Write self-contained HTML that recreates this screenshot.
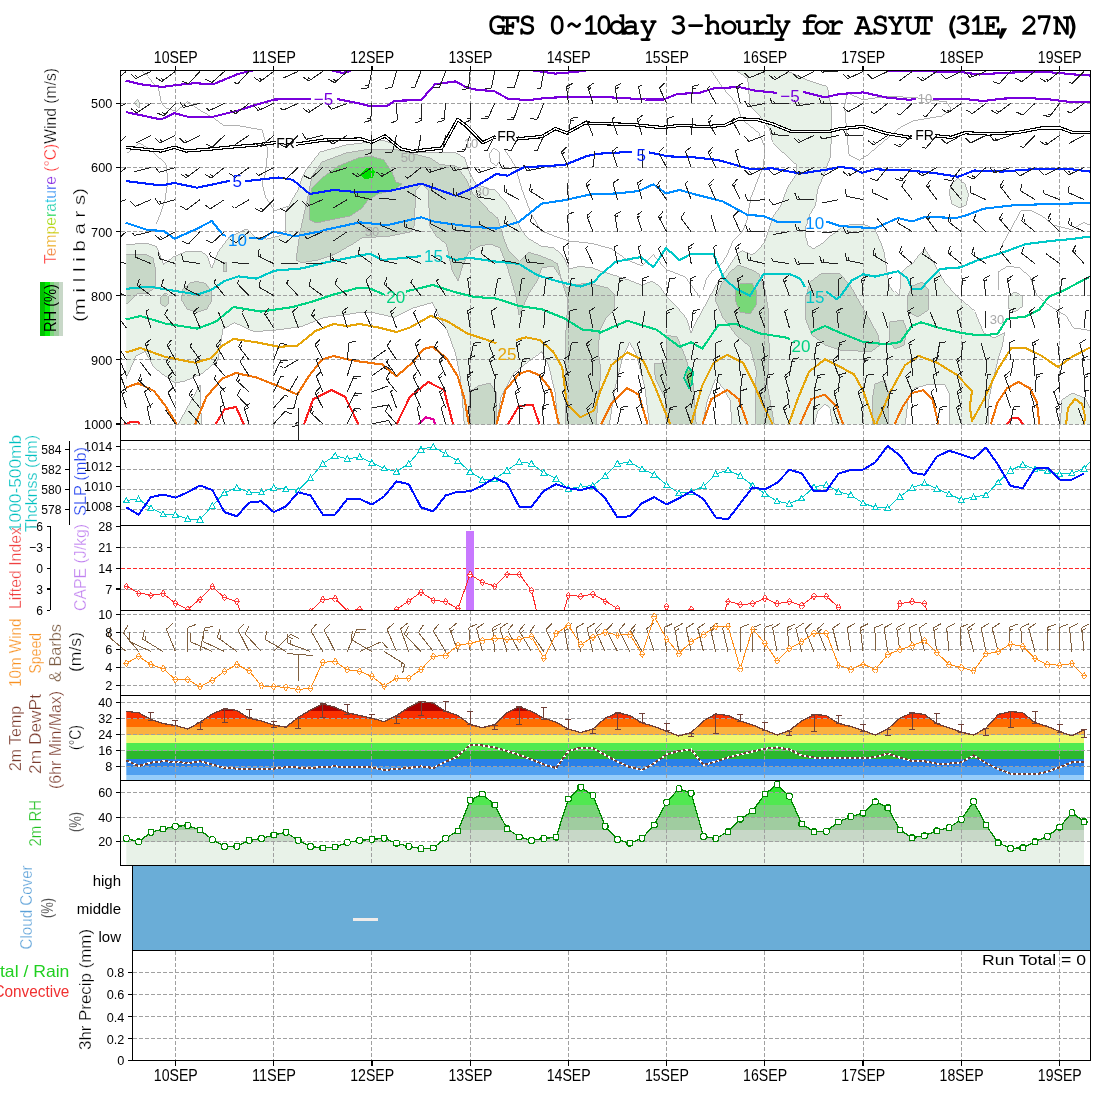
<!DOCTYPE html>
<html><head><meta charset="utf-8"><style>
html,body{margin:0;padding:0;background:#fff;width:1100px;height:1100px;overflow:hidden}
svg{display:block}
.t{font-family:"Liberation Sans",sans-serif}
.thin{stroke:#fff;stroke-width:0.3px}
text{shape-rendering:geometricPrecision}
.title{font-family:"FreeMono","Liberation Mono",monospace;font-weight:normal;stroke:#000;stroke-width:1.5px;font-size-adjust:cap-height 0.58}
</style></head><body>
<svg width="1100" height="1100" viewBox="0 0 1100 1100" shape-rendering="crispEdges">
<rect width="1100" height="1100" fill="#fff"/>
<text class="title" x="488.35 503.10 518.15 532.30 548.15 565.35 582.20 594.90 608.60 622.20 639.45 654.30 669.50 686.75 704.00 719.95 734.95 750.85 762.65 773.55 786.30 799.90 813.10 826.30 840.30 854.50 871.30 887.20 904.05 916.30 928.30 941.30 954.00 969.05 983.55 995.85 1006.30 1020.40 1035.40 1052.90 1065.40" y="34.1" font-size="29" fill="#000">GFS 0~10day 3-hourly for ASYUT (31E, 27N)</text>
<text class="t" x="175.8" y="62.9" font-size="16.8" fill="#000" text-anchor="middle" textLength="44" lengthAdjust="spacingAndGlyphs">10SEP</text>
<text class="t" x="175.8" y="1081.3" font-size="16.8" fill="#000" text-anchor="middle" textLength="44" lengthAdjust="spacingAndGlyphs">10SEP</text>
<text class="t" x="274.0" y="62.9" font-size="16.8" fill="#000" text-anchor="middle" textLength="44" lengthAdjust="spacingAndGlyphs">11SEP</text>
<text class="t" x="274.0" y="1081.3" font-size="16.8" fill="#000" text-anchor="middle" textLength="44" lengthAdjust="spacingAndGlyphs">11SEP</text>
<text class="t" x="372.2" y="62.9" font-size="16.8" fill="#000" text-anchor="middle" textLength="44" lengthAdjust="spacingAndGlyphs">12SEP</text>
<text class="t" x="372.2" y="1081.3" font-size="16.8" fill="#000" text-anchor="middle" textLength="44" lengthAdjust="spacingAndGlyphs">12SEP</text>
<text class="t" x="470.5" y="62.9" font-size="16.8" fill="#000" text-anchor="middle" textLength="44" lengthAdjust="spacingAndGlyphs">13SEP</text>
<text class="t" x="470.5" y="1081.3" font-size="16.8" fill="#000" text-anchor="middle" textLength="44" lengthAdjust="spacingAndGlyphs">13SEP</text>
<text class="t" x="568.7" y="62.9" font-size="16.8" fill="#000" text-anchor="middle" textLength="44" lengthAdjust="spacingAndGlyphs">14SEP</text>
<text class="t" x="568.7" y="1081.3" font-size="16.8" fill="#000" text-anchor="middle" textLength="44" lengthAdjust="spacingAndGlyphs">14SEP</text>
<text class="t" x="666.9" y="62.9" font-size="16.8" fill="#000" text-anchor="middle" textLength="44" lengthAdjust="spacingAndGlyphs">15SEP</text>
<text class="t" x="666.9" y="1081.3" font-size="16.8" fill="#000" text-anchor="middle" textLength="44" lengthAdjust="spacingAndGlyphs">15SEP</text>
<text class="t" x="765.1" y="62.9" font-size="16.8" fill="#000" text-anchor="middle" textLength="44" lengthAdjust="spacingAndGlyphs">16SEP</text>
<text class="t" x="765.1" y="1081.3" font-size="16.8" fill="#000" text-anchor="middle" textLength="44" lengthAdjust="spacingAndGlyphs">16SEP</text>
<text class="t" x="863.3" y="62.9" font-size="16.8" fill="#000" text-anchor="middle" textLength="44" lengthAdjust="spacingAndGlyphs">17SEP</text>
<text class="t" x="863.3" y="1081.3" font-size="16.8" fill="#000" text-anchor="middle" textLength="44" lengthAdjust="spacingAndGlyphs">17SEP</text>
<text class="t" x="961.6" y="62.9" font-size="16.8" fill="#000" text-anchor="middle" textLength="44" lengthAdjust="spacingAndGlyphs">18SEP</text>
<text class="t" x="961.6" y="1081.3" font-size="16.8" fill="#000" text-anchor="middle" textLength="44" lengthAdjust="spacingAndGlyphs">18SEP</text>
<text class="t" x="1059.8" y="62.9" font-size="16.8" fill="#000" text-anchor="middle" textLength="44" lengthAdjust="spacingAndGlyphs">19SEP</text>
<text class="t" x="1059.8" y="1081.3" font-size="16.8" fill="#000" text-anchor="middle" textLength="44" lengthAdjust="spacingAndGlyphs">19SEP</text>
<g id="p1">
<clipPath id="c1"><rect x="121" y="71" width="969" height="353.6"/></clipPath>
<clipPath id="cb1"><rect x="121" y="71" width="969" height="370"/></clipPath>
<clipPath id="c1f"><rect x="126.2" y="71" width="963.8" height="353.6"/></clipPath>
<g clip-path="url(#c1f)">
<polygon points="120.5,244.5 147.3,243.6 156.4,246.4 163.6,264.5 172.7,257.3 185.5,251.8 200.0,251.0 207.3,255.5 211.8,268.2 218.2,251.8 229.0,237.3 245.5,229.0 254.5,237.3 265.5,239.0 280.0,235.5 285.5,233.6 285.5,211.8 292.7,199.0 298.0,190.0 302.0,178.0 306.0,170.0 320.0,152.0 346.0,145.0 370.0,142.0 382.0,140.0 394.0,144.0 410.0,152.0 430.0,152.0 440.0,152.3 456.4,153.0 464.5,158.0 469.5,172.7 476.0,184.2 489.0,189.0 495.0,190.0 506.5,202.7 515.5,218.0 521.8,230.7 528.2,238.4 541.0,246.0 553.6,247.9 561.3,253.6 566.4,262.5 569.0,268.9 579.0,266.4 591.8,267.6 604.5,272.7 617.3,276.5 630.0,280.4 641.8,285.4 652.0,281.0 659.3,286.0 666.5,296.3 677.3,307.3 686.4,318.2 691.0,332.7 696.0,322.0 708.0,300.0 716.0,285.0 725.0,272.0 732.0,262.0 738.0,253.0 742.3,250.7 752.2,255.0 759.8,248.5 765.2,240.9 768.5,231.0 772.9,216.9 780.5,206.0 788.1,186.4 796.9,173.3 796.6,165.0 781.8,151.4 772.7,142.3 769.3,128.6 759.0,115.0 750.0,106.0 747.7,78.6 736.4,70.7 786.4,70.7 806.8,79.8 827.3,86.6 831.8,110.5 830.7,156.0 825.0,171.8 817.5,190.0 815.6,205.3 809.3,215.5 806.0,225.6 805.5,235.8 808.0,244.7 813.0,249.2 822.0,243.5 833.5,233.3 841.0,227.0 851.3,224.4 864.0,224.4 875.5,229.5 880.5,241.0 884.4,253.6 887.0,271.5 889.5,285.5 894.5,291.8 899.6,296.3 901.0,272.7 906.0,267.6 912.4,263.8 920.0,253.6 925.0,249.0 935.0,265.0 945.0,283.0 960.5,300.0 975.0,312.0 983.7,332.7 994.0,338.0 1004.6,332.7 1002.3,346.6 997.6,360.5 993.0,379.0 988.4,402.3 988.4,427.0 120.5,427.0" fill="#e8f2e8" stroke="#a8a8a8" stroke-width="0.9"/>
<polygon points="134.0,103.5 137.5,99.4 140.0,103.0 139.0,107.6" fill="#e8f2e8" stroke="#a8a8a8" stroke-width="0.9"/>
<polygon points="958.0,178.6 965.0,184.0 968.6,195.0 966.0,205.0 960.0,208.0 952.0,204.0 949.0,192.0 952.0,183.0" fill="#e8f2e8" stroke="#a8a8a8" stroke-width="0.9"/>
<polygon points="1008.0,296.0 1015.0,292.0 1022.0,296.0 1023.0,306.0 1015.0,312.0 1008.0,308.0" fill="#e8f2e8" stroke="#a8a8a8" stroke-width="0.9"/>
<polygon points="1060.0,427.0 1062.0,400.0 1072.0,393.0 1085.0,398.0 1090.0,408.0 1090.0,427.0" fill="#e8f2e8" stroke="#a8a8a8" stroke-width="0.9"/>
<polygon points="120.5,380.0 126.0,378.6 136.0,356.0 145.0,351.4 154.0,367.3 165.5,376.4 174.0,383.0 185.0,381.0 202.0,373.6 218.0,360.3 223.0,329.0 234.6,322.7 254.0,331.7 279.0,329.8 301.8,326.4 324.5,317.3 342.7,315.0 358.6,312.7 373.6,312.7 394.0,317.3 412.3,308.2 432.7,302.5 446.4,328.6 455.5,353.6 460.0,376.4 462.3,399.0 464.5,427.0 201.5,427.0 200.0,384.8 176.5,427.0 120.5,427.0" fill="#fff" stroke="#a8a8a8" stroke-width="0.9"/>
<polygon points="496.4,427.0 501.0,396.8 514.5,371.8 530.5,359.3 541.8,351.4 548.6,365.0 555.5,394.5 557.7,427.0" fill="#fff" stroke="#a8a8a8" stroke-width="0.9"/>
<polygon points="609.0,427.0 614.5,390.0 622.7,357.3 629.5,342.3 636.4,354.5 644.5,384.5 650.0,427.0" fill="#fff" stroke="#a8a8a8" stroke-width="0.9"/>
<polygon points="701.8,427.0 707.3,400.9 715.4,379.0 723.6,388.6 730.4,400.9 731.8,427.0" fill="#fff" stroke="#a8a8a8" stroke-width="0.9"/>
<polygon points="813.6,427.0 817.7,411.8 824.5,404.2 830.0,409.0 832.7,427.0" fill="#fff" stroke="#a8a8a8" stroke-width="0.9"/>
<polygon points="905.0,427.0 908.0,400.0 915.0,388.0 930.0,384.0 945.0,385.0 950.0,395.0 949.0,427.0" fill="#fff" stroke="#a8a8a8" stroke-width="0.9"/>
<polygon points="296.0,260.0 300.0,232.0 308.0,196.0 312.0,176.0 322.0,162.0 346.0,153.0 370.0,149.0 398.0,150.0 430.0,158.0 440.0,164.5 456.4,166.2 466.2,179.3 472.7,194.0 481.0,202.2 490.0,211.6 497.6,218.0 502.7,234.5 509.0,251.0 519.3,261.3 528.2,252.4 538.4,255.0 551.0,260.0 557.5,263.8 561.3,279.0 566.4,288.0 573.6,285.0 587.3,283.2 598.6,285.5 608.0,288.0 614.8,295.0 614.0,310.0 606.0,318.0 600.0,330.0 598.0,350.0 601.0,371.0 598.0,400.0 596.0,427.0 566.0,427.0 565.5,380.0 566.0,330.0 568.0,300.0 560.0,276.0 553.2,266.0 541.8,268.0 537.3,281.0 528.0,294.5 519.0,315.0 516.0,296.8 507.7,268.0 500.0,248.0 490.0,244.0 480.0,246.0 469.0,252.0 463.0,265.0 458.0,281.0 452.0,270.0 446.4,244.0 436.0,236.0 430.0,226.0 428.0,190.0 422.0,184.0 416.0,190.0 414.0,226.0 410.0,232.0 390.0,236.0 362.0,238.0 351.8,244.5 336.0,253.6 315.5,260.5 301.8,262.7" fill="#c8d8c8" stroke="#a8a8a8" stroke-width="0.9"/>
<polygon points="120.5,254.0 145.0,254.0 153.0,258.0 156.0,272.0 155.0,288.0 147.0,293.0 137.0,294.0 128.0,303.0 120.5,306.0" fill="#c8d8c8" stroke="#a8a8a8" stroke-width="0.9"/>
<polygon points="164.5,293.0 168.0,296.0 168.5,303.0 165.0,307.0 161.0,304.0 160.5,297.0" fill="#c8d8c8" stroke="#a8a8a8" stroke-width="0.9"/>
<polygon points="196.7,281.5 206.0,283.5 211.5,290.0 212.0,300.0 207.0,309.0 197.0,312.5 187.0,309.0 181.5,300.0 183.0,289.0 190.0,283.0" fill="#c8d8c8" stroke="#a8a8a8" stroke-width="0.9"/>
<polygon points="223.4,262.7 226.8,262.7 226.8,271.8 223.4,271.8" fill="#c8d8c8" stroke="#a8a8a8" stroke-width="0.9"/>
<polygon points="470.0,427.0 469.0,392.0 478.0,386.0 490.0,383.0 496.0,392.0 496.0,427.0" fill="#c8d8c8" stroke="#a8a8a8" stroke-width="0.9"/>
<polygon points="738.6,265.0 752.0,270.0 759.0,274.0 765.0,290.0 768.0,308.0 769.3,353.6 767.3,384.5 775.0,427.0 756.0,427.0 755.0,398.0 756.3,371.0 750.0,346.8 736.4,335.5 722.7,317.3 714.8,299.0 720.5,285.5 730.0,272.0" fill="#c8d8c8" stroke="#a8a8a8" stroke-width="0.9"/>
<polygon points="666.4,335.5 677.3,336.8 685.5,357.3 693.6,384.5 696.4,427.0 666.4,427.0 665.0,398.2 655.4,379.0 654.0,364.0 666.4,362.7" fill="#c8d8c8" stroke="#a8a8a8" stroke-width="0.9"/>
<polygon points="805.0,300.0 810.0,282.0 822.0,273.0 840.0,274.0 850.0,285.0 860.0,303.0 870.0,320.0 878.0,335.0 880.0,345.0 872.0,351.0 858.0,351.0 840.0,350.0 825.0,345.0 812.0,335.0 806.0,320.0" fill="#c8d8c8" stroke="#a8a8a8" stroke-width="0.9"/>
<polygon points="890.0,322.0 903.0,320.0 907.0,330.0 904.0,345.0 895.0,349.0 889.0,340.0" fill="#c8d8c8" stroke="#a8a8a8" stroke-width="0.9"/>
<polygon points="912.0,286.0 922.0,282.0 929.0,290.0 928.0,310.0 918.0,317.0 908.0,312.0 907.0,298.0" fill="#c8d8c8" stroke="#a8a8a8" stroke-width="0.9"/>
<polygon points="875.0,384.0 885.0,380.0 889.0,395.0 888.0,427.0 873.0,427.0 872.0,400.0" fill="#c8d8c8" stroke="#a8a8a8" stroke-width="0.9"/>
<polygon points="310.0,220.0 309.0,200.0 312.0,188.0 322.0,178.0 338.0,166.0 358.0,158.0 370.0,156.0 384.0,160.0 392.0,172.0 396.0,182.0 402.0,184.0 394.0,190.0 378.0,194.0 368.0,200.0 362.0,208.0 350.0,216.0 330.0,220.0 316.0,223.0" fill="#78d878" stroke="#a8a8a8" stroke-width="0.9"/>
<polygon points="740.0,284.0 752.0,283.0 757.0,292.0 756.0,305.0 750.0,314.0 740.0,312.0 735.0,300.0 736.0,289.0" fill="#78d878" stroke="#a8a8a8" stroke-width="0.9"/>
<polygon points="686.0,371.0 692.0,370.0 693.0,380.0 689.0,386.0 686.0,380.0" fill="#78d878" stroke="#a8a8a8" stroke-width="0.9"/>
<polygon points="360.0,175.0 366.0,168.0 372.0,167.0 375.0,172.0 373.0,178.0 364.0,179.0" fill="#00e000"/>
<polyline points="711.4,70.7 722.7,87.7 736.4,103.6 742.0,119.5 759.0,133.2 764.8,146.8 763.6,165.0 751.0,197.3 746.7,221.3 742.3,232.2 733.6,239.8 727.0,255.0 721.6,263.8 711.8,271.4 706.4,279.0 703.0,290.0" fill="none" stroke="#a8a8a8" stroke-width="0.9"/>
<polyline points="505.0,150.0 515.3,166.2 521.8,189.0 530.7,213.0 541.0,230.7 553.6,235.8 568.5,241.0 591.8,243.5 611.0,248.5 627.3,260.0 641.8,265.7 653.5,254.8 666.5,270.0 685.5,277.4 700.0,297.7" fill="none" stroke="#a8a8a8" stroke-width="0.9"/>
<polyline points="847.0,92.8 863.2,99.8 886.4,96.3 914.0,97.5 946.6,102.0 951.3,109.0 942.0,116.0 914.0,120.6 900.0,127.6 886.4,139.2 870.0,153.0 858.5,160.0 849.3,155.4 847.0,134.5 844.6,106.7 847.0,92.8" fill="none" stroke="#a8a8a8" stroke-width="0.9"/>
<polyline points="1002.0,245.0 1020.8,211.0 1030.0,210.0 1041.7,215.7 1053.3,225.0 1071.8,229.6 1083.4,222.6 1090.0,225.0" fill="none" stroke="#a8a8a8" stroke-width="0.9"/>
<polyline points="999.0,290.0 998.0,272.0 1008.0,266.0 1020.0,268.0 1030.0,277.0 1037.0,295.6 1048.6,305.0 1067.0,316.5 1074.0,328.0 1090.0,330.4" fill="none" stroke="#a8a8a8" stroke-width="0.9"/>
<polyline points="141.8,71.0 148.4,76.5 158.2,87.4 161.4,102.7 165.8,108.2 176.7,111.4 187.6,101.6 201.8,111.4 213.8,118.0 223.6,125.6 240.0,126.0 262.0,130.0 268.0,150.0 265.0,175.0 262.0,183.0 265.5,197.0 274.5,210.5 288.0,206.0" fill="none" stroke="#a8a8a8" stroke-width="0.9"/>
<polyline points="126.5,152.9 138.5,143.0 152.7,151.8 165.8,163.8 168.0,180.0 165.0,200.0 160.0,215.0 156.0,224.0" fill="none" stroke="#a8a8a8" stroke-width="0.9"/>
<polyline points="494.0,148.0 499.0,152.0 500.0,160.0 496.0,166.0 491.0,162.0 489.0,154.0 494.0,148.0" fill="none" stroke="#a8a8a8" stroke-width="0.9"/>
</g>
<line x1="120.5" y1="103.4" x2="1090.5" y2="103.4" stroke="#a0a0a0" stroke-width="1" stroke-dasharray="4,2"/>
<line x1="120.5" y1="167.5" x2="1090.5" y2="167.5" stroke="#a0a0a0" stroke-width="1" stroke-dasharray="4,2"/>
<line x1="120.5" y1="231.6" x2="1090.5" y2="231.6" stroke="#a0a0a0" stroke-width="1" stroke-dasharray="4,2"/>
<line x1="120.5" y1="295.7" x2="1090.5" y2="295.7" stroke="#a0a0a0" stroke-width="1" stroke-dasharray="4,2"/>
<line x1="120.5" y1="359.8" x2="1090.5" y2="359.8" stroke="#a0a0a0" stroke-width="1" stroke-dasharray="4,2"/>
<line x1="120.5" y1="424" x2="1090.5" y2="424" stroke="#a0a0a0" stroke-width="1" stroke-dasharray="4,2"/>
<line x1="175.5" y1="70.5" x2="175.5" y2="440.5" stroke="#a0a0a0" stroke-width="1" stroke-dasharray="4,2"/>
<line x1="273.7" y1="70.5" x2="273.7" y2="440.5" stroke="#a0a0a0" stroke-width="1" stroke-dasharray="4,2"/>
<line x1="371.9" y1="70.5" x2="371.9" y2="440.5" stroke="#a0a0a0" stroke-width="1" stroke-dasharray="4,2"/>
<line x1="470.2" y1="70.5" x2="470.2" y2="440.5" stroke="#a0a0a0" stroke-width="1" stroke-dasharray="4,2"/>
<line x1="568.4" y1="70.5" x2="568.4" y2="440.5" stroke="#a0a0a0" stroke-width="1" stroke-dasharray="4,2"/>
<line x1="666.6" y1="70.5" x2="666.6" y2="440.5" stroke="#a0a0a0" stroke-width="1" stroke-dasharray="4,2"/>
<line x1="764.8" y1="70.5" x2="764.8" y2="440.5" stroke="#a0a0a0" stroke-width="1" stroke-dasharray="4,2"/>
<line x1="863.0" y1="70.5" x2="863.0" y2="440.5" stroke="#a0a0a0" stroke-width="1" stroke-dasharray="4,2"/>
<line x1="961.3" y1="70.5" x2="961.3" y2="440.5" stroke="#a0a0a0" stroke-width="1" stroke-dasharray="4,2"/>
<line x1="1059.5" y1="70.5" x2="1059.5" y2="440.5" stroke="#a0a0a0" stroke-width="1" stroke-dasharray="4,2"/>
<g clip-path="url(#c1)">
<polyline points="125.7,80.5 140.5,84.3 162.0,87.0 176.8,85.0 195.0,83.2 213.0,84.3 238.0,74.0 256.4,69.5" fill="none" stroke="#7800dc" stroke-width="2.1" stroke-linejoin="round"/>
<polyline points="330.0,70.0 335.0,71.0 342.0,73.0 349.0,71.5 352.0,70.0" fill="none" stroke="#7800dc" stroke-width="2.1" stroke-linejoin="round"/>
<polyline points="530.0,70.0 540.0,71.5 555.5,73.6 575.0,72.0 589.5,70.0" fill="none" stroke="#7800dc" stroke-width="2.1" stroke-linejoin="round"/>
<polyline points="888.0,71.0 920.0,71.2 960.5,72.0 979.0,74.5 1002.0,73.0 1037.0,71.5 1060.0,73.0 1072.0,74.3 1090.0,75.5" fill="none" stroke="#7800dc" stroke-width="2.1" stroke-linejoin="round"/>
<polyline points="125.7,112.0 161.0,119.5 174.5,113.2 188.0,116.8 213.0,116.8 238.0,110.5 256.0,104.8 274.5,99.5 311.0,99.0" fill="none" stroke="#7800dc" stroke-width="2.1" stroke-linejoin="round"/>
<polyline points="337.0,99.0 360.0,103.6 371.4,106.4 387.0,106.0 395.0,100.7 421.0,100.2 435.0,84.3 455.5,81.4 467.0,87.7 478.0,90.0 494.0,91.0 507.7,98.6 528.0,100.2 546.0,98.0 569.0,96.8 600.0,96.8 622.7,98.0 645.5,99.5 663.6,99.5 677.3,94.0 700.0,92.7 713.6,88.4 738.6,87.0 754.5,90.5 775.0,92.7 777.0,92.7" fill="none" stroke="#7800dc" stroke-width="2.1" stroke-linejoin="round"/>
<polyline points="803.0,92.3 804.5,92.3 825.0,97.3 840.0,94.0 863.2,92.4 886.4,97.5 909.5,99.8 916.0,99.0" fill="none" stroke="#7800dc" stroke-width="2.1" stroke-linejoin="round"/>
<polyline points="933.0,98.6 960.5,98.6 983.7,101.0 1002.3,98.6 1025.4,97.9 1048.6,99.3 1071.8,102.1 1090.0,102.1" fill="none" stroke="#7800dc" stroke-width="2.1" stroke-linejoin="round"/>
<polyline points="125.7,181.0 161.0,185.5 174.5,183.0 197.0,187.7 229.0,181.0 230.0,181.0" fill="none" stroke="#0020ff" stroke-width="2.1" stroke-linejoin="round"/>
<polyline points="245.0,181.0 247.0,181.0 279.0,177.5 292.7,179.8 309.8,194.0 333.6,190.0 360.0,192.3 389.5,191.0 421.4,183.6 455.5,195.7 473.6,187.7 496.4,174.0 507.7,175.7 523.6,167.3 564.5,165.0 587.0,156.0 600.0,153.6 632.0,151.8" fill="none" stroke="#0020ff" stroke-width="2.1" stroke-linejoin="round"/>
<polyline points="649.0,152.5 650.0,152.5 668.2,156.4 691.0,157.0 718.0,160.0 750.0,169.0 772.7,168.4 800.0,173.6 827.3,169.5 840.0,167.0 851.6,168.2 862.0,172.8 874.8,169.3 909.5,170.5 932.7,172.8 958.2,176.7 974.4,170.5 1002.3,171.6 1037.0,168.8 1071.8,169.3 1090.0,171.6" fill="none" stroke="#0020ff" stroke-width="2.1" stroke-linejoin="round"/>
<polyline points="125.5,222.7 147.3,230.0 163.6,231.0 174.5,238.7 196.4,229.0 211.8,221.0 222.7,234.5 226.0,236.0" fill="none" stroke="#008cff" stroke-width="2.1" stroke-linejoin="round"/>
<polyline points="249.0,237.6 251.0,237.6 261.8,239.0 272.7,231.8 283.6,233.6 294.5,236.4 320.0,231.5 324.5,230.0 360.0,222.3 387.0,225.2 421.4,217.3 435.0,221.8 469.0,226.4 496.4,228.6 519.0,221.8 541.8,203.6 564.5,200.2 592.0,194.0 600.0,194.0 618.0,193.4 638.6,191.0 653.4,184.3 666.0,193.4 679.5,190.0 695.5,194.5 722.7,201.4 747.7,215.0 763.6,216.0 777.3,221.8 801.0,221.8" fill="none" stroke="#008cff" stroke-width="2.1" stroke-linejoin="round"/>
<polyline points="826.0,221.8 827.3,221.8 840.0,226.0 874.8,228.4 898.0,218.0 911.9,221.5 925.8,216.8 955.9,218.0 965.2,215.7 983.7,208.7 1013.9,205.2 1048.6,204.1 1090.0,203.0" fill="none" stroke="#008cff" stroke-width="2.1" stroke-linejoin="round"/>
<polyline points="125.7,288.9 149.5,286.6 175.7,291.0 197.3,294.5 211.0,290.0 224.5,281.0 238.2,276.4 256.4,278.6 274.5,270.7 301.8,268.4 324.5,262.7 347.3,258.2 370.0,253.6 382.7,260.0 419.0,256.4 421.0,256.4" fill="none" stroke="#00c8c8" stroke-width="2.1" stroke-linejoin="round"/>
<polyline points="446.0,256.0 446.4,256.0 455.5,260.0 469.0,257.7 496.4,261.6 519.0,263.9 537.3,275.2 560.0,282.0 580.5,286.6 594.0,282.0 600.0,275.2 616.0,261.6 641.0,257.0 653.4,267.3 666.0,248.0 679.5,260.0 691.0,254.0 713.6,254.0 723.9,278.6 736.4,288.9 750.0,295.7 763.6,274.0 788.6,273.6 800.0,278.6 805.0,287.0" fill="none" stroke="#00c8c8" stroke-width="2.1" stroke-linejoin="round"/>
<polyline points="826.0,292.0 827.3,292.3 836.4,299.0 840.0,296.8 851.6,280.6 863.2,274.3 874.8,276.6 898.0,271.3 907.2,278.2 911.9,288.7 921.0,288.7 939.7,269.0 960.5,267.4 979.0,259.7 1002.3,252.7 1025.4,244.2 1048.6,241.2 1071.8,239.0 1090.0,236.5" fill="none" stroke="#00c8c8" stroke-width="2.1" stroke-linejoin="round"/>
<polyline points="125.7,319.5 140.5,316.0 165.5,323.6 197.3,328.6 215.5,321.8 233.6,307.0 261.0,311.6 292.7,307.0 313.2,301.4 333.6,294.5 358.6,287.7 370.0,288.5 382.7,294.0 385.0,295.0" fill="none" stroke="#00d282" stroke-width="2.1" stroke-linejoin="round"/>
<polyline points="406.0,292.0 407.7,291.0 432.7,285.0 455.5,292.3 473.6,296.8 496.4,298.6 519.0,306.0 541.8,309.3 564.5,318.4 582.7,329.8 598.6,331.0 600.0,332.7 627.3,320.7 656.8,329.8 679.5,346.8 691.0,342.3 702.3,348.6 718.2,325.2 736.4,324.0 759.0,333.2 786.4,337.7 790.0,339.0" fill="none" stroke="#00d282" stroke-width="2.1" stroke-linejoin="round"/>
<polyline points="811.0,333.0 813.6,331.0 825.0,326.0 840.0,332.7 863.2,342.0 886.4,344.3 900.3,342.0 911.9,325.8 921.0,322.3 939.7,328.0 960.5,332.7 979.0,335.5 997.6,333.9 1007.0,318.8 1025.4,316.5 1039.3,309.5 1048.6,296.8 1062.5,291.0 1089.2,277.0" fill="none" stroke="#00d282" stroke-width="2.1" stroke-linejoin="round"/>
<polyline points="125.7,352.5 140.5,348.0 165.5,357.0 195.0,362.7 211.0,358.2 222.3,345.7 233.6,338.9 256.4,342.3 279.0,346.8 297.3,345.7 315.5,331.0 333.6,324.0 347.3,326.0 360.0,324.0 378.2,327.5 396.4,332.0 410.0,327.5 430.5,316.0 446.4,320.7 466.8,333.2 487.3,340.0 496.4,343.4" fill="none" stroke="#e6a50a" stroke-width="2.1" stroke-linejoin="round"/>
<polyline points="516.0,340.0 526.0,337.3 539.5,340.0 553.0,351.4 562.3,367.3 566.8,403.6 580.5,417.3 594.0,410.5 600.0,392.0 611.4,365.0 627.3,352.5 643.2,360.5 654.5,385.5 663.6,408.2 670.5,424.5" fill="none" stroke="#e6a50a" stroke-width="2.1" stroke-linejoin="round"/>
<polyline points="691.0,424.5 702.3,385.5 713.6,362.7 727.3,354.8 743.2,362.7 754.5,385.5 763.6,406.0 772.7,424.5" fill="none" stroke="#e6a50a" stroke-width="2.1" stroke-linejoin="round"/>
<polyline points="788.6,424.5 797.7,399.0 809.0,371.8 825.0,359.3 841.0,367.3 854.0,374.4 863.2,390.7 874.8,424.5" fill="none" stroke="#e6a50a" stroke-width="2.1" stroke-linejoin="round"/>
<polyline points="876.0,424.5 891.0,390.7 905.0,365.2 918.8,355.9 937.4,362.9 956.0,374.4 972.1,390.7 969.8,406.9 972.1,420.8 983.7,400.0 997.6,369.8 1011.5,347.8 1025.4,347.8 1041.7,355.9 1057.9,367.0 1071.8,357.0 1090.0,347.5" fill="none" stroke="#e6a50a" stroke-width="2.1" stroke-linejoin="round"/>
<polyline points="1066.0,424.5 1068.0,408.0 1075.0,399.0 1082.0,404.0 1085.0,416.0 1084.0,424.5" fill="none" stroke="#e6a50a" stroke-width="2.1" stroke-linejoin="round"/>
<polyline points="125.7,387.7 138.2,383.2 154.0,391.0 165.5,406.0 176.8,424.5" fill="none" stroke="#f0730a" stroke-width="2.1" stroke-linejoin="round"/>
<polyline points="195.0,424.5 206.4,396.8 222.3,378.6 236.0,373.0 256.4,377.5 276.8,385.5 297.3,394.5 308.6,376.4 322.3,359.3 333.6,356.0 347.3,359.3 360.0,361.6 382.7,364.5 396.4,376.4 412.3,362.7 423.6,349.0 432.7,346.8 446.4,358.2 457.7,376.4 464.5,399.0 469.0,424.5" fill="none" stroke="#f0730a" stroke-width="2.1" stroke-linejoin="round"/>
<polyline points="496.4,424.5 505.5,390.0 519.0,374.0 528.2,370.7 539.5,375.2 551.0,390.0 558.9,424.5" fill="none" stroke="#f0730a" stroke-width="2.1" stroke-linejoin="round"/>
<polyline points="601.0,424.5 611.4,403.6 627.3,388.2 638.6,394.5 647.7,424.5" fill="none" stroke="#f0730a" stroke-width="2.1" stroke-linejoin="round"/>
<polyline points="702.3,424.5 711.4,399.0 727.3,390.0 738.6,399.0 747.7,424.5" fill="none" stroke="#f0730a" stroke-width="2.1" stroke-linejoin="round"/>
<polyline points="800.0,424.5 811.4,399.0 825.0,394.5 836.4,406.0 843.2,424.5" fill="none" stroke="#f0730a" stroke-width="2.1" stroke-linejoin="round"/>
<polyline points="894.5,424.5 902.6,406.9 911.9,393.0 923.4,390.2 932.7,400.0 938.5,424.5" fill="none" stroke="#f0730a" stroke-width="2.1" stroke-linejoin="round"/>
<polyline points="990.7,424.5 997.6,402.3 1006.9,388.4 1018.5,381.9 1030.0,388.4 1037.0,402.3 1039.3,424.5" fill="none" stroke="#f0730a" stroke-width="2.1" stroke-linejoin="round"/>
<polyline points="124.5,424.5 131.4,421.8 138.2,421.8 139.3,424.5" fill="none" stroke="#fa1e1e" stroke-width="2.1" stroke-linejoin="round"/>
<polyline points="215.5,424.5 224.5,409.3 236.0,407.0 243.9,424.5" fill="none" stroke="#fa1e1e" stroke-width="2.1" stroke-linejoin="round"/>
<polyline points="304.0,424.5 313.2,399.0 331.4,390.0 345.0,396.8 358.6,424.5" fill="none" stroke="#fa1e1e" stroke-width="2.1" stroke-linejoin="round"/>
<polyline points="396.4,424.5 410.0,396.8 428.2,382.0 444.0,390.0 453.2,424.5" fill="none" stroke="#fa1e1e" stroke-width="2.1" stroke-linejoin="round"/>
<polyline points="507.7,424.5 519.0,406.0 532.7,404.8 539.5,424.5" fill="none" stroke="#fa1e1e" stroke-width="2.1" stroke-linejoin="round"/>
<polyline points="1006.9,424.5 1011.5,418.5 1018.5,418.0 1023.1,424.5" fill="none" stroke="#fa1e1e" stroke-width="2.1" stroke-linejoin="round"/>
<polyline points="418.0,424.5 426.0,417.3 433.9,419.5 435.0,424.5" fill="none" stroke="#e0009c" stroke-width="2.1" stroke-linejoin="round"/>
<polyline points="688.0,367.0 693.0,372.0 692.0,384.0 689.0,388.0 684.0,378.0 688.0,367.0" fill="none" stroke="#00c88c" stroke-width="1.6" stroke-linejoin="round"/>
<polyline points="125.7,147.3 161.0,151.0 174.5,147.3 186.0,151.0 211.0,149.0 233.6,146.8 256.0,145.0 274.5,142.7 276.0,142.6" fill="none" stroke="#000" stroke-width="3.4" stroke-linejoin="round"/>
<polyline points="125.7,147.3 161.0,151.0 174.5,147.3 186.0,151.0 211.0,149.0 233.6,146.8 256.0,145.0 274.5,142.7 276.0,142.6" fill="none" stroke="#fff" stroke-width="1.2" stroke-linejoin="round"/>
<polyline points="296.0,144.0 297.0,144.0 324.5,140.0 361.0,139.0 371.4,142.3 385.0,136.0 401.0,149.0 412.0,151.4 441.8,148.0 457.7,119.5 466.8,126.4 482.7,142.7 494.0,137.3 496.0,137.5" fill="none" stroke="#000" stroke-width="3.4" stroke-linejoin="round"/>
<polyline points="296.0,144.0 297.0,144.0 324.5,140.0 361.0,139.0 371.4,142.3 385.0,136.0 401.0,149.0 412.0,151.4 441.8,148.0 457.7,119.5 466.8,126.4 482.7,142.7 494.0,137.3 496.0,137.5" fill="none" stroke="#fff" stroke-width="1.2" stroke-linejoin="round"/>
<polyline points="516.0,138.9 516.8,138.9 541.8,136.6 555.5,128.6 566.8,133.0 585.0,123.0 600.0,123.6 631.8,124.5 661.4,127.5 681.8,125.2 704.5,126.8 725.0,125.2 738.6,119.0 756.8,119.5 772.7,124.0 791.0,131.4 829.5,131.4 840.0,128.7 863.2,126.4 886.4,133.4 909.5,137.3 912.0,137.0" fill="none" stroke="#000" stroke-width="3.4" stroke-linejoin="round"/>
<polyline points="516.0,138.9 516.8,138.9 541.8,136.6 555.5,128.6 566.8,133.0 585.0,123.0 600.0,123.6 631.8,124.5 661.4,127.5 681.8,125.2 704.5,126.8 725.0,125.2 738.6,119.0 756.8,119.5 772.7,124.0 791.0,131.4 829.5,131.4 840.0,128.7 863.2,126.4 886.4,133.4 909.5,137.3 912.0,137.0" fill="none" stroke="#fff" stroke-width="1.2" stroke-linejoin="round"/>
<polyline points="935.0,135.7 951.3,137.3 965.2,132.7 988.4,134.0 1016.2,132.7 1041.7,128.0 1060.2,128.0 1071.8,132.2 1090.0,132.7" fill="none" stroke="#000" stroke-width="3.4" stroke-linejoin="round"/>
<polyline points="935.0,135.7 951.3,137.3 965.2,132.7 988.4,134.0 1016.2,132.7 1041.7,128.0 1060.2,128.0 1071.8,132.2 1090.0,132.7" fill="none" stroke="#fff" stroke-width="1.2" stroke-linejoin="round"/>
</g>
<path d="M126.3,71.4L113.2,82.1M113.2,82.1L107.1,78.6M115.1,80.6L112.1,78.8M126.3,103.4L111.1,110.9M111.1,110.9L106.0,106.1M113.3,109.8L110.8,107.4M126.3,135.4L114.8,148.0M114.8,148.0L111.6,146.7M126.3,167.5L113.2,178.3M113.2,178.3L110.2,176.6M126.3,199.6L110.1,204.8M110.1,204.8L105.8,199.2M126.3,231.6L113.8,243.1M113.8,243.1L107.6,239.9M126.3,263.6L109.9,259.0M126.3,295.7L110.3,290.1M110.3,290.1L110.2,286.6M126.3,327.8L116.0,314.2M116.0,314.2L119.8,308.3M126.3,359.8L117.5,345.2M126.3,375.8L119.9,360.1M119.9,360.1L122.4,357.7M126.3,391.9L120.7,375.8M120.7,375.8L126.1,371.4M126.3,407.9L121.5,391.6M121.5,391.6L127.1,387.4M122.2,394.0L125.0,391.9M126.3,423.9L115.3,410.9M115.3,410.9L117.1,407.9M150.9,71.4L135.5,78.7M135.5,78.7L130.5,73.7M137.8,77.6L135.3,75.1M150.9,103.4L136.8,112.9M136.8,112.9L131.1,108.8M138.9,111.5L136.0,109.5M150.9,135.4L135.7,143.2M150.9,167.5L134.4,171.8M150.9,199.6L135.3,206.4M135.3,206.4L130.5,201.4M150.9,231.6L134.3,235.5M134.3,235.5L132.4,232.6M150.9,263.6L135.2,257.1M135.2,257.1L135.5,250.1M150.9,295.7L137.4,285.3M137.4,285.3L139.5,278.6M139.4,286.8L140.4,283.5M150.9,327.8L145.8,311.5M145.8,311.5L148.6,309.4M150.9,359.8L145.3,343.7M145.3,343.7L150.7,339.3M146.1,346.1L148.8,343.9M150.9,375.8L140.5,362.3M150.9,391.9L138.5,380.1M138.5,380.1L141.3,373.7M140.4,381.9L141.8,378.6M150.9,407.9L144.5,392.1M144.5,392.1L149.6,387.4M150.9,423.9L147.1,407.3M147.1,407.3L153.0,403.5M175.4,71.4L161.8,81.5M161.8,81.5L156.0,77.7M163.8,80.0L160.9,78.1M175.4,103.4L163.8,115.8M163.8,115.8L157.4,113.1M165.5,114.0L162.3,112.6M175.4,135.4L160.1,142.9M160.1,142.9L155.1,138.0M162.4,141.8L159.9,139.4M175.4,167.5L159.1,172.4M159.1,172.4L155.0,166.8M175.4,199.6L159.1,204.2M159.1,204.2L155.0,198.5M161.5,203.5L159.4,200.6M175.4,231.6L160.6,239.9M160.6,239.9L155.3,235.3M162.8,238.7L160.1,236.4M175.4,263.6L159.2,258.6M159.2,258.6L158.8,251.7M175.4,295.7L161.5,285.9M161.5,285.9L163.4,279.1M175.4,327.8L164.6,314.6M164.6,314.6L168.2,308.6M175.4,359.8L167.1,345.0M167.1,345.0L171.7,339.7M168.3,347.1L170.6,344.5M175.4,375.8L166.1,361.6M166.1,361.6L170.4,356.0M167.5,363.7L169.6,360.9M175.4,391.9L168.0,376.5M168.0,376.5L172.9,371.5M169.1,378.8L171.5,376.3M175.4,407.9L168.1,392.5M168.1,392.5L173.0,387.5M175.4,423.9L165.6,410.0M200.0,71.4L188.4,83.8M188.4,83.8L182.0,81.1M200.0,103.4L183.4,107.3M183.4,107.3L179.6,101.5M185.9,106.7L183.9,103.8M200.0,135.4L184.8,143.1M184.8,143.1L179.7,138.3M187.0,142.0L184.5,139.6M200.0,167.5L186.4,177.7M186.4,177.7L180.5,173.8M188.4,176.2L185.4,174.3M200.0,199.6L186.4,209.8M186.4,209.8L180.6,206.0M200.0,231.6L188.4,244.0M188.4,244.0L181.9,241.3M200.0,263.6L183.2,261.2M183.2,261.2L181.7,254.4M200.0,295.7L184.6,288.4M184.6,288.4L185.3,281.4M186.9,289.4L187.2,286.0M200.0,327.8L193.4,312.1M193.4,312.1L198.5,307.3M194.3,314.4L196.9,312.0M200.0,359.8L190.0,346.0M190.0,346.0L191.9,343.1M200.0,375.8L195.0,359.6M195.0,359.6L200.5,355.4M195.7,362.0L198.5,359.9M200.0,391.9L192.9,376.4M192.9,376.4L195.4,373.9M200.0,407.9L189.1,394.8M189.1,394.8L192.6,388.8M190.7,396.8L192.4,393.7M200.0,423.9L188.8,411.1M224.5,71.4L211.8,82.6M211.8,82.6L205.6,79.2M224.5,103.4L209.1,110.6M209.1,110.6L206.6,108.1M224.5,135.4L212.2,147.1M212.2,147.1L205.9,144.0M224.5,167.5L211.2,178.0M211.2,178.0L205.2,174.3M213.2,176.5L210.2,174.6M224.5,199.6L210.3,208.8M210.3,208.8L204.7,204.6M224.5,231.6L212.0,243.1M212.0,243.1L205.8,239.8M224.5,263.6L209.6,255.5M209.6,255.5L210.2,252.0M224.5,295.7L213.9,282.5M213.9,282.5L215.7,279.5M224.5,327.8L218.4,311.9M224.5,359.8L216.2,345.0M216.2,345.0L220.8,339.7M217.4,347.2L219.7,344.5M224.5,375.8L213.7,362.8M213.7,362.8L217.2,356.7M215.3,364.7L217.0,361.7M224.5,391.9L214.2,378.4M214.2,378.4L216.0,375.4M224.5,407.9L220.0,391.5M220.0,391.5L225.7,387.4M224.5,423.9L219.9,407.5M219.9,407.5L222.8,405.5M249.1,71.4L237.6,83.9M237.6,83.9L234.4,82.6M249.1,103.4L235.6,113.7M235.6,113.7L229.7,109.9M237.6,112.2L234.6,110.3M249.1,135.4L234.9,144.7M249.1,167.5L235.3,177.4M235.3,177.4L229.5,173.5M249.1,199.6L234.5,208.3M234.5,208.3L231.8,206.0M249.1,231.6L236.2,242.7M236.2,242.7L230.1,239.3M249.1,263.6L232.1,262.7M249.1,295.7L237.3,283.5M237.3,283.5L238.8,280.3M249.1,327.8L241.8,312.4M241.8,312.4L244.3,309.9M249.1,359.8L238.6,346.4M238.6,346.4L242.3,340.5M240.1,348.4L242.0,345.4M249.1,375.8L239.9,361.5M239.9,361.5L244.1,356.0M249.1,391.9L236.5,380.5M236.5,380.5L239.1,374.0M238.3,382.1L239.7,378.9M249.1,407.9L237.4,395.5M237.4,395.5L240.5,389.3M249.1,423.9L244.1,407.7M244.1,407.7L249.6,403.4M244.8,410.1L247.6,407.9M273.7,71.4L260.0,81.5M260.0,81.5L254.2,77.6M262.0,80.0L259.1,78.1M273.7,103.4L258.2,110.5M258.2,110.5L253.3,105.5M260.5,109.5L258.0,107.0M273.7,135.4L260.9,146.6M260.9,146.6L254.7,143.2M262.7,145.0L259.7,143.3M273.7,167.5L258.7,175.5M258.7,175.5L256.0,173.1M273.7,199.6L261.7,211.6M261.7,211.6L255.3,208.7M263.4,209.8L260.3,208.4M273.7,231.6L258.4,239.1M258.4,239.1L255.9,236.7M273.7,263.6L258.4,256.2M258.4,256.2L259.1,249.3M260.6,257.3L261.0,253.8M273.7,295.7L259.0,287.1M259.0,287.1L260.3,280.2M273.7,327.8L264.4,313.5M264.4,313.5L268.7,307.9M265.8,315.6L267.9,312.8M273.7,359.8L279.8,343.9M279.8,343.9L286.8,344.1M273.7,375.8L280.6,360.3M280.6,360.3L287.6,360.8M279.6,362.6L283.0,362.8M273.7,391.9L280.8,376.4M280.8,376.4L284.3,376.7M273.7,407.9L285.0,395.2M285.0,395.2L288.3,396.6M273.7,423.9L285.0,411.3M285.0,411.3L291.5,413.9M298.2,71.4L282.7,78.3M298.2,103.4L282.7,110.3M282.7,110.3L280.3,107.8M298.2,135.4L286.1,147.3M286.1,147.3L279.7,144.3M287.8,145.6L284.7,144.1M298.2,167.5L285.8,179.1M285.8,179.1L282.6,177.5M298.2,199.6L286.1,211.5M286.1,211.5L279.8,208.5M298.2,231.6L285.5,242.9M285.5,242.9L279.3,239.5M298.2,263.6L281.2,263.2M298.2,295.7L286.6,283.2M286.6,283.2L288.2,280.1M298.2,327.8L292.6,311.7M292.6,311.7L298.0,307.3M298.2,359.8L283.5,368.3M283.5,368.3L280.8,366.1M298.2,375.8L289.7,390.5M289.7,390.5L286.3,389.9M298.2,391.9L293.8,408.3M293.8,408.3L286.8,408.9M298.2,407.9L298.2,424.9M298.2,424.9L291.6,427.3M298.2,422.4L294.9,423.6M298.2,423.9L298.2,440.9M298.2,440.9L294.9,442.1M322.8,71.4L308.8,81.0M308.8,81.0L303.1,77.0M310.9,79.6L308.0,77.6M322.8,103.4L308.5,112.6M308.5,112.6L302.9,108.4M310.6,111.3L307.8,109.2M322.8,135.4L306.2,139.3M306.2,139.3L302.4,133.4M322.8,167.5L310.2,178.9M310.2,178.9L304.0,175.7M322.8,199.6L307.2,206.4M307.2,206.4L302.4,201.3M309.5,205.4L307.1,202.9M322.8,231.6L307.4,238.7M307.4,238.7L304.9,236.3M322.8,263.6L305.8,263.5M322.8,295.7L309.0,285.8M309.0,285.8L310.8,279.1M322.8,327.8L311.6,315.0M311.6,315.0L314.9,308.8M313.2,316.9L314.9,313.8M322.8,359.8L315.1,344.6M315.1,344.6L319.9,339.5M316.2,346.9L318.6,344.3M322.8,375.8L316.1,360.2M316.1,360.2L318.7,357.8M322.8,391.9L316.2,376.2M316.2,376.2L321.4,371.4M322.8,407.9L315.1,392.7M315.1,392.7L319.9,387.6M316.2,394.9L318.6,392.4M322.8,423.9L310.3,412.3M310.3,412.3L313.0,405.9M312.1,414.0L313.5,410.8M347.3,71.4L334.7,82.7M334.7,82.7L328.5,79.4M336.5,81.0L333.4,79.4M347.3,103.4L331.4,109.3M331.4,109.3L326.9,103.9M347.3,135.4L332.7,144.1M332.7,144.1L327.3,139.7M334.9,142.9L332.2,140.6M347.3,167.5L331.2,172.7M331.2,172.7L329.0,170.0M347.3,199.6L332.7,208.2M347.3,231.6L333.2,241.0M347.3,263.6L330.8,259.6M330.8,259.6L330.1,252.6M333.3,260.2L332.9,256.7M347.3,295.7L334.9,284.1M334.9,284.1L337.6,277.7M347.3,327.8L342.3,311.5M342.3,311.5L347.9,307.3M343.0,313.9L345.8,311.8M347.3,359.8L348.8,342.9M348.8,342.9L355.6,341.1M347.3,375.8L352.3,359.6M352.3,359.6L355.8,359.4M347.3,391.9L354.0,376.2M354.0,376.2L361.0,376.6M353.0,378.5L356.5,378.7M347.3,407.9L355.3,392.9M355.3,392.9L362.3,393.8M354.1,395.1L357.6,395.6M347.3,423.9L354.5,408.5M354.5,408.5L361.5,409.1M353.5,410.8L357.0,411.1M371.9,71.4L368.1,87.9M368.1,87.9L361.2,88.8M368.7,85.5L365.2,85.9M371.9,103.4L370.7,120.4M370.7,120.4L364.0,122.3M370.9,117.9L367.5,118.8M371.9,135.4L372.0,152.4M372.0,152.4L365.5,154.9M371.9,167.5L357.8,177.0M357.8,177.0L352.1,172.9M359.9,175.6L357.0,173.5M371.9,199.6L355.3,196.0M355.3,196.0L354.3,189.1M357.7,196.6L357.2,193.1M371.9,231.6L357.8,222.1M357.8,222.1L358.6,218.7M371.9,263.6L358.1,253.7M358.1,253.7L360.0,247.0M371.9,295.7L365.9,279.8M365.9,279.8L371.2,275.2M371.9,327.8L364.9,312.3M364.9,312.3L367.4,309.8M371.9,359.8L385.8,350.0M371.9,375.8L385.8,366.1M385.8,366.1L391.6,370.1M383.8,367.5L386.6,369.5M371.9,391.9L387.9,386.0M371.9,407.9L388.6,404.9M388.6,404.9L392.1,411.0M371.9,423.9L388.5,420.4M388.5,420.4L392.2,426.3M396.5,71.4L391.9,87.7M391.9,87.7L384.9,88.3M396.5,103.4L397.3,120.4M397.3,120.4L390.9,123.1M396.5,135.4L392.5,152.0M392.5,152.0L385.5,152.8M396.5,167.5L382.0,176.4M382.0,176.4L376.5,172.0M384.1,175.1L381.4,172.9M396.5,199.6L379.5,198.2M396.5,231.6L380.6,225.4M380.6,225.4L380.7,221.9M396.5,263.6L379.8,260.2M379.8,260.2L378.8,253.3M396.5,295.7L384.1,284.0M384.1,284.0L386.9,277.6M385.9,285.7L387.3,282.5M396.5,327.8L390.6,311.8M390.6,311.8L395.9,307.3M391.4,314.2L394.1,311.9M396.5,359.8L387.1,345.6M387.1,345.6L391.2,340.0M396.5,375.8L386.6,362.0M386.6,362.0L388.6,359.1M396.5,391.9L385.9,378.5M385.9,378.5L389.6,372.5M387.5,380.5L389.3,377.5M396.5,407.9L390.7,391.9M390.7,391.9L393.3,389.6M396.5,423.9L385.3,411.1M385.3,411.1L388.6,405.0M421.0,71.4L414.8,87.2M414.8,87.2L411.3,87.1M421.0,103.4L421.8,120.4M421.8,120.4L415.4,123.1M421.7,117.9L418.5,119.2M421.0,135.4L417.8,152.1M417.8,152.1L410.9,153.2M418.3,149.7L414.8,150.2M421.0,167.5L407.8,178.2M407.8,178.2L404.8,176.4M421.0,199.6L406.4,190.8M421.0,231.6L404.7,227.0M404.7,227.0L404.1,220.0M407.1,227.7L406.8,224.2M421.0,263.6L405.6,256.5M421.0,295.7L410.7,282.2M410.7,282.2L412.6,279.2M421.0,327.8L413.5,312.5M413.5,312.5L415.9,310.0M421.0,359.8L415.1,343.9M415.1,343.9L420.5,339.3M416.0,346.2L418.7,343.9M421.0,375.8L412.7,361.0M412.7,361.0L417.3,355.7M414.0,363.2L416.2,360.5M421.0,391.9L412.8,377.0M412.8,377.0L417.4,371.7M414.0,379.2L416.3,376.5M421.0,407.9L413.9,392.4M413.9,392.4L418.9,387.5M415.0,394.7L417.4,392.2M421.0,423.9L417.1,407.4M417.1,407.4L420.0,405.4M445.6,71.4L439.6,87.3M439.6,87.3L432.6,87.2M440.5,84.9L437.0,84.9M445.6,103.4L444.1,120.3M444.1,120.3L437.4,122.2M444.3,117.8L440.9,118.8M445.6,135.4L442.2,152.1M442.2,152.1L438.8,152.6M445.6,167.5L429.3,172.4M429.3,172.4L425.1,166.8M431.7,171.7L429.6,168.8M445.6,199.6L431.3,190.3M431.3,190.3L432.9,183.5M445.6,231.6L430.5,223.7M430.5,223.7L431.0,220.2M445.6,263.6L431.0,254.9M445.6,295.7L436.5,281.3M436.5,281.3L438.6,278.6M445.6,327.8L433.8,315.5M433.8,315.5L436.8,309.2M435.5,317.3L437.0,314.2M445.6,359.8L434.5,346.9M434.5,346.9L437.9,340.8M436.1,348.8L437.8,345.8M445.6,375.8L439.0,360.2M439.0,360.2L444.1,355.4M440.0,362.5L442.5,360.1M445.6,391.9L438.5,376.4M438.5,376.4L443.5,371.5M439.5,378.7L442.0,376.2M445.6,407.9L439.6,392.0M439.6,392.0L444.9,387.4M440.4,394.3L443.1,392.0M445.6,423.9L441.0,407.5M441.0,407.5L443.8,405.5M470.1,71.4L468.6,88.3M468.6,88.3L461.8,90.0M468.8,85.8L465.4,86.7M470.1,103.4L470.1,120.4M470.1,120.4L463.5,122.8M470.1,117.9L466.8,119.1M470.1,135.4L464.3,151.4M464.3,151.4L457.3,151.4M465.1,149.1L461.6,149.0M470.1,167.5L453.5,170.7M453.5,170.7L449.8,164.7M455.9,170.3L454.1,167.3M470.1,199.6L453.8,194.7M453.8,194.7L453.4,187.7M456.2,195.4L456.0,191.9M470.1,231.6L453.2,229.8M453.2,229.8L451.5,223.0M455.7,230.1L454.9,226.7M470.1,263.6L453.2,262.4M453.2,262.4L451.3,255.7M455.7,262.6L454.7,259.2M470.1,295.7L467.7,278.9M467.7,278.9L470.8,277.2M470.1,327.8L467.6,310.9M467.6,310.9L473.8,307.6M468.0,313.4L471.1,311.7M470.1,359.8L473.6,343.2M473.6,343.2L480.5,342.2M473.1,345.6L476.6,345.1M470.1,375.8L468.4,358.9M468.4,358.9L474.7,355.9M470.1,391.9L467.0,375.1M467.0,375.1L473.1,371.6M467.5,377.6L470.5,375.8M470.1,407.9L471.1,390.9M471.1,390.9L477.8,388.9M470.1,423.9L468.3,407.0M468.3,407.0L471.4,405.5M494.7,71.4L491.5,88.0M491.5,88.0L484.5,89.1M494.7,103.4L487.6,118.9M487.6,118.9L480.6,118.3M488.7,116.6L485.2,116.3M494.7,135.4L487.1,150.7M487.1,150.7L483.6,150.3M494.7,167.5L478.5,172.7M478.5,172.7L474.2,167.2M480.9,171.9L478.8,169.2M494.7,199.6L477.9,197.1M477.9,197.1L476.4,190.3M480.3,197.5L479.6,194.1M494.7,231.6L479.4,224.3M479.4,224.3L479.7,220.8M494.7,263.6L481.1,253.4M481.1,253.4L483.2,246.7M494.7,295.7L497.7,279.0M497.7,279.0L501.1,278.4M494.7,327.8L491.2,311.1M491.2,311.1L497.1,307.4M494.7,359.8L488.9,343.8M488.9,343.8L494.3,339.3M494.7,375.8L489.2,359.7M489.2,359.7L494.7,355.3M490.0,362.1L492.7,359.9M494.7,391.9L495.1,374.9M495.1,374.9L498.5,373.7M494.7,407.9L495.8,390.9M494.7,423.9L493.8,406.9M493.8,406.9L497.0,405.6M519.3,71.4L514.3,87.6M514.3,87.6L507.3,88.0M519.3,103.4L513.6,119.4M513.6,119.4L506.6,119.5M514.5,117.1L511.0,117.1M519.3,135.4L511.3,150.5M511.3,150.5L504.4,149.5M519.3,167.5L502.3,168.7M502.3,168.7L499.4,162.3M504.8,168.5L503.4,165.3M519.3,199.6L504.2,191.7M504.2,191.7L505.1,184.7M506.4,192.8L506.9,189.4M519.3,231.6L504.4,223.3M504.4,223.3L505.6,216.4M506.6,224.5L507.2,221.0M519.3,263.6L502.5,260.5M519.3,295.7L521.8,278.9M521.8,278.9L525.2,278.2M519.3,327.8L522.0,311.0M522.0,311.0L525.4,310.3M519.3,359.8L516.4,343.0M516.4,343.0L522.5,339.6M516.8,345.5L519.9,343.8M519.3,375.8L522.6,359.2M522.6,359.2L529.5,358.1M522.1,361.6L525.6,361.1M519.3,391.9L513.7,375.8M513.7,375.8L519.2,371.4M519.3,407.9L515.1,391.4M515.1,391.4L520.8,387.5M515.7,393.8L518.6,391.9M519.3,423.9L519.3,406.9M519.3,406.9L525.9,404.5M519.3,409.4L522.6,408.2M543.8,71.4L540.8,88.1M540.8,88.1L537.3,88.7M543.8,103.4L537.4,119.1M537.4,119.1L530.4,118.9M543.8,135.4L537.0,151.0M537.0,151.0L533.5,150.8M543.8,167.5L527.1,170.8M527.1,170.8L523.5,164.8M529.6,170.3L527.8,167.3M543.8,199.6L529.4,190.6M529.4,190.6L530.8,183.8M531.5,191.9L532.2,188.5M543.8,231.6L530.2,221.4M530.2,221.4L532.2,214.7M543.8,263.6L526.9,262.1M526.9,262.1L525.1,255.4M529.4,262.4L528.5,259.0M543.8,295.7L545.9,278.8M545.9,278.8L552.7,277.2M543.8,327.8L545.1,310.8M545.1,310.8L548.5,309.9M543.8,359.8L543.4,342.8M543.4,342.8L550.0,340.3M543.5,345.3L546.8,344.0M543.8,375.8L545.9,359.0M545.9,359.0L552.7,357.4M543.8,391.9L539.3,375.5M539.3,375.5L544.9,371.4M539.9,377.9L542.8,375.8M543.8,407.9L544.8,390.9M544.8,390.9L551.5,388.9M544.6,393.4L548.0,392.4M543.8,423.9L542.2,407.0M542.2,407.0L548.5,404.0M542.4,409.5L545.6,408.0M568.4,71.4L567.9,54.4M567.9,54.4L574.4,51.8M568.4,103.4L566.5,86.5M566.5,86.5L572.8,83.4M566.8,89.0L570.0,87.4M568.4,135.4L570.7,118.6M570.7,118.6L577.5,117.1M570.4,121.1L573.8,120.3M568.4,167.5L561.2,152.1M561.2,152.1L566.2,147.1M562.3,154.4L564.7,151.9M568.4,199.6L567.1,182.6M568.4,231.6L567.6,214.6M567.6,214.6L574.1,211.9M568.4,263.6L562.9,247.5M562.9,247.5L568.4,243.2M568.4,295.7L571.2,278.9M571.2,278.9L574.6,278.3M568.4,327.8L569.8,310.8M569.8,310.8L576.6,309.0M568.4,359.8L571.4,343.1M571.4,343.1L578.3,341.9M568.4,375.8L563.6,359.5M563.6,359.5L569.2,355.4M568.4,391.9L564.7,375.2M564.7,375.2L570.6,371.5M568.4,407.9L562.1,392.1M562.1,392.1L564.8,389.7M568.4,423.9L566.2,407.0M566.2,407.0L572.4,403.8M592.9,71.4L592.6,54.4M592.6,54.4L599.1,51.8M592.7,56.9L595.9,55.6M592.9,103.4L587.9,87.2M587.9,87.2L593.5,82.9M588.6,89.6L591.4,87.4M592.9,135.4L586.4,119.7M592.9,167.5L595.1,150.6M592.9,199.6L585.9,184.1M585.9,184.1L590.9,179.2M586.9,186.4L589.4,183.9M592.9,231.6L586.8,215.8M586.8,215.8L592.0,211.1M587.7,218.1L590.3,215.8M592.9,263.6L585.7,248.2M585.7,248.2L588.2,245.8M592.9,295.7L591.1,278.8M592.9,327.8L589.3,311.1M589.3,311.1L595.2,307.4M592.9,359.8L586.4,344.1M586.4,344.1L591.5,339.4M587.4,346.4L589.9,344.0M592.9,375.8L591.8,358.9M591.8,358.9L598.2,356.0M592.0,361.4L595.2,359.9M592.9,391.9L588.4,375.5M588.4,375.5L591.2,373.4M592.9,407.9L596.5,391.3M592.9,423.9L586.6,408.1M586.6,408.1L591.9,403.4M587.6,410.4L590.2,408.1M617.5,71.4L613.8,54.7M613.8,54.7L619.7,51.0M614.4,57.2L617.3,55.3M617.5,103.4L615.0,86.6M615.0,86.6L621.2,83.3M615.4,89.1L618.5,87.4M617.5,135.4L611.9,119.4M611.9,119.4L614.7,117.2M617.5,167.5L612.1,151.4M612.1,151.4L617.5,147.0M612.9,153.8L615.6,151.6M617.5,199.6L613.0,183.2M613.0,183.2L618.7,179.1M617.5,231.6L614.9,214.8M614.9,214.8L621.0,211.4M615.3,217.3L618.3,215.6M617.5,263.6L614.3,246.9M614.3,246.9L617.4,245.2M617.5,295.7L619.5,278.8M619.5,278.8L626.4,277.2M619.2,281.3L622.7,280.5M617.5,327.8L612.6,311.5M612.6,311.5L618.1,307.3M617.5,359.8L620.2,343.0M620.2,343.0L623.7,342.4M617.5,375.8L617.8,358.8M617.5,391.9L617.1,374.9M617.1,374.9L623.6,372.3M617.2,377.4L620.4,376.1M617.5,407.9L612.6,391.6M612.6,391.6L618.2,387.4M617.5,423.9L621.2,407.3M621.2,407.3L628.2,406.4M620.7,409.8L624.2,409.3M642.1,71.4L637.6,55.0M637.6,55.0L643.3,50.9M642.1,103.4L638.6,86.8M638.6,86.8L641.6,84.9M642.1,135.4L637.2,119.2M637.2,119.2L642.8,115.0M637.9,121.6L640.7,119.5M642.1,167.5L642.8,150.5M642.1,199.6L637.4,183.2M637.4,183.2L643.1,179.1M638.1,185.6L640.9,183.6M642.1,231.6L636.7,215.5M636.7,215.5L642.2,211.1M637.5,217.8L640.3,215.7M642.1,263.6L638.4,247.1M638.4,247.1L641.3,245.2M642.1,295.7L642.4,278.7M642.4,278.7L649.0,276.4M642.3,281.2L645.6,280.1M642.1,327.8L644.8,311.0M642.1,359.8L637.4,343.5M637.4,343.5L640.2,341.4M642.1,375.8L639.3,359.0M639.3,359.0L642.4,357.3M642.1,391.9L638.2,375.3M642.1,407.9L638.6,391.2M638.6,391.2L644.6,387.6M639.2,393.7L642.1,391.8M642.1,423.9L636.7,407.8M636.7,407.8L642.2,403.4M666.6,71.4L659.4,56.0M659.4,56.0L664.3,51.0M660.5,58.2L662.9,55.7M666.6,103.4L659.4,88.0M659.4,88.0L664.3,83.0M666.6,135.4L667.3,118.5M667.3,118.5L673.9,116.3M666.6,167.5L658.7,152.5M658.7,152.5L663.4,147.3M666.6,199.6L656.7,185.7M656.7,185.7L660.7,179.9M658.2,187.7L660.2,184.9M666.6,231.6L658.5,216.6M658.5,216.6L663.2,211.4M659.7,218.8L662.1,216.2M666.6,263.6L658.2,248.9M658.2,248.9L660.5,246.2M666.6,295.7L669.5,278.9M669.5,278.9L676.3,277.7M666.6,327.8L667.0,310.8M667.0,310.8L673.6,308.5M666.9,313.3L670.3,312.1M666.6,359.8L660.5,343.9M660.5,343.9L663.2,341.6M666.6,375.8L661.9,359.5M666.6,391.9L660.5,376.0M660.5,376.0L663.1,373.7M666.6,407.9L663.9,391.1M663.9,391.1L670.0,387.7M664.3,393.6L667.3,391.9M666.6,423.9L670.3,407.3M670.3,407.3L677.3,406.4M669.8,409.7L673.2,409.3M691.2,71.4L684.6,55.7M684.6,55.7L689.7,50.9M685.6,58.0L688.1,55.6M691.2,103.4L692.6,86.5M692.6,86.5L699.4,84.6M692.4,89.0L695.8,88.0M691.2,135.4L692.9,118.5M691.2,167.5L685.6,151.4M685.6,151.4L691.0,147.0M691.2,199.6L685.2,183.6M685.2,183.6L687.9,181.4M691.2,231.6L680.9,218.1M680.9,218.1L684.7,212.2M691.2,263.6L688.3,246.9M688.3,246.9L694.3,243.4M688.7,249.4L691.7,247.6M691.2,295.7L690.1,278.7M690.1,278.7L696.5,275.9M690.3,281.2L693.5,279.8M691.2,327.8L693.2,310.9M693.2,310.9L700.1,309.3M692.9,313.4L696.4,312.6M691.2,359.8L694.3,343.1M694.3,343.1L697.8,342.5M691.2,375.8L694.6,359.2M694.6,359.2L698.1,358.7M691.2,391.9L687.2,375.3M687.2,375.3L693.1,371.5M687.8,377.7L690.7,375.8M691.2,407.9L694.8,391.3M694.8,391.3L701.7,390.3M691.2,423.9L685.7,407.8M685.7,407.8L691.1,403.4M715.7,71.4L710.1,55.3M715.7,103.4L707.5,88.5M707.5,88.5L709.8,85.9M715.7,135.4L707.6,120.5M707.6,120.5L712.3,115.3M708.8,122.7L711.1,120.1M715.7,167.5L708.2,152.3M708.2,152.3L713.0,147.2M709.3,154.5L711.7,152.0M715.7,199.6L708.7,184.1M708.7,184.1L713.7,179.2M709.7,186.4L712.2,183.9M715.7,231.6L711.0,215.3M715.7,263.6L713.7,246.8M713.7,246.8L716.8,245.2M715.7,295.7L719.3,279.1M719.3,279.1L726.3,278.1M718.8,281.5L722.3,281.0M715.7,327.8L714.3,310.8M714.3,310.8L717.4,309.3M715.7,359.8L715.8,342.8M715.8,342.8L722.4,340.4M715.7,375.8L713.8,358.9M713.8,358.9L720.0,355.8M714.0,361.4L717.2,359.9M715.7,391.9L718.3,375.0M718.3,375.0L721.7,374.3M715.7,407.9L713.6,391.0M713.6,391.0L719.9,387.8M713.9,393.5L717.1,391.9M715.7,423.9L713.5,407.1M740.3,71.4L728.1,59.5M728.1,59.5L729.5,56.3M740.3,103.4L736.6,86.8M736.6,86.8L742.5,83.0M737.1,89.3L740.1,87.4M740.3,135.4L732.3,120.5M732.3,120.5L734.6,117.9M740.3,167.5L735.4,151.2M735.4,151.2L738.2,149.1M740.3,199.6L732.5,184.4M732.5,184.4L737.3,179.3M733.7,186.7L736.1,184.1M740.3,231.6L733.2,216.1M733.2,216.1L738.2,211.2M740.3,263.6L735.3,247.4M735.3,247.4L740.9,243.2M736.1,249.8L738.9,247.7M740.3,295.7L737.5,278.9M737.5,278.9L743.5,275.5M737.9,281.4L740.9,279.7M740.3,327.8L734.5,311.8M734.5,311.8L739.8,307.3M735.3,314.1L738.0,311.9M740.3,359.8L733.9,344.0M733.9,344.0L739.2,339.4M740.3,375.8L739.2,358.9M740.3,391.9L742.4,375.0M742.4,375.0L745.8,374.2M740.3,407.9L740.8,390.9M740.8,390.9L747.4,388.7M740.3,423.9L737.5,407.1M737.5,407.1L743.6,403.7M764.9,71.4L749.2,77.9M749.2,77.9L744.4,72.8M764.9,103.4L748.2,106.8M748.2,106.8L744.5,100.8M750.6,106.3L748.8,103.3M764.9,135.4L748.9,141.4M748.9,141.4L744.4,136.0M764.9,167.5L749.6,175.1M749.6,175.1L744.6,170.2M751.9,173.9L749.3,171.5M764.9,199.6L747.9,200.9M747.9,200.9L745.0,194.5M764.9,231.6L747.9,231.4M747.9,231.4L745.6,224.8M750.4,231.4L749.2,228.1M764.9,263.6L748.2,260.0M748.2,260.0L747.3,253.1M750.7,260.6L750.2,257.1M764.9,295.7L762.8,278.8M764.9,327.8L758.9,311.8M758.9,311.8L764.2,307.3M759.8,314.2L762.4,311.9M764.9,359.8L762.6,343.0M764.9,375.8L761.6,359.1M761.6,359.1L767.6,355.5M762.1,361.6L765.1,359.8M764.9,391.9L767.5,375.1M767.5,375.1L774.3,373.7M767.1,377.5L770.5,376.8M764.9,407.9L759.1,391.9M759.1,391.9L764.5,387.4M759.9,394.2L762.6,392.0M764.9,423.9L768.0,407.2M768.0,407.2L774.9,406.1M767.5,409.7L771.0,409.1M789.4,71.4L774.7,79.8M774.7,79.8L769.3,75.3M776.9,78.6L774.2,76.3M789.4,103.4L772.4,104.0M772.4,104.0L769.8,97.5M774.9,103.9L773.6,100.7M789.4,135.4L772.4,134.8M772.4,134.8L770.3,128.1M774.9,134.9L773.9,131.5M789.4,167.5L774.1,174.9M774.1,174.9L769.1,170.0M789.4,199.6L773.3,204.9M773.3,204.9L768.9,199.4M789.4,231.6L772.7,234.6M789.4,263.6L772.6,261.3M772.6,261.3L771.8,257.9M789.4,295.7L783.4,279.8M783.4,279.8L788.7,275.2M784.3,282.1L786.9,279.9M789.4,327.8L784.7,311.4M784.7,311.4L787.6,309.4M789.4,359.8L791.4,342.9M791.4,342.9L794.8,342.1M789.4,375.8L792.3,359.1M792.3,359.1L799.2,357.8M791.9,361.5L795.4,360.9M789.4,391.9L784.7,375.5M784.7,375.5L790.3,371.4M785.4,377.9L788.2,375.9M789.4,407.9L786.7,391.1M789.4,423.9L783.3,408.0M783.3,408.0L788.6,403.4M784.2,410.4L786.9,408.1M814.0,71.4L798.8,79.0M798.8,79.0L793.7,74.2M801.0,77.8L798.5,75.4M814.0,103.4L797.1,105.8M797.1,105.8L793.9,99.6M799.6,105.4L798.0,102.3M814.0,135.4L798.6,142.7M798.6,142.7L793.6,137.7M800.8,141.6L798.4,139.1M814.0,167.5L798.5,174.5M798.5,174.5L793.6,169.4M800.8,173.4L798.3,170.9M814.0,199.6L797.0,199.2M797.0,199.2L794.7,192.6M799.5,199.3L798.4,195.9M814.0,231.6L797.0,230.4M797.0,230.4L795.1,223.7M799.5,230.6L798.6,227.2M814.0,263.6L797.0,264.1M797.0,264.1L794.4,257.6M799.5,264.0L798.2,260.8M814.0,295.7L807.9,279.8M814.0,327.8L812.4,310.8M812.4,310.8L818.7,307.8M812.6,313.3L815.8,311.8M814.0,359.8L816.7,343.0M816.7,343.0L823.6,341.7M816.3,345.5L819.8,344.8M814.0,375.8L815.9,358.9M815.9,358.9L819.3,358.1M814.0,391.9L817.8,375.3M817.8,375.3L824.7,374.4M817.2,377.7L820.7,377.3M814.0,407.9L814.8,390.9M814.8,390.9L821.5,388.8M814.0,423.9L813.4,406.9M813.4,406.9L819.9,404.3M813.5,409.4L816.7,408.1M838.5,71.4L821.6,72.1M821.6,72.1L818.9,65.6M824.1,71.9L822.7,68.7M838.5,103.4L821.5,104.0M821.5,104.0L818.9,97.5M824.0,103.9L822.7,100.6M838.5,135.4L821.9,139.0M821.9,139.0L820.1,136.0M838.5,167.5L823.8,175.9M823.8,175.9L821.1,173.6M838.5,199.6L821.9,203.1M838.5,231.6L821.6,232.6M838.5,263.6L821.6,262.5M821.6,262.5L819.6,255.8M824.1,262.7L823.1,259.3M838.5,295.7L839.0,278.7M839.0,278.7L842.3,277.6M838.5,327.8L836.8,310.8M836.8,310.8L843.1,307.8M837.1,313.3L840.2,311.8M838.5,359.8L839.2,342.8M839.2,342.8L845.8,340.7M839.1,345.3L842.4,344.2M838.5,375.8L833.0,359.8M833.0,359.8L838.4,355.3M833.8,362.1L836.5,359.9M838.5,391.9L839.5,374.9M839.5,374.9L846.2,372.8M839.3,377.4L842.7,376.4M838.5,407.9L833.9,391.5M833.9,391.5L839.5,387.4M834.6,393.9L837.4,391.9M838.5,423.9L833.0,407.8M833.0,407.8L838.4,403.4M833.8,410.2L836.5,408.0M863.1,71.4L847.8,78.7M847.8,78.7L842.8,73.8M850.0,77.6L847.5,75.2M863.1,103.4L848.3,111.7M848.3,111.7L843.0,107.2M863.1,135.4L846.1,136.0M846.1,136.0L843.5,129.5M848.6,135.9L847.3,132.6M863.1,167.5L848.5,176.2M848.5,176.2L843.1,171.7M850.6,174.9L847.9,172.7M863.1,199.6L846.4,196.3M846.4,196.3L845.3,189.4M863.1,231.6L846.2,233.3M846.2,233.3L843.1,227.0M848.7,233.1L847.1,229.9M863.1,263.6L846.5,260.2M846.5,260.2L845.4,253.3M848.9,260.7L848.4,257.3M863.1,295.7L861.7,278.8M861.7,278.8L868.1,275.8M861.9,281.2L865.1,279.8M863.1,327.8L866.8,311.2M863.1,359.8L865.9,343.0M865.9,343.0L872.8,341.8M863.1,375.8L864.3,358.9M864.3,358.9L871.0,356.9M864.1,361.4L867.5,360.4M863.1,391.9L866.7,375.2M866.7,375.2L873.6,374.3M863.1,407.9L858.1,391.6M858.1,391.6L863.7,387.4M858.8,394.0L861.6,391.9M863.1,423.9L861.7,407.0M861.7,407.0L868.1,404.0M887.7,71.4L872.4,78.9M872.4,78.9L867.4,74.0M887.7,103.4L874.2,113.8M874.2,113.8L871.2,111.9M887.7,135.4L873.5,144.8M873.5,144.8L867.8,140.6M875.6,143.4L872.7,141.3M887.7,167.5L877.0,180.8M877.0,180.8L870.4,178.5M887.7,199.6L872.2,192.5M872.2,192.5L872.5,189.0M887.7,231.6L877.0,218.3M887.7,263.6L873.0,255.0M873.0,255.0L874.3,248.2M875.2,256.3L875.8,252.9M887.7,295.7L888.8,278.7M888.8,278.7L892.2,277.8M887.7,327.8L882.6,311.5M887.7,359.8L886.0,342.9M886.0,342.9L889.2,341.4M887.7,375.8L886.6,358.9M886.6,358.9L893.1,356.1M887.7,391.9L882.6,375.6M882.6,375.6L888.2,371.4M887.7,407.9L890.3,391.1M890.3,391.1L897.1,389.7M889.9,393.5L893.3,392.9M887.7,423.9L881.8,407.9M881.8,407.9L884.5,405.7M912.2,71.4L898.6,81.5M912.2,103.4L899.9,115.1M899.9,115.1L896.8,113.5M912.2,135.4L899.8,147.0M899.8,147.0L893.5,143.8M901.6,145.3L898.5,143.7M912.2,167.5L901.7,180.9M901.7,180.9L895.1,178.7M903.3,178.9L899.9,177.8M912.2,199.6L901.7,186.2M901.7,186.2L905.5,180.2M912.2,231.6L897.6,222.8M897.6,222.8L898.3,219.4M912.2,263.6L899.4,252.5M899.4,252.5L901.9,246.0M901.3,254.1L902.5,250.9M912.2,295.7L910.2,278.8M910.2,278.8L913.4,277.2M912.2,327.8L907.9,311.3M907.9,311.3L913.7,307.3M908.5,313.7L911.4,311.7M912.2,359.8L908.8,343.1M908.8,343.1L914.8,339.5M909.3,345.6L912.3,343.8M912.2,375.8L911.8,358.8M911.8,358.8L918.3,356.3M911.8,361.3L915.1,360.0M912.2,391.9L905.8,376.1M905.8,376.1L911.0,371.4M906.8,378.4L909.4,376.1M912.2,407.9L911.5,390.9M911.5,390.9L917.9,388.2M912.2,423.9L911.8,406.9M911.8,406.9L918.3,404.4M936.8,71.4L922.7,80.9M922.7,80.9L917.0,76.8M924.8,79.5L922.0,77.5M936.8,103.4L926.0,116.6M926.0,116.6L922.7,115.4M936.8,135.4L925.7,148.4M925.7,148.4L922.4,147.1M936.8,167.5L922.1,176.1M922.1,176.1L916.7,171.7M924.3,174.9L921.6,172.6M936.8,199.6L926.5,186.0M926.5,186.0L930.4,180.1M928.1,188.0L930.0,185.0M936.8,231.6L926.5,218.0M926.5,218.0L930.4,212.2M928.0,220.0L930.0,217.1M936.8,263.6L922.7,254.1M922.7,254.1L924.5,247.3M936.8,295.7L934.4,278.9M934.4,278.9L940.6,275.6M934.7,281.3L937.8,279.7M936.8,327.8L930.2,312.1M936.8,359.8L939.6,343.0M939.6,343.0L946.5,341.8M936.8,375.8L933.2,359.2M933.2,359.2L939.2,355.5M933.8,361.6L936.7,359.8M936.8,391.9L933.2,375.2M933.2,375.2L939.2,371.5M936.8,407.9L931.0,391.9M931.0,391.9L933.7,389.6M936.8,423.9L940.2,407.3M940.2,407.3L947.2,406.2M939.7,409.7L943.2,409.2M961.3,71.4L946.1,78.9M946.1,78.9L941.0,74.0M961.3,103.4L947.4,113.1M947.4,113.1L941.7,109.0M949.4,111.7L946.6,109.6M961.3,135.4L946.4,143.6M946.4,143.6L941.2,139.0M961.3,167.5L951.1,181.0M951.1,181.0L944.4,179.0M961.3,199.6L950.5,186.5M950.5,186.5L954.0,180.4M961.3,231.6L947.8,221.3M947.8,221.3L949.9,214.6M949.8,222.8L950.8,219.5M961.3,263.6L948.1,253.0M948.1,253.0L950.3,246.4M950.0,254.6L951.1,251.3M961.3,295.7L962.4,278.7M962.4,278.7L969.1,276.8M962.2,281.2L965.6,280.2M961.3,327.8L957.3,311.2M957.3,311.2L963.1,307.3M961.3,359.8L962.5,342.8M962.5,342.8L965.8,341.9M961.3,375.8L956.7,359.5M956.7,359.5L962.4,355.4M957.4,361.9L960.3,359.8M961.3,391.9L957.1,375.4M957.1,375.4L962.9,371.4M961.3,407.9L957.1,391.4M957.1,391.4L962.9,387.5M957.8,393.8L960.6,391.9M961.3,423.9L956.5,407.6M956.5,407.6L962.1,403.4M957.2,410.0L960.0,407.9M985.9,71.4L970.0,77.5M970.0,77.5L965.4,72.2M972.4,76.6L970.1,74.0M985.9,103.4L972.4,113.7M972.4,113.7L966.5,110.0M985.9,135.4L970.6,142.9M970.6,142.9L965.6,138.0M985.9,167.5L973.5,179.1M973.5,179.1L967.3,176.0M975.3,177.4L972.2,175.8M985.9,199.6L970.4,192.6M970.4,192.6L970.9,185.6M985.9,231.6L973.5,220.0M973.5,220.0L976.3,213.5M985.9,263.6L971.8,254.1M971.8,254.1L973.6,247.3M973.9,255.5L974.8,252.1M985.9,295.7L983.7,278.8M983.7,278.8L989.9,275.6M984.0,281.3L987.1,279.7M985.9,327.8L986.0,310.8M985.9,359.8L981.2,343.5M985.9,375.8L986.7,358.8M986.7,358.8L990.0,357.8M985.9,391.9L987.4,374.9M987.4,374.9L990.7,374.0M985.9,407.9L985.4,390.9M985.4,390.9L988.7,389.6M985.9,423.9L988.2,407.1M988.2,407.1L991.6,406.3M1010.5,71.4L999.0,83.9M999.0,83.9L992.6,81.3M1010.5,103.4L997.0,113.8M997.0,113.8L991.1,110.1M999.0,112.3L996.0,110.4M1010.5,135.4L994.4,141.1M994.4,141.1L990.0,135.8M996.8,140.3L994.6,137.6M1010.5,167.5L994.4,173.0M994.4,173.0L990.0,167.5M996.7,172.2L994.5,169.5M1010.5,199.6L1000.0,186.1M1000.0,186.1L1003.7,180.2M1001.6,188.1L1003.4,185.1M1010.5,231.6L999.3,218.8M999.3,218.8L1002.7,212.7M1000.9,220.7L1002.6,217.6M1010.5,263.6L999.7,250.5M999.7,250.5L1003.3,244.5M1010.5,295.7L1007.2,279.0M1007.2,279.0L1013.2,275.4M1007.7,281.5L1010.7,279.7M1010.5,327.8L1009.4,310.8M1009.4,310.8L1015.8,308.0M1009.6,313.3L1012.8,311.9M1010.5,359.8L1009.1,342.9M1009.1,342.9L1015.4,339.9M1010.5,375.8L1013.6,359.1M1010.5,391.9L1004.5,375.9M1004.5,375.9L1009.8,371.4M1005.4,378.3L1008.1,376.0M1010.5,407.9L1005.4,391.7M1010.5,423.9L1013.4,407.2M1013.4,407.2L1020.3,405.9M1013.0,409.6L1016.4,409.0M1035.0,71.4L1021.6,81.7M1021.6,81.7L1015.6,78.0M1035.0,103.4L1022.7,115.1M1022.7,115.1L1016.4,112.0M1035.0,135.4L1023.2,147.6M1023.2,147.6L1020.0,146.2M1035.0,167.5L1020.2,175.8M1020.2,175.8L1014.9,171.2M1035.0,199.6L1020.5,190.7M1020.5,190.7L1021.9,183.8M1035.0,231.6L1021.7,221.0M1021.7,221.0L1023.9,214.4M1023.7,222.6L1024.8,219.3M1035.0,263.6L1021.6,253.3M1021.6,253.3L1023.7,246.6M1035.0,295.7L1031.9,279.0M1031.9,279.0L1037.9,275.4M1032.3,281.4L1035.4,279.7M1035.0,327.8L1029.5,311.7M1029.5,311.7L1035.0,307.3M1030.3,314.0L1033.0,311.8M1035.0,359.8L1032.6,343.0M1032.6,343.0L1038.7,339.7M1032.9,345.5L1036.0,343.8M1035.0,375.8L1033.4,358.9M1033.4,358.9L1036.6,357.4M1035.0,391.9L1036.4,374.9M1036.4,374.9L1043.1,373.1M1036.2,377.4L1039.6,376.5M1035.0,407.9L1030.1,391.6M1030.1,391.6L1032.9,389.5M1035.0,423.9L1032.3,407.1M1032.3,407.1L1038.4,403.7M1059.6,71.4L1046.5,82.2M1046.5,82.2L1040.4,78.6M1048.4,80.6L1045.4,78.8M1059.6,103.4L1049.3,116.9M1049.3,116.9L1042.6,114.8M1050.8,114.9L1047.4,113.9M1059.6,135.4L1045.7,145.2M1045.7,145.2L1039.9,141.2M1047.7,143.8L1044.9,141.8M1059.6,167.5L1044.5,175.3M1044.5,175.3L1039.3,170.5M1059.6,199.6L1043.7,193.4M1043.7,193.4L1043.8,189.9M1059.6,231.6L1047.7,219.4M1047.7,219.4L1050.7,213.1M1049.4,221.2L1051.0,218.1M1059.6,263.6L1045.9,253.5M1059.6,295.7L1062.1,278.9M1062.1,278.9L1065.5,278.2M1059.6,327.8L1056.8,311.0M1056.8,311.0L1062.9,307.5M1059.6,359.8L1057.6,342.9M1059.6,375.8L1063.4,359.3M1063.4,359.3L1070.3,358.4M1059.6,391.9L1058.6,374.9M1058.6,374.9L1065.0,372.1M1059.6,407.9L1053.8,391.9M1053.8,391.9L1059.2,387.4M1059.6,423.9L1055.8,407.3M1055.8,407.3L1061.7,403.5M1056.3,409.8L1059.3,407.9M1084.1,71.4L1072.2,83.5M1072.2,83.5L1069.0,82.0M1084.1,103.4L1070.1,113.1M1070.1,113.1L1067.3,111.0M1084.1,135.4L1069.1,143.3M1084.1,167.5L1068.8,174.8M1068.8,174.8L1063.8,169.9M1071.0,173.7L1068.6,171.3M1084.1,199.6L1068.6,192.7M1068.6,192.7L1069.1,185.7M1084.1,231.6L1068.7,224.5M1068.7,224.5L1069.3,217.5M1071.0,225.5L1071.3,222.0M1084.1,263.6L1072.7,251.1M1072.7,251.1L1075.9,244.9M1074.3,253.0L1076.0,249.9M1084.1,295.7L1084.5,278.7M1084.5,278.7L1091.1,276.4M1084.1,327.8L1085.9,310.8M1085.9,310.8L1089.2,310.0M1084.1,359.8L1079.9,343.3M1079.9,343.3L1085.6,339.4M1084.1,375.8L1082.0,359.0M1082.0,359.0L1088.2,355.8M1082.3,361.4L1085.4,359.8M1084.1,391.9L1084.8,374.9M1084.8,374.9L1091.4,372.7M1084.7,377.4L1088.0,376.3M1084.1,407.9L1085.5,390.9M1085.5,390.9L1088.9,390.0M1084.1,423.9L1078.2,408.0" stroke="#222" stroke-width="1" fill="none" clip-path="url(#cb1)"/>
<text class="t" x="323.5" y="105" font-size="17" fill="#7800dc" text-anchor="middle">−5</text>
<text class="t" x="790" y="101.7" font-size="17" fill="#7800dc" text-anchor="middle">−5</text>
<text class="t" x="237.3" y="187" font-size="17" fill="#0020ff" text-anchor="middle">5</text>
<text class="t" x="641.3" y="160.8" font-size="17" fill="#0020ff" text-anchor="middle">5</text>
<text class="t" x="237.5" y="246" font-size="17" fill="#008cff" text-anchor="middle">10</text>
<text class="t" x="814.8" y="229" font-size="17" fill="#008cff" text-anchor="middle">10</text>
<text class="t" x="433.5" y="262" font-size="17" fill="#00c8c8" text-anchor="middle">15</text>
<text class="t" x="815" y="302.8" font-size="17" fill="#00c8c8" text-anchor="middle">15</text>
<text class="t" x="395.8" y="302.8" font-size="17" fill="#00d282" text-anchor="middle">20</text>
<text class="t" x="801" y="351.7" font-size="17" fill="#00d282" text-anchor="middle">20</text>
<text class="t" x="507" y="359.6" font-size="17" fill="#e6a50a" text-anchor="middle">25</text>
<text class="t" x="408" y="161.5" font-size="13" fill="#a8a8a8" text-anchor="middle">50</text>
<text class="t" x="372" y="235.5" font-size="13" fill="#a8a8a8" text-anchor="middle">50</text>
<text class="t" x="482" y="195.5" font-size="13" fill="#a8a8a8" text-anchor="middle">30</text>
<text class="t" x="997" y="323.5" font-size="13" fill="#a8a8a8" text-anchor="middle">30</text>
<text class="t" x="471" y="147.5" font-size="13" fill="#a8a8a8" text-anchor="middle">10</text>
<text class="t" x="925" y="103.1" font-size="13" fill="#a8a8a8" text-anchor="middle">10</text>
<text class="t" x="285.5" y="148.4" font-size="14" fill="#000" text-anchor="middle" >FR</text>
<text class="t" x="506.5" y="140.8" font-size="14" fill="#000" text-anchor="middle" >FR</text>
<text class="t" x="924.6" y="139.5" font-size="14" fill="#000" text-anchor="middle" >FR</text>
</g>
<line x1="120.5" y1="449.2" x2="1090.5" y2="449.2" stroke="#a0a0a0" stroke-width="1" stroke-dasharray="4,2"/>
<line x1="120.5" y1="469.4" x2="1090.5" y2="469.4" stroke="#a0a0a0" stroke-width="1" stroke-dasharray="4,2"/>
<line x1="120.5" y1="489.4" x2="1090.5" y2="489.4" stroke="#a0a0a0" stroke-width="1" stroke-dasharray="4,2"/>
<line x1="120.5" y1="509.4" x2="1090.5" y2="509.4" stroke="#a0a0a0" stroke-width="1" stroke-dasharray="4,2"/>
<line x1="175.5" y1="440.5" x2="175.5" y2="525.5" stroke="#a0a0a0" stroke-width="1" stroke-dasharray="4,2"/>
<line x1="273.7" y1="440.5" x2="273.7" y2="525.5" stroke="#a0a0a0" stroke-width="1" stroke-dasharray="4,2"/>
<line x1="371.9" y1="440.5" x2="371.9" y2="525.5" stroke="#a0a0a0" stroke-width="1" stroke-dasharray="4,2"/>
<line x1="470.2" y1="440.5" x2="470.2" y2="525.5" stroke="#a0a0a0" stroke-width="1" stroke-dasharray="4,2"/>
<line x1="568.4" y1="440.5" x2="568.4" y2="525.5" stroke="#a0a0a0" stroke-width="1" stroke-dasharray="4,2"/>
<line x1="666.6" y1="440.5" x2="666.6" y2="525.5" stroke="#a0a0a0" stroke-width="1" stroke-dasharray="4,2"/>
<line x1="764.8" y1="440.5" x2="764.8" y2="525.5" stroke="#a0a0a0" stroke-width="1" stroke-dasharray="4,2"/>
<line x1="863.0" y1="440.5" x2="863.0" y2="525.5" stroke="#a0a0a0" stroke-width="1" stroke-dasharray="4,2"/>
<line x1="961.3" y1="440.5" x2="961.3" y2="525.5" stroke="#a0a0a0" stroke-width="1" stroke-dasharray="4,2"/>
<line x1="1059.5" y1="440.5" x2="1059.5" y2="525.5" stroke="#a0a0a0" stroke-width="1" stroke-dasharray="4,2"/>
<polyline points="126.3,500.4 138.6,499.1 150.9,508.1 163.1,514.1 175.4,514.6 187.7,519.0 200.0,519.5 212.3,505.9 224.5,492.8 236.8,487.6 249.1,492.3 261.4,492.3 273.7,487.6 285.9,489.0 298.2,490.4 310.5,478.1 322.8,463.6 335.1,455.5 347.3,459.0 359.6,456.8 371.9,462.8 384.2,468.3 396.5,471.8 408.7,463.6 421.0,449.6 433.3,446.5 445.6,454.1 457.9,460.9 470.1,471.8 482.4,479.5 494.7,479.2 507.0,470.5 519.3,461.7 531.5,463.6 543.8,472.6 556.1,478.6 568.4,488.7 580.7,486.8 592.9,485.5 605.2,475.9 617.5,463.6 629.8,462.3 642.1,469.1 654.3,474.5 666.6,484.9 678.9,493.1 691.2,491.7 703.5,486.3 715.7,474.0 728.0,469.9 740.3,475.9 752.6,485.5 764.9,493.6 777.1,501.3 789.4,503.7 801.7,498.3 814.0,486.8 826.3,484.9 838.5,491.7 850.8,495.0 863.1,503.2 875.4,507.3 887.7,508.1 899.9,496.6 912.2,487.7 924.5,483.3 936.8,488.6 949.1,494.1 961.3,499.7 973.6,497.0 985.9,495.0 998.2,482.3 1010.5,470.5 1022.7,464.5 1035.0,469.2 1047.3,471.4 1059.6,474.1 1071.9,473.2 1084.1,468.6 1090.5,461.4" fill="none" stroke="#00c8c8" stroke-width="1"/>
<path d="M123.3,502.9L126.3,497.4L129.3,502.9Z" fill="#fff" stroke="#00c8c8" stroke-width="1"/>
<path d="M135.6,501.6L138.6,496.1L141.6,501.6Z" fill="#fff" stroke="#00c8c8" stroke-width="1"/>
<path d="M147.9,510.6L150.9,505.1L153.9,510.6Z" fill="#fff" stroke="#00c8c8" stroke-width="1"/>
<path d="M160.1,516.6L163.1,511.1L166.1,516.6Z" fill="#fff" stroke="#00c8c8" stroke-width="1"/>
<path d="M172.4,517.1L175.4,511.6L178.4,517.1Z" fill="#fff" stroke="#00c8c8" stroke-width="1"/>
<path d="M184.7,521.5L187.7,516.0L190.7,521.5Z" fill="#fff" stroke="#00c8c8" stroke-width="1"/>
<path d="M197.0,522.0L200.0,516.5L203.0,522.0Z" fill="#fff" stroke="#00c8c8" stroke-width="1"/>
<path d="M209.3,508.4L212.3,502.9L215.3,508.4Z" fill="#fff" stroke="#00c8c8" stroke-width="1"/>
<path d="M221.5,495.3L224.5,489.8L227.5,495.3Z" fill="#fff" stroke="#00c8c8" stroke-width="1"/>
<path d="M233.8,490.1L236.8,484.6L239.8,490.1Z" fill="#fff" stroke="#00c8c8" stroke-width="1"/>
<path d="M246.1,494.8L249.1,489.3L252.1,494.8Z" fill="#fff" stroke="#00c8c8" stroke-width="1"/>
<path d="M258.4,494.8L261.4,489.3L264.4,494.8Z" fill="#fff" stroke="#00c8c8" stroke-width="1"/>
<path d="M270.7,490.1L273.7,484.6L276.7,490.1Z" fill="#fff" stroke="#00c8c8" stroke-width="1"/>
<path d="M282.9,491.5L285.9,486.0L288.9,491.5Z" fill="#fff" stroke="#00c8c8" stroke-width="1"/>
<path d="M295.2,492.9L298.2,487.4L301.2,492.9Z" fill="#fff" stroke="#00c8c8" stroke-width="1"/>
<path d="M307.5,480.6L310.5,475.1L313.5,480.6Z" fill="#fff" stroke="#00c8c8" stroke-width="1"/>
<path d="M319.8,466.1L322.8,460.6L325.8,466.1Z" fill="#fff" stroke="#00c8c8" stroke-width="1"/>
<path d="M332.1,458.0L335.1,452.5L338.1,458.0Z" fill="#fff" stroke="#00c8c8" stroke-width="1"/>
<path d="M344.3,461.5L347.3,456.0L350.3,461.5Z" fill="#fff" stroke="#00c8c8" stroke-width="1"/>
<path d="M356.6,459.3L359.6,453.8L362.6,459.3Z" fill="#fff" stroke="#00c8c8" stroke-width="1"/>
<path d="M368.9,465.3L371.9,459.8L374.9,465.3Z" fill="#fff" stroke="#00c8c8" stroke-width="1"/>
<path d="M381.2,470.8L384.2,465.3L387.2,470.8Z" fill="#fff" stroke="#00c8c8" stroke-width="1"/>
<path d="M393.5,474.3L396.5,468.8L399.5,474.3Z" fill="#fff" stroke="#00c8c8" stroke-width="1"/>
<path d="M405.7,466.1L408.7,460.6L411.7,466.1Z" fill="#fff" stroke="#00c8c8" stroke-width="1"/>
<path d="M418.0,452.1L421.0,446.6L424.0,452.1Z" fill="#fff" stroke="#00c8c8" stroke-width="1"/>
<path d="M430.3,449.0L433.3,443.5L436.3,449.0Z" fill="#fff" stroke="#00c8c8" stroke-width="1"/>
<path d="M442.6,456.6L445.6,451.1L448.6,456.6Z" fill="#fff" stroke="#00c8c8" stroke-width="1"/>
<path d="M454.9,463.4L457.9,457.9L460.9,463.4Z" fill="#fff" stroke="#00c8c8" stroke-width="1"/>
<path d="M467.1,474.3L470.1,468.8L473.1,474.3Z" fill="#fff" stroke="#00c8c8" stroke-width="1"/>
<path d="M479.4,482.0L482.4,476.5L485.4,482.0Z" fill="#fff" stroke="#00c8c8" stroke-width="1"/>
<path d="M491.7,481.7L494.7,476.2L497.7,481.7Z" fill="#fff" stroke="#00c8c8" stroke-width="1"/>
<path d="M504.0,473.0L507.0,467.5L510.0,473.0Z" fill="#fff" stroke="#00c8c8" stroke-width="1"/>
<path d="M516.3,464.2L519.3,458.7L522.3,464.2Z" fill="#fff" stroke="#00c8c8" stroke-width="1"/>
<path d="M528.5,466.1L531.5,460.6L534.5,466.1Z" fill="#fff" stroke="#00c8c8" stroke-width="1"/>
<path d="M540.8,475.1L543.8,469.6L546.8,475.1Z" fill="#fff" stroke="#00c8c8" stroke-width="1"/>
<path d="M553.1,481.1L556.1,475.6L559.1,481.1Z" fill="#fff" stroke="#00c8c8" stroke-width="1"/>
<path d="M565.4,491.2L568.4,485.7L571.4,491.2Z" fill="#fff" stroke="#00c8c8" stroke-width="1"/>
<path d="M577.7,489.3L580.7,483.8L583.7,489.3Z" fill="#fff" stroke="#00c8c8" stroke-width="1"/>
<path d="M589.9,488.0L592.9,482.5L595.9,488.0Z" fill="#fff" stroke="#00c8c8" stroke-width="1"/>
<path d="M602.2,478.4L605.2,472.9L608.2,478.4Z" fill="#fff" stroke="#00c8c8" stroke-width="1"/>
<path d="M614.5,466.1L617.5,460.6L620.5,466.1Z" fill="#fff" stroke="#00c8c8" stroke-width="1"/>
<path d="M626.8,464.8L629.8,459.3L632.8,464.8Z" fill="#fff" stroke="#00c8c8" stroke-width="1"/>
<path d="M639.1,471.6L642.1,466.1L645.1,471.6Z" fill="#fff" stroke="#00c8c8" stroke-width="1"/>
<path d="M651.3,477.0L654.3,471.5L657.3,477.0Z" fill="#fff" stroke="#00c8c8" stroke-width="1"/>
<path d="M663.6,487.4L666.6,481.9L669.6,487.4Z" fill="#fff" stroke="#00c8c8" stroke-width="1"/>
<path d="M675.9,495.6L678.9,490.1L681.9,495.6Z" fill="#fff" stroke="#00c8c8" stroke-width="1"/>
<path d="M688.2,494.2L691.2,488.7L694.2,494.2Z" fill="#fff" stroke="#00c8c8" stroke-width="1"/>
<path d="M700.5,488.8L703.5,483.3L706.5,488.8Z" fill="#fff" stroke="#00c8c8" stroke-width="1"/>
<path d="M712.7,476.5L715.7,471.0L718.7,476.5Z" fill="#fff" stroke="#00c8c8" stroke-width="1"/>
<path d="M725.0,472.4L728.0,466.9L731.0,472.4Z" fill="#fff" stroke="#00c8c8" stroke-width="1"/>
<path d="M737.3,478.4L740.3,472.9L743.3,478.4Z" fill="#fff" stroke="#00c8c8" stroke-width="1"/>
<path d="M749.6,488.0L752.6,482.5L755.6,488.0Z" fill="#fff" stroke="#00c8c8" stroke-width="1"/>
<path d="M761.9,496.1L764.9,490.6L767.9,496.1Z" fill="#fff" stroke="#00c8c8" stroke-width="1"/>
<path d="M774.1,503.8L777.1,498.3L780.1,503.8Z" fill="#fff" stroke="#00c8c8" stroke-width="1"/>
<path d="M786.4,506.2L789.4,500.7L792.4,506.2Z" fill="#fff" stroke="#00c8c8" stroke-width="1"/>
<path d="M798.7,500.8L801.7,495.3L804.7,500.8Z" fill="#fff" stroke="#00c8c8" stroke-width="1"/>
<path d="M811.0,489.3L814.0,483.8L817.0,489.3Z" fill="#fff" stroke="#00c8c8" stroke-width="1"/>
<path d="M823.3,487.4L826.3,481.9L829.3,487.4Z" fill="#fff" stroke="#00c8c8" stroke-width="1"/>
<path d="M835.5,494.2L838.5,488.7L841.5,494.2Z" fill="#fff" stroke="#00c8c8" stroke-width="1"/>
<path d="M847.8,497.5L850.8,492.0L853.8,497.5Z" fill="#fff" stroke="#00c8c8" stroke-width="1"/>
<path d="M860.1,505.7L863.1,500.2L866.1,505.7Z" fill="#fff" stroke="#00c8c8" stroke-width="1"/>
<path d="M872.4,509.8L875.4,504.3L878.4,509.8Z" fill="#fff" stroke="#00c8c8" stroke-width="1"/>
<path d="M884.7,510.6L887.7,505.1L890.7,510.6Z" fill="#fff" stroke="#00c8c8" stroke-width="1"/>
<path d="M896.9,499.1L899.9,493.6L902.9,499.1Z" fill="#fff" stroke="#00c8c8" stroke-width="1"/>
<path d="M909.2,490.2L912.2,484.7L915.2,490.2Z" fill="#fff" stroke="#00c8c8" stroke-width="1"/>
<path d="M921.5,485.8L924.5,480.3L927.5,485.8Z" fill="#fff" stroke="#00c8c8" stroke-width="1"/>
<path d="M933.8,491.1L936.8,485.6L939.8,491.1Z" fill="#fff" stroke="#00c8c8" stroke-width="1"/>
<path d="M946.1,496.6L949.1,491.1L952.1,496.6Z" fill="#fff" stroke="#00c8c8" stroke-width="1"/>
<path d="M958.3,502.2L961.3,496.7L964.3,502.2Z" fill="#fff" stroke="#00c8c8" stroke-width="1"/>
<path d="M970.6,499.5L973.6,494.0L976.6,499.5Z" fill="#fff" stroke="#00c8c8" stroke-width="1"/>
<path d="M982.9,497.5L985.9,492.0L988.9,497.5Z" fill="#fff" stroke="#00c8c8" stroke-width="1"/>
<path d="M995.2,484.8L998.2,479.3L1001.2,484.8Z" fill="#fff" stroke="#00c8c8" stroke-width="1"/>
<path d="M1007.5,473.0L1010.5,467.5L1013.5,473.0Z" fill="#fff" stroke="#00c8c8" stroke-width="1"/>
<path d="M1019.7,467.0L1022.7,461.5L1025.7,467.0Z" fill="#fff" stroke="#00c8c8" stroke-width="1"/>
<path d="M1032.0,471.7L1035.0,466.2L1038.0,471.7Z" fill="#fff" stroke="#00c8c8" stroke-width="1"/>
<path d="M1044.3,473.9L1047.3,468.4L1050.3,473.9Z" fill="#fff" stroke="#00c8c8" stroke-width="1"/>
<path d="M1056.6,476.6L1059.6,471.1L1062.6,476.6Z" fill="#fff" stroke="#00c8c8" stroke-width="1"/>
<path d="M1068.9,475.7L1071.9,470.2L1074.9,475.7Z" fill="#fff" stroke="#00c8c8" stroke-width="1"/>
<path d="M1081.1,471.1L1084.1,465.6L1087.1,471.1Z" fill="#fff" stroke="#00c8c8" stroke-width="1"/>
<polyline points="126.3,507.3 138.6,514.6 150.9,497.2 163.1,494.5 175.4,497.7 187.7,492.3 200.0,485.5 212.3,490.0 224.5,512.2 236.8,516.3 249.1,502.6 261.4,501.3 273.7,512.2 285.9,506.4 298.2,492.3 310.5,495.5 322.8,514.6 335.1,514.6 347.3,499.0 359.6,499.0 371.9,504.5 384.2,496.4 396.5,481.4 408.7,484.1 421.0,507.3 433.3,511.4 445.6,495.5 457.9,491.7 470.1,491.4 482.4,485.5 494.7,477.8 507.0,483.5 519.3,506.7 531.5,506.7 543.8,490.9 556.1,484.1 568.4,488.2 580.7,490.1 592.9,486.8 605.2,498.3 617.5,517.4 629.8,516.3 642.1,503.2 654.3,497.2 666.6,504.5 678.9,498.3 691.2,491.4 703.5,499.0 715.7,517.4 728.0,519.5 740.3,503.2 752.6,487.4 764.9,489.5 777.1,482.7 789.4,469.9 801.7,473.2 814.0,491.5 826.3,490.9 838.5,473.7 850.8,469.9 863.1,469.6 875.4,462.3 887.7,445.9 899.9,455.5 912.2,472.6 924.5,474.8 936.8,456.6 949.1,450.8 961.3,454.5 973.6,458.6 985.9,447.5 998.2,465.0 1010.5,485.9 1022.7,488.3 1035.0,468.6 1047.3,467.7 1059.6,479.5 1071.9,479.5 1084.1,473.5" fill="none" stroke="#0010ff" stroke-width="2" stroke-linejoin="round"/>
<line x1="175.5" y1="525.5" x2="175.5" y2="610.5" stroke="#a0a0a0" stroke-width="1" stroke-dasharray="4,2"/>
<line x1="273.7" y1="525.5" x2="273.7" y2="610.5" stroke="#a0a0a0" stroke-width="1" stroke-dasharray="4,2"/>
<line x1="371.9" y1="525.5" x2="371.9" y2="610.5" stroke="#a0a0a0" stroke-width="1" stroke-dasharray="4,2"/>
<line x1="470.2" y1="525.5" x2="470.2" y2="610.5" stroke="#a0a0a0" stroke-width="1" stroke-dasharray="4,2"/>
<line x1="568.4" y1="525.5" x2="568.4" y2="610.5" stroke="#a0a0a0" stroke-width="1" stroke-dasharray="4,2"/>
<line x1="666.6" y1="525.5" x2="666.6" y2="610.5" stroke="#a0a0a0" stroke-width="1" stroke-dasharray="4,2"/>
<line x1="764.8" y1="525.5" x2="764.8" y2="610.5" stroke="#a0a0a0" stroke-width="1" stroke-dasharray="4,2"/>
<line x1="863.0" y1="525.5" x2="863.0" y2="610.5" stroke="#a0a0a0" stroke-width="1" stroke-dasharray="4,2"/>
<line x1="961.3" y1="525.5" x2="961.3" y2="610.5" stroke="#a0a0a0" stroke-width="1" stroke-dasharray="4,2"/>
<line x1="1059.5" y1="525.5" x2="1059.5" y2="610.5" stroke="#a0a0a0" stroke-width="1" stroke-dasharray="4,2"/>
<line x1="120.5" y1="547.3" x2="1090.5" y2="547.3" stroke="#a0a0a0" stroke-width="1" stroke-dasharray="4,2"/>
<line x1="120.5" y1="589.0" x2="1090.5" y2="589.0" stroke="#a0a0a0" stroke-width="1" stroke-dasharray="4,2"/>
<line x1="120.5" y1="568.3" x2="1090.5" y2="568.3" stroke="#ff2828" stroke-width="1" stroke-dasharray="4,2"/>
<rect x="466" y="531" width="7.6" height="79.4" fill="#c878ff"/>
<clipPath id="c3"><rect x="121" y="526" width="969" height="84"/></clipPath>
<g clip-path="url(#c3)">
<polyline points="126.3,586.0 138.6,593.0 150.9,595.0 163.1,593.6 175.4,603.2 187.7,609.4 200.0,599.0 212.3,586.8 224.5,597.7 236.8,601.3 249.1,640.0 261.4,640.0 273.7,640.0 285.9,640.0 298.2,640.0 310.5,611.0 322.8,599.6 335.1,598.5 347.3,611.0 359.6,609.4 371.9,640.0 384.2,640.0 396.5,609.4 408.7,601.0 421.0,592.3 433.3,600.0 445.6,601.8 457.9,608.6 470.1,574.5 482.4,582.2 494.7,586.0 507.0,574.0 519.3,574.0 531.5,590.4 543.8,640.0 556.1,640.0 568.4,595.0 580.7,596.4 592.9,594.2 605.2,601.0 617.5,608.6 629.8,640.0 642.1,640.0 654.3,640.0 666.6,606.7 678.9,640.0 691.2,609.4 703.5,640.0 715.7,640.0 728.0,601.0 740.3,604.7 752.6,603.6 764.9,598.4 777.1,603.6 789.4,601.7 801.7,605.5 814.0,596.2 826.3,596.2 838.5,607.3 850.8,640.0 863.1,640.0 875.4,640.0 887.7,640.0 899.9,603.6 912.2,601.7 924.5,603.6 936.8,640.0 949.1,640.0 961.3,640.0 973.6,640.0 985.9,640.0 998.2,640.0 1010.5,640.0 1022.7,640.0 1035.0,640.0 1047.3,640.0 1059.6,640.0 1071.9,640.0 1084.1,640.0" fill="none" stroke="#ff2828" stroke-width="1"/>
<path d="M123.8,586.0L126.3,582.5L128.8,586.0L126.3,589.5Z M123.8,586.0H128.8" fill="#fff" stroke="#ff2828" stroke-width="0.9"/>
<path d="M136.1,593.0L138.6,589.5L141.1,593.0L138.6,596.5Z M136.1,593.0H141.1" fill="#fff" stroke="#ff2828" stroke-width="0.9"/>
<path d="M148.4,595.0L150.9,591.5L153.4,595.0L150.9,598.5Z M148.4,595.0H153.4" fill="#fff" stroke="#ff2828" stroke-width="0.9"/>
<path d="M160.6,593.6L163.1,590.1L165.6,593.6L163.1,597.1Z M160.6,593.6H165.6" fill="#fff" stroke="#ff2828" stroke-width="0.9"/>
<path d="M172.9,603.2L175.4,599.7L177.9,603.2L175.4,606.7Z M172.9,603.2H177.9" fill="#fff" stroke="#ff2828" stroke-width="0.9"/>
<path d="M185.2,609.4L187.7,605.9L190.2,609.4L187.7,612.9Z M185.2,609.4H190.2" fill="#fff" stroke="#ff2828" stroke-width="0.9"/>
<path d="M197.5,599.0L200.0,595.5L202.5,599.0L200.0,602.5Z M197.5,599.0H202.5" fill="#fff" stroke="#ff2828" stroke-width="0.9"/>
<path d="M209.8,586.8L212.3,583.3L214.8,586.8L212.3,590.3Z M209.8,586.8H214.8" fill="#fff" stroke="#ff2828" stroke-width="0.9"/>
<path d="M222.0,597.7L224.5,594.2L227.0,597.7L224.5,601.2Z M222.0,597.7H227.0" fill="#fff" stroke="#ff2828" stroke-width="0.9"/>
<path d="M234.3,601.3L236.8,597.8L239.3,601.3L236.8,604.8Z M234.3,601.3H239.3" fill="#fff" stroke="#ff2828" stroke-width="0.9"/>
<path d="M308.0,611.0L310.5,607.5L313.0,611.0L310.5,614.5Z M308.0,611.0H313.0" fill="#fff" stroke="#ff2828" stroke-width="0.9"/>
<path d="M320.3,599.6L322.8,596.1L325.3,599.6L322.8,603.1Z M320.3,599.6H325.3" fill="#fff" stroke="#ff2828" stroke-width="0.9"/>
<path d="M332.6,598.5L335.1,595.0L337.6,598.5L335.1,602.0Z M332.6,598.5H337.6" fill="#fff" stroke="#ff2828" stroke-width="0.9"/>
<path d="M344.8,611.0L347.3,607.5L349.8,611.0L347.3,614.5Z M344.8,611.0H349.8" fill="#fff" stroke="#ff2828" stroke-width="0.9"/>
<path d="M357.1,609.4L359.6,605.9L362.1,609.4L359.6,612.9Z M357.1,609.4H362.1" fill="#fff" stroke="#ff2828" stroke-width="0.9"/>
<path d="M394.0,609.4L396.5,605.9L399.0,609.4L396.5,612.9Z M394.0,609.4H399.0" fill="#fff" stroke="#ff2828" stroke-width="0.9"/>
<path d="M406.2,601.0L408.7,597.5L411.2,601.0L408.7,604.5Z M406.2,601.0H411.2" fill="#fff" stroke="#ff2828" stroke-width="0.9"/>
<path d="M418.5,592.3L421.0,588.8L423.5,592.3L421.0,595.8Z M418.5,592.3H423.5" fill="#fff" stroke="#ff2828" stroke-width="0.9"/>
<path d="M430.8,600.0L433.3,596.5L435.8,600.0L433.3,603.5Z M430.8,600.0H435.8" fill="#fff" stroke="#ff2828" stroke-width="0.9"/>
<path d="M443.1,601.8L445.6,598.3L448.1,601.8L445.6,605.3Z M443.1,601.8H448.1" fill="#fff" stroke="#ff2828" stroke-width="0.9"/>
<path d="M455.4,608.6L457.9,605.1L460.4,608.6L457.9,612.1Z M455.4,608.6H460.4" fill="#fff" stroke="#ff2828" stroke-width="0.9"/>
<path d="M467.6,574.5L470.1,571.0L472.6,574.5L470.1,578.0Z M467.6,574.5H472.6" fill="#fff" stroke="#ff2828" stroke-width="0.9"/>
<path d="M479.9,582.2L482.4,578.7L484.9,582.2L482.4,585.7Z M479.9,582.2H484.9" fill="#fff" stroke="#ff2828" stroke-width="0.9"/>
<path d="M492.2,586.0L494.7,582.5L497.2,586.0L494.7,589.5Z M492.2,586.0H497.2" fill="#fff" stroke="#ff2828" stroke-width="0.9"/>
<path d="M504.5,574.0L507.0,570.5L509.5,574.0L507.0,577.5Z M504.5,574.0H509.5" fill="#fff" stroke="#ff2828" stroke-width="0.9"/>
<path d="M516.8,574.0L519.3,570.5L521.8,574.0L519.3,577.5Z M516.8,574.0H521.8" fill="#fff" stroke="#ff2828" stroke-width="0.9"/>
<path d="M529.0,590.4L531.5,586.9L534.0,590.4L531.5,593.9Z M529.0,590.4H534.0" fill="#fff" stroke="#ff2828" stroke-width="0.9"/>
<path d="M565.9,595.0L568.4,591.5L570.9,595.0L568.4,598.5Z M565.9,595.0H570.9" fill="#fff" stroke="#ff2828" stroke-width="0.9"/>
<path d="M578.2,596.4L580.7,592.9L583.2,596.4L580.7,599.9Z M578.2,596.4H583.2" fill="#fff" stroke="#ff2828" stroke-width="0.9"/>
<path d="M590.4,594.2L592.9,590.7L595.4,594.2L592.9,597.7Z M590.4,594.2H595.4" fill="#fff" stroke="#ff2828" stroke-width="0.9"/>
<path d="M602.7,601.0L605.2,597.5L607.7,601.0L605.2,604.5Z M602.7,601.0H607.7" fill="#fff" stroke="#ff2828" stroke-width="0.9"/>
<path d="M615.0,608.6L617.5,605.1L620.0,608.6L617.5,612.1Z M615.0,608.6H620.0" fill="#fff" stroke="#ff2828" stroke-width="0.9"/>
<path d="M664.1,606.7L666.6,603.2L669.1,606.7L666.6,610.2Z M664.1,606.7H669.1" fill="#fff" stroke="#ff2828" stroke-width="0.9"/>
<path d="M688.7,609.4L691.2,605.9L693.7,609.4L691.2,612.9Z M688.7,609.4H693.7" fill="#fff" stroke="#ff2828" stroke-width="0.9"/>
<path d="M725.5,601.0L728.0,597.5L730.5,601.0L728.0,604.5Z M725.5,601.0H730.5" fill="#fff" stroke="#ff2828" stroke-width="0.9"/>
<path d="M737.8,604.7L740.3,601.2L742.8,604.7L740.3,608.2Z M737.8,604.7H742.8" fill="#fff" stroke="#ff2828" stroke-width="0.9"/>
<path d="M750.1,603.6L752.6,600.1L755.1,603.6L752.6,607.1Z M750.1,603.6H755.1" fill="#fff" stroke="#ff2828" stroke-width="0.9"/>
<path d="M762.4,598.4L764.9,594.9L767.4,598.4L764.9,601.9Z M762.4,598.4H767.4" fill="#fff" stroke="#ff2828" stroke-width="0.9"/>
<path d="M774.6,603.6L777.1,600.1L779.6,603.6L777.1,607.1Z M774.6,603.6H779.6" fill="#fff" stroke="#ff2828" stroke-width="0.9"/>
<path d="M786.9,601.7L789.4,598.2L791.9,601.7L789.4,605.2Z M786.9,601.7H791.9" fill="#fff" stroke="#ff2828" stroke-width="0.9"/>
<path d="M799.2,605.5L801.7,602.0L804.2,605.5L801.7,609.0Z M799.2,605.5H804.2" fill="#fff" stroke="#ff2828" stroke-width="0.9"/>
<path d="M811.5,596.2L814.0,592.7L816.5,596.2L814.0,599.7Z M811.5,596.2H816.5" fill="#fff" stroke="#ff2828" stroke-width="0.9"/>
<path d="M823.8,596.2L826.3,592.7L828.8,596.2L826.3,599.7Z M823.8,596.2H828.8" fill="#fff" stroke="#ff2828" stroke-width="0.9"/>
<path d="M836.0,607.3L838.5,603.8L841.0,607.3L838.5,610.8Z M836.0,607.3H841.0" fill="#fff" stroke="#ff2828" stroke-width="0.9"/>
<path d="M897.4,603.6L899.9,600.1L902.4,603.6L899.9,607.1Z M897.4,603.6H902.4" fill="#fff" stroke="#ff2828" stroke-width="0.9"/>
<path d="M909.7,601.7L912.2,598.2L914.7,601.7L912.2,605.2Z M909.7,601.7H914.7" fill="#fff" stroke="#ff2828" stroke-width="0.9"/>
<path d="M922.0,603.6L924.5,600.1L927.0,603.6L924.5,607.1Z M922.0,603.6H927.0" fill="#fff" stroke="#ff2828" stroke-width="0.9"/>
</g>
<line x1="175.5" y1="610.5" x2="175.5" y2="695.5" stroke="#a0a0a0" stroke-width="1" stroke-dasharray="4,2"/>
<line x1="273.7" y1="610.5" x2="273.7" y2="695.5" stroke="#a0a0a0" stroke-width="1" stroke-dasharray="4,2"/>
<line x1="371.9" y1="610.5" x2="371.9" y2="695.5" stroke="#a0a0a0" stroke-width="1" stroke-dasharray="4,2"/>
<line x1="470.2" y1="610.5" x2="470.2" y2="695.5" stroke="#a0a0a0" stroke-width="1" stroke-dasharray="4,2"/>
<line x1="568.4" y1="610.5" x2="568.4" y2="695.5" stroke="#a0a0a0" stroke-width="1" stroke-dasharray="4,2"/>
<line x1="666.6" y1="610.5" x2="666.6" y2="695.5" stroke="#a0a0a0" stroke-width="1" stroke-dasharray="4,2"/>
<line x1="764.8" y1="610.5" x2="764.8" y2="695.5" stroke="#a0a0a0" stroke-width="1" stroke-dasharray="4,2"/>
<line x1="863.0" y1="610.5" x2="863.0" y2="695.5" stroke="#a0a0a0" stroke-width="1" stroke-dasharray="4,2"/>
<line x1="961.3" y1="610.5" x2="961.3" y2="695.5" stroke="#a0a0a0" stroke-width="1" stroke-dasharray="4,2"/>
<line x1="1059.5" y1="610.5" x2="1059.5" y2="695.5" stroke="#a0a0a0" stroke-width="1" stroke-dasharray="4,2"/>
<line x1="120.5" y1="614.4" x2="1090.5" y2="614.4" stroke="#a0a0a0" stroke-width="1" stroke-dasharray="4,2"/>
<line x1="120.5" y1="632.2" x2="1090.5" y2="632.2" stroke="#a0a0a0" stroke-width="1" stroke-dasharray="4,2"/>
<line x1="120.5" y1="649.2" x2="1090.5" y2="649.2" stroke="#a0a0a0" stroke-width="1" stroke-dasharray="4,2"/>
<line x1="120.5" y1="667.3" x2="1090.5" y2="667.3" stroke="#a0a0a0" stroke-width="1" stroke-dasharray="4,2"/>
<line x1="120.5" y1="685.2" x2="1090.5" y2="685.2" stroke="#a0a0a0" stroke-width="1" stroke-dasharray="4,2"/>
<g>
<path d="M126.3,651.5L107.9,636.1M107.9,636.1L111.0,627.6M110.2,638.0L111.8,633.8" stroke="#806040" stroke-width="1" fill="none"/>
<path d="M138.6,651.5L123.5,632.8M123.5,632.8L128.1,625.1" stroke="#806040" stroke-width="1" fill="none"/>
<path d="M150.9,651.5L129.1,641.4M129.1,641.4L129.9,632.4" stroke="#806040" stroke-width="1" fill="none"/>
<path d="M163.1,651.5L142.6,639.1M142.6,639.1L144.3,630.3M145.1,640.7L146.0,636.3" stroke="#806040" stroke-width="1" fill="none"/>
<path d="M175.4,651.5L166.4,629.2M166.4,629.2L173.1,623.2" stroke="#806040" stroke-width="1" fill="none"/>
<path d="M187.7,651.5L187.7,627.5M187.7,627.5L196.2,624.4" stroke="#806040" stroke-width="1" fill="none"/>
<path d="M200.0,651.5L204.6,627.9M204.6,627.9L213.4,626.5M204.0,630.9L208.4,630.2" stroke="#806040" stroke-width="1" fill="none"/>
<path d="M212.3,651.5L190.3,641.7M190.3,641.7L191.0,632.8" stroke="#806040" stroke-width="1" fill="none"/>
<path d="M224.5,651.5L202.8,641.4M202.8,641.4L203.6,632.4" stroke="#806040" stroke-width="1" fill="none"/>
<path d="M236.8,651.5L217.4,637.4M217.4,637.4L219.9,628.7M219.8,639.2L221.1,634.8" stroke="#806040" stroke-width="1" fill="none"/>
<path d="M249.1,651.5L238.2,630.1M238.2,630.1L244.3,623.5" stroke="#806040" stroke-width="1" fill="none"/>
<path d="M261.4,651.5L245.0,633.9M245.0,633.9L249.1,625.9" stroke="#806040" stroke-width="1" fill="none"/>
<path d="M273.7,651.5L290.6,634.5M290.6,634.5L298.8,638.3M288.5,636.7L292.6,638.6" stroke="#806040" stroke-width="1" fill="none"/>
<path d="M285.9,651.5L265.2,639.5M265.2,639.5L266.7,630.6" stroke="#806040" stroke-width="1" fill="none"/>
<path d="M298.2,653.6V681M287.2,653.6L313.2,655.5" stroke="#806040" stroke-width="1" fill="none"/>
<path d="M310.5,651.5L287.9,643.3M287.9,643.3L287.9,634.3M290.8,644.3L290.8,639.8" stroke="#806040" stroke-width="1" fill="none"/>
<path d="M322.8,651.5L310.8,630.7M310.8,630.7L316.6,623.8" stroke="#806040" stroke-width="1" fill="none"/>
<path d="M335.1,651.5L324.2,630.1M324.2,630.1L330.3,623.5" stroke="#806040" stroke-width="1" fill="none"/>
<path d="M347.3,651.5L356.7,629.4M356.7,629.4L365.7,629.9M355.5,632.2L360.0,632.4" stroke="#806040" stroke-width="1" fill="none"/>
<path d="M359.6,651.5L381.5,641.7M381.5,641.7L387.8,648.2" stroke="#806040" stroke-width="1" fill="none"/>
<path d="M371.9,651.5L351.1,639.5M351.1,639.5L352.7,630.6" stroke="#806040" stroke-width="1" fill="none"/>
<path d="M384.2,651.5L404.5,664.2M404.5,664.2L402.7,673.0M402.0,662.6L401.1,667.0" stroke="#806040" stroke-width="1" fill="none"/>
<path d="M396.5,651.5L387.1,629.4M387.1,629.4L393.7,623.3" stroke="#806040" stroke-width="1" fill="none"/>
<path d="M408.7,651.5L400.5,628.9M400.5,628.9L407.4,623.2" stroke="#806040" stroke-width="1" fill="none"/>
<path d="M421.0,651.5L404.3,634.2M404.3,634.2L408.3,626.1M406.4,636.4L408.4,632.3" stroke="#806040" stroke-width="1" fill="none"/>
<path d="M433.3,651.5L418.5,632.6M418.5,632.6L423.3,625.0" stroke="#806040" stroke-width="1" fill="none"/>
<path d="M445.6,651.5L433.2,630.9M433.2,630.9L438.9,623.9" stroke="#806040" stroke-width="1" fill="none"/>
<path d="M457.9,651.5L449.7,628.9M449.7,628.9L456.5,623.2M450.7,631.8L454.1,628.9" stroke="#806040" stroke-width="1" fill="none"/>
<path d="M470.1,651.5L468.9,627.5M468.9,627.5L477.2,624.0" stroke="#806040" stroke-width="1" fill="none"/>
<path d="M482.4,651.5L476.6,628.2M476.6,628.2L484.1,623.2" stroke="#806040" stroke-width="1" fill="none"/>
<path d="M494.7,651.5L492.6,627.6M492.6,627.6L500.8,623.8M492.9,630.6L496.9,628.7" stroke="#806040" stroke-width="1" fill="none"/>
<path d="M507.0,651.5L500.0,628.5M500.0,628.5L507.2,623.1" stroke="#806040" stroke-width="1" fill="none"/>
<path d="M519.3,651.5L507.6,630.5M507.6,630.5L513.5,623.7" stroke="#806040" stroke-width="1" fill="none"/>
<path d="M531.5,651.5L519.2,630.9M519.2,630.9L524.8,623.9M520.7,633.5L523.6,630.0" stroke="#806040" stroke-width="1" fill="none"/>
<path d="M543.8,651.5L530.1,631.8M530.1,631.8L535.2,624.5" stroke="#806040" stroke-width="1" fill="none"/>
<path d="M556.1,651.5L546.0,629.7M546.0,629.7L552.3,623.4" stroke="#806040" stroke-width="1" fill="none"/>
<path d="M568.4,651.5L564.2,627.9M564.2,627.9L572.0,623.4M564.7,630.8L568.6,628.6" stroke="#806040" stroke-width="1" fill="none"/>
<path d="M580.7,651.5L576.1,627.9M576.1,627.9L583.8,623.3" stroke="#806040" stroke-width="1" fill="none"/>
<path d="M592.9,651.5L587.1,628.2M587.1,628.2L594.6,623.2" stroke="#806040" stroke-width="1" fill="none"/>
<path d="M605.2,651.5L595.1,629.7M595.1,629.7L601.4,623.4M596.3,632.5L599.5,629.3" stroke="#806040" stroke-width="1" fill="none"/>
<path d="M617.5,651.5L606.6,630.1M606.6,630.1L612.7,623.5" stroke="#806040" stroke-width="1" fill="none"/>
<path d="M629.8,651.5L618.9,630.1M618.9,630.1L625.0,623.5" stroke="#806040" stroke-width="1" fill="none"/>
<path d="M642.1,651.5L630.4,630.5M630.4,630.5L636.3,623.7M631.9,633.1L634.8,629.7" stroke="#806040" stroke-width="1" fill="none"/>
<path d="M654.3,651.5L646.5,628.8M646.5,628.8L653.5,623.1" stroke="#806040" stroke-width="1" fill="none"/>
<path d="M666.6,651.5L664.1,627.6M664.1,627.6L672.2,623.7" stroke="#806040" stroke-width="1" fill="none"/>
<path d="M678.9,651.5L674.7,627.9M674.7,627.9L682.5,623.4M675.3,630.8L679.2,628.6" stroke="#806040" stroke-width="1" fill="none"/>
<path d="M691.2,651.5L686.2,628.0M686.2,628.0L693.8,623.3" stroke="#806040" stroke-width="1" fill="none"/>
<path d="M703.5,651.5L697.7,628.2M697.7,628.2L705.1,623.2" stroke="#806040" stroke-width="1" fill="none"/>
<path d="M715.7,651.5L710.3,628.1M710.3,628.1L717.9,623.2M711.0,631.0L714.8,628.6" stroke="#806040" stroke-width="1" fill="none"/>
<path d="M728.0,651.5L722.6,628.1M722.6,628.1L730.2,623.2" stroke="#806040" stroke-width="1" fill="none"/>
<path d="M740.3,651.5L740.3,627.5M740.3,627.5L748.8,624.4" stroke="#806040" stroke-width="1" fill="none"/>
<path d="M752.6,651.5L752.6,627.5M752.6,627.5L761.0,624.4M752.6,630.5L756.8,629.0" stroke="#806040" stroke-width="1" fill="none"/>
<path d="M764.9,651.5L764.9,627.5M764.9,627.5L773.3,624.4" stroke="#806040" stroke-width="1" fill="none"/>
<path d="M777.1,651.5L772.6,627.9M772.6,627.9L780.3,623.3" stroke="#806040" stroke-width="1" fill="none"/>
<path d="M789.4,651.5L787.3,627.6M787.3,627.6L795.5,623.8M787.6,630.6L791.7,628.7" stroke="#806040" stroke-width="1" fill="none"/>
<path d="M801.7,651.5L795.9,628.2M795.9,628.2L803.4,623.2" stroke="#806040" stroke-width="1" fill="none"/>
<path d="M814.0,651.5L805.0,629.2M805.0,629.2L811.7,623.2" stroke="#806040" stroke-width="1" fill="none"/>
<path d="M826.3,651.5L817.3,629.2M817.3,629.2L824.0,623.2M818.4,632.0L821.7,629.0" stroke="#806040" stroke-width="1" fill="none"/>
<path d="M838.5,651.5L832.7,628.2M832.7,628.2L840.2,623.2" stroke="#806040" stroke-width="1" fill="none"/>
<path d="M850.8,651.5L847.2,627.8M847.2,627.8L855.1,623.4" stroke="#806040" stroke-width="1" fill="none"/>
<path d="M863.1,651.5L860.2,627.7M860.2,627.7L868.2,623.6M860.5,630.7L864.5,628.6" stroke="#806040" stroke-width="1" fill="none"/>
<path d="M875.4,651.5L874.9,627.5M874.9,627.5L883.3,624.2" stroke="#806040" stroke-width="1" fill="none"/>
<path d="M887.7,651.5L884.1,627.8M884.1,627.8L892.0,623.5" stroke="#806040" stroke-width="1" fill="none"/>
<path d="M899.9,651.5L896.7,627.7M896.7,627.7L904.6,623.5M897.1,630.7L901.0,628.6" stroke="#806040" stroke-width="1" fill="none"/>
<path d="M912.2,651.5L909.5,627.7M909.5,627.7L917.5,623.6" stroke="#806040" stroke-width="1" fill="none"/>
<path d="M924.5,651.5L919.1,628.1M919.1,628.1L926.6,623.2" stroke="#806040" stroke-width="1" fill="none"/>
<path d="M936.8,651.5L933.5,627.7M933.5,627.7L941.5,623.5M933.9,630.7L937.9,628.6" stroke="#806040" stroke-width="1" fill="none"/>
<path d="M949.1,651.5L946.6,627.6M946.6,627.6L954.7,623.7" stroke="#806040" stroke-width="1" fill="none"/>
<path d="M961.3,651.5L960.0,627.5M960.0,627.5L968.2,624.0" stroke="#806040" stroke-width="1" fill="none"/>
<path d="M973.6,651.5L967.6,628.3M967.6,628.3L975.0,623.2M968.4,631.2L972.1,628.6" stroke="#806040" stroke-width="1" fill="none"/>
<path d="M985.9,651.5L981.3,628.0M981.3,628.0L989.0,623.3" stroke="#806040" stroke-width="1" fill="none"/>
<path d="M998.2,651.5L992.2,628.3M992.2,628.3L999.6,623.2" stroke="#806040" stroke-width="1" fill="none"/>
<path d="M1010.5,651.5L1009.2,627.5M1009.2,627.5L1017.5,624.0M1009.3,630.5L1013.5,628.8" stroke="#806040" stroke-width="1" fill="none"/>
<path d="M1022.7,651.5L1020.7,627.6M1020.7,627.6L1028.9,623.8" stroke="#806040" stroke-width="1" fill="none"/>
<path d="M1035.0,651.5L1028.7,628.4M1028.7,628.4L1036.0,623.1" stroke="#806040" stroke-width="1" fill="none"/>
<path d="M1047.3,651.5L1047.2,627.5M1047.2,627.5L1055.6,624.4M1047.2,630.5L1051.4,628.9" stroke="#806040" stroke-width="1" fill="none"/>
<path d="M1059.6,651.5L1059.3,627.5M1059.3,627.5L1067.8,624.3" stroke="#806040" stroke-width="1" fill="none"/>
<path d="M1071.9,651.5L1069.5,627.6M1069.5,627.6L1077.7,623.7" stroke="#806040" stroke-width="1" fill="none"/>
<path d="M1084.1,651.5L1081.6,627.6M1081.6,627.6L1089.6,623.7M1081.9,630.6L1085.9,628.6" stroke="#806040" stroke-width="1" fill="none"/>
</g>
<polyline points="126.3,663.3 138.6,656.4 150.9,664.6 163.1,668.7 175.4,679.6 187.7,679.6 200.0,686.7 212.3,680.4 224.5,671.4 236.8,664.6 249.1,670.9 261.4,685.9 273.7,686.7 285.9,687.3 298.2,689.5 310.5,688.2 322.8,662.3 335.1,661.5 347.3,669.9 359.6,671.3 371.9,676.4 384.2,686.0 396.5,678.1 408.7,678.1 421.0,669.6 433.3,656.3 445.6,655.5 457.9,645.4 470.1,643.2 482.4,640.5 494.7,638.5 507.0,639.1 519.3,639.1 531.5,636.4 543.8,658.2 556.1,633.6 568.4,625.5 580.7,644.5 592.9,637.2 605.2,632.3 617.5,635.0 629.8,634.5 642.1,654.1 654.3,616.5 666.6,639.1 678.9,653.5 691.2,641.8 703.5,634.5 715.7,626.8 728.0,626.3 740.3,668.5 752.6,629.0 764.9,643.2 777.1,660.9 789.4,648.6 801.7,641.8 814.0,633.1 826.3,633.1 838.5,665.0 850.8,669.5 863.1,664.0 875.4,669.5 887.7,654.5 899.9,649.8 912.2,645.5 924.5,640.9 936.8,652.7 949.1,664.5 961.3,667.5 973.6,670.9 985.9,653.9 998.2,651.6 1010.5,644.1 1022.7,646.4 1035.0,658.4 1047.3,664.5 1059.6,665.2 1071.9,663.6 1084.1,675.9" fill="none" stroke="#ff8c14" stroke-width="1"/>
<path d="M123.8,663.3L126.3,659.8L128.8,663.3L126.3,666.8Z M123.8,663.3H128.8" fill="#fff" stroke="#ff8c14" stroke-width="0.9"/>
<path d="M136.1,656.4L138.6,652.9L141.1,656.4L138.6,659.9Z M136.1,656.4H141.1" fill="#fff" stroke="#ff8c14" stroke-width="0.9"/>
<path d="M148.4,664.6L150.9,661.1L153.4,664.6L150.9,668.1Z M148.4,664.6H153.4" fill="#fff" stroke="#ff8c14" stroke-width="0.9"/>
<path d="M160.6,668.7L163.1,665.2L165.6,668.7L163.1,672.2Z M160.6,668.7H165.6" fill="#fff" stroke="#ff8c14" stroke-width="0.9"/>
<path d="M172.9,679.6L175.4,676.1L177.9,679.6L175.4,683.1Z M172.9,679.6H177.9" fill="#fff" stroke="#ff8c14" stroke-width="0.9"/>
<path d="M185.2,679.6L187.7,676.1L190.2,679.6L187.7,683.1Z M185.2,679.6H190.2" fill="#fff" stroke="#ff8c14" stroke-width="0.9"/>
<path d="M197.5,686.7L200.0,683.2L202.5,686.7L200.0,690.2Z M197.5,686.7H202.5" fill="#fff" stroke="#ff8c14" stroke-width="0.9"/>
<path d="M209.8,680.4L212.3,676.9L214.8,680.4L212.3,683.9Z M209.8,680.4H214.8" fill="#fff" stroke="#ff8c14" stroke-width="0.9"/>
<path d="M222.0,671.4L224.5,667.9L227.0,671.4L224.5,674.9Z M222.0,671.4H227.0" fill="#fff" stroke="#ff8c14" stroke-width="0.9"/>
<path d="M234.3,664.6L236.8,661.1L239.3,664.6L236.8,668.1Z M234.3,664.6H239.3" fill="#fff" stroke="#ff8c14" stroke-width="0.9"/>
<path d="M246.6,670.9L249.1,667.4L251.6,670.9L249.1,674.4Z M246.6,670.9H251.6" fill="#fff" stroke="#ff8c14" stroke-width="0.9"/>
<path d="M258.9,685.9L261.4,682.4L263.9,685.9L261.4,689.4Z M258.9,685.9H263.9" fill="#fff" stroke="#ff8c14" stroke-width="0.9"/>
<path d="M271.2,686.7L273.7,683.2L276.2,686.7L273.7,690.2Z M271.2,686.7H276.2" fill="#fff" stroke="#ff8c14" stroke-width="0.9"/>
<path d="M283.4,687.3L285.9,683.8L288.4,687.3L285.9,690.8Z M283.4,687.3H288.4" fill="#fff" stroke="#ff8c14" stroke-width="0.9"/>
<path d="M295.7,689.5L298.2,686.0L300.7,689.5L298.2,693.0Z M295.7,689.5H300.7" fill="#fff" stroke="#ff8c14" stroke-width="0.9"/>
<path d="M308.0,688.2L310.5,684.7L313.0,688.2L310.5,691.7Z M308.0,688.2H313.0" fill="#fff" stroke="#ff8c14" stroke-width="0.9"/>
<path d="M320.3,662.3L322.8,658.8L325.3,662.3L322.8,665.8Z M320.3,662.3H325.3" fill="#fff" stroke="#ff8c14" stroke-width="0.9"/>
<path d="M332.6,661.5L335.1,658.0L337.6,661.5L335.1,665.0Z M332.6,661.5H337.6" fill="#fff" stroke="#ff8c14" stroke-width="0.9"/>
<path d="M344.8,669.9L347.3,666.4L349.8,669.9L347.3,673.4Z M344.8,669.9H349.8" fill="#fff" stroke="#ff8c14" stroke-width="0.9"/>
<path d="M357.1,671.3L359.6,667.8L362.1,671.3L359.6,674.8Z M357.1,671.3H362.1" fill="#fff" stroke="#ff8c14" stroke-width="0.9"/>
<path d="M369.4,676.4L371.9,672.9L374.4,676.4L371.9,679.9Z M369.4,676.4H374.4" fill="#fff" stroke="#ff8c14" stroke-width="0.9"/>
<path d="M381.7,686.0L384.2,682.5L386.7,686.0L384.2,689.5Z M381.7,686.0H386.7" fill="#fff" stroke="#ff8c14" stroke-width="0.9"/>
<path d="M394.0,678.1L396.5,674.6L399.0,678.1L396.5,681.6Z M394.0,678.1H399.0" fill="#fff" stroke="#ff8c14" stroke-width="0.9"/>
<path d="M406.2,678.1L408.7,674.6L411.2,678.1L408.7,681.6Z M406.2,678.1H411.2" fill="#fff" stroke="#ff8c14" stroke-width="0.9"/>
<path d="M418.5,669.6L421.0,666.1L423.5,669.6L421.0,673.1Z M418.5,669.6H423.5" fill="#fff" stroke="#ff8c14" stroke-width="0.9"/>
<path d="M430.8,656.3L433.3,652.8L435.8,656.3L433.3,659.8Z M430.8,656.3H435.8" fill="#fff" stroke="#ff8c14" stroke-width="0.9"/>
<path d="M443.1,655.5L445.6,652.0L448.1,655.5L445.6,659.0Z M443.1,655.5H448.1" fill="#fff" stroke="#ff8c14" stroke-width="0.9"/>
<path d="M455.4,645.4L457.9,641.9L460.4,645.4L457.9,648.9Z M455.4,645.4H460.4" fill="#fff" stroke="#ff8c14" stroke-width="0.9"/>
<path d="M467.6,643.2L470.1,639.7L472.6,643.2L470.1,646.7Z M467.6,643.2H472.6" fill="#fff" stroke="#ff8c14" stroke-width="0.9"/>
<path d="M479.9,640.5L482.4,637.0L484.9,640.5L482.4,644.0Z M479.9,640.5H484.9" fill="#fff" stroke="#ff8c14" stroke-width="0.9"/>
<path d="M492.2,638.5L494.7,635.0L497.2,638.5L494.7,642.0Z M492.2,638.5H497.2" fill="#fff" stroke="#ff8c14" stroke-width="0.9"/>
<path d="M504.5,639.1L507.0,635.6L509.5,639.1L507.0,642.6Z M504.5,639.1H509.5" fill="#fff" stroke="#ff8c14" stroke-width="0.9"/>
<path d="M516.8,639.1L519.3,635.6L521.8,639.1L519.3,642.6Z M516.8,639.1H521.8" fill="#fff" stroke="#ff8c14" stroke-width="0.9"/>
<path d="M529.0,636.4L531.5,632.9L534.0,636.4L531.5,639.9Z M529.0,636.4H534.0" fill="#fff" stroke="#ff8c14" stroke-width="0.9"/>
<path d="M541.3,658.2L543.8,654.7L546.3,658.2L543.8,661.7Z M541.3,658.2H546.3" fill="#fff" stroke="#ff8c14" stroke-width="0.9"/>
<path d="M553.6,633.6L556.1,630.1L558.6,633.6L556.1,637.1Z M553.6,633.6H558.6" fill="#fff" stroke="#ff8c14" stroke-width="0.9"/>
<path d="M565.9,625.5L568.4,622.0L570.9,625.5L568.4,629.0Z M565.9,625.5H570.9" fill="#fff" stroke="#ff8c14" stroke-width="0.9"/>
<path d="M578.2,644.5L580.7,641.0L583.2,644.5L580.7,648.0Z M578.2,644.5H583.2" fill="#fff" stroke="#ff8c14" stroke-width="0.9"/>
<path d="M590.4,637.2L592.9,633.7L595.4,637.2L592.9,640.7Z M590.4,637.2H595.4" fill="#fff" stroke="#ff8c14" stroke-width="0.9"/>
<path d="M602.7,632.3L605.2,628.8L607.7,632.3L605.2,635.8Z M602.7,632.3H607.7" fill="#fff" stroke="#ff8c14" stroke-width="0.9"/>
<path d="M615.0,635.0L617.5,631.5L620.0,635.0L617.5,638.5Z M615.0,635.0H620.0" fill="#fff" stroke="#ff8c14" stroke-width="0.9"/>
<path d="M627.3,634.5L629.8,631.0L632.3,634.5L629.8,638.0Z M627.3,634.5H632.3" fill="#fff" stroke="#ff8c14" stroke-width="0.9"/>
<path d="M639.6,654.1L642.1,650.6L644.6,654.1L642.1,657.6Z M639.6,654.1H644.6" fill="#fff" stroke="#ff8c14" stroke-width="0.9"/>
<path d="M651.8,616.5L654.3,613.0L656.8,616.5L654.3,620.0Z M651.8,616.5H656.8" fill="#fff" stroke="#ff8c14" stroke-width="0.9"/>
<path d="M664.1,639.1L666.6,635.6L669.1,639.1L666.6,642.6Z M664.1,639.1H669.1" fill="#fff" stroke="#ff8c14" stroke-width="0.9"/>
<path d="M676.4,653.5L678.9,650.0L681.4,653.5L678.9,657.0Z M676.4,653.5H681.4" fill="#fff" stroke="#ff8c14" stroke-width="0.9"/>
<path d="M688.7,641.8L691.2,638.3L693.7,641.8L691.2,645.3Z M688.7,641.8H693.7" fill="#fff" stroke="#ff8c14" stroke-width="0.9"/>
<path d="M701.0,634.5L703.5,631.0L706.0,634.5L703.5,638.0Z M701.0,634.5H706.0" fill="#fff" stroke="#ff8c14" stroke-width="0.9"/>
<path d="M713.2,626.8L715.7,623.3L718.2,626.8L715.7,630.3Z M713.2,626.8H718.2" fill="#fff" stroke="#ff8c14" stroke-width="0.9"/>
<path d="M725.5,626.3L728.0,622.8L730.5,626.3L728.0,629.8Z M725.5,626.3H730.5" fill="#fff" stroke="#ff8c14" stroke-width="0.9"/>
<path d="M737.8,668.5L740.3,665.0L742.8,668.5L740.3,672.0Z M737.8,668.5H742.8" fill="#fff" stroke="#ff8c14" stroke-width="0.9"/>
<path d="M750.1,629.0L752.6,625.5L755.1,629.0L752.6,632.5Z M750.1,629.0H755.1" fill="#fff" stroke="#ff8c14" stroke-width="0.9"/>
<path d="M762.4,643.2L764.9,639.7L767.4,643.2L764.9,646.7Z M762.4,643.2H767.4" fill="#fff" stroke="#ff8c14" stroke-width="0.9"/>
<path d="M774.6,660.9L777.1,657.4L779.6,660.9L777.1,664.4Z M774.6,660.9H779.6" fill="#fff" stroke="#ff8c14" stroke-width="0.9"/>
<path d="M786.9,648.6L789.4,645.1L791.9,648.6L789.4,652.1Z M786.9,648.6H791.9" fill="#fff" stroke="#ff8c14" stroke-width="0.9"/>
<path d="M799.2,641.8L801.7,638.3L804.2,641.8L801.7,645.3Z M799.2,641.8H804.2" fill="#fff" stroke="#ff8c14" stroke-width="0.9"/>
<path d="M811.5,633.1L814.0,629.6L816.5,633.1L814.0,636.6Z M811.5,633.1H816.5" fill="#fff" stroke="#ff8c14" stroke-width="0.9"/>
<path d="M823.8,633.1L826.3,629.6L828.8,633.1L826.3,636.6Z M823.8,633.1H828.8" fill="#fff" stroke="#ff8c14" stroke-width="0.9"/>
<path d="M836.0,665.0L838.5,661.5L841.0,665.0L838.5,668.5Z M836.0,665.0H841.0" fill="#fff" stroke="#ff8c14" stroke-width="0.9"/>
<path d="M848.3,669.5L850.8,666.0L853.3,669.5L850.8,673.0Z M848.3,669.5H853.3" fill="#fff" stroke="#ff8c14" stroke-width="0.9"/>
<path d="M860.6,664.0L863.1,660.5L865.6,664.0L863.1,667.5Z M860.6,664.0H865.6" fill="#fff" stroke="#ff8c14" stroke-width="0.9"/>
<path d="M872.9,669.5L875.4,666.0L877.9,669.5L875.4,673.0Z M872.9,669.5H877.9" fill="#fff" stroke="#ff8c14" stroke-width="0.9"/>
<path d="M885.2,654.5L887.7,651.0L890.2,654.5L887.7,658.0Z M885.2,654.5H890.2" fill="#fff" stroke="#ff8c14" stroke-width="0.9"/>
<path d="M897.4,649.8L899.9,646.3L902.4,649.8L899.9,653.3Z M897.4,649.8H902.4" fill="#fff" stroke="#ff8c14" stroke-width="0.9"/>
<path d="M909.7,645.5L912.2,642.0L914.7,645.5L912.2,649.0Z M909.7,645.5H914.7" fill="#fff" stroke="#ff8c14" stroke-width="0.9"/>
<path d="M922.0,640.9L924.5,637.4L927.0,640.9L924.5,644.4Z M922.0,640.9H927.0" fill="#fff" stroke="#ff8c14" stroke-width="0.9"/>
<path d="M934.3,652.7L936.8,649.2L939.3,652.7L936.8,656.2Z M934.3,652.7H939.3" fill="#fff" stroke="#ff8c14" stroke-width="0.9"/>
<path d="M946.6,664.5L949.1,661.0L951.6,664.5L949.1,668.0Z M946.6,664.5H951.6" fill="#fff" stroke="#ff8c14" stroke-width="0.9"/>
<path d="M958.8,667.5L961.3,664.0L963.8,667.5L961.3,671.0Z M958.8,667.5H963.8" fill="#fff" stroke="#ff8c14" stroke-width="0.9"/>
<path d="M971.1,670.9L973.6,667.4L976.1,670.9L973.6,674.4Z M971.1,670.9H976.1" fill="#fff" stroke="#ff8c14" stroke-width="0.9"/>
<path d="M983.4,653.9L985.9,650.4L988.4,653.9L985.9,657.4Z M983.4,653.9H988.4" fill="#fff" stroke="#ff8c14" stroke-width="0.9"/>
<path d="M995.7,651.6L998.2,648.1L1000.7,651.6L998.2,655.1Z M995.7,651.6H1000.7" fill="#fff" stroke="#ff8c14" stroke-width="0.9"/>
<path d="M1008.0,644.1L1010.5,640.6L1013.0,644.1L1010.5,647.6Z M1008.0,644.1H1013.0" fill="#fff" stroke="#ff8c14" stroke-width="0.9"/>
<path d="M1020.2,646.4L1022.7,642.9L1025.2,646.4L1022.7,649.9Z M1020.2,646.4H1025.2" fill="#fff" stroke="#ff8c14" stroke-width="0.9"/>
<path d="M1032.5,658.4L1035.0,654.9L1037.5,658.4L1035.0,661.9Z M1032.5,658.4H1037.5" fill="#fff" stroke="#ff8c14" stroke-width="0.9"/>
<path d="M1044.8,664.5L1047.3,661.0L1049.8,664.5L1047.3,668.0Z M1044.8,664.5H1049.8" fill="#fff" stroke="#ff8c14" stroke-width="0.9"/>
<path d="M1057.1,665.2L1059.6,661.7L1062.1,665.2L1059.6,668.7Z M1057.1,665.2H1062.1" fill="#fff" stroke="#ff8c14" stroke-width="0.9"/>
<path d="M1069.4,663.6L1071.9,660.1L1074.4,663.6L1071.9,667.1Z M1069.4,663.6H1074.4" fill="#fff" stroke="#ff8c14" stroke-width="0.9"/>
<path d="M1081.6,675.9L1084.1,672.4L1086.6,675.9L1084.1,679.4Z M1081.6,675.9H1086.6" fill="#fff" stroke="#ff8c14" stroke-width="0.9"/>
<clipPath id="ct"><polygon points="126.3,780.5 126.3,711.4 138.6,712.7 150.9,719.5 163.1,723.6 175.4,725.5 187.7,729.0 200.0,722.3 212.3,714.0 224.5,708.6 236.8,710.5 249.1,718.2 261.4,721.0 273.7,725.0 285.9,727.2 298.2,717.4 310.5,710.0 322.8,704.0 335.1,707.3 347.3,712.7 359.6,715.5 371.9,718.2 384.2,721.7 396.5,715.5 408.7,707.3 421.0,701.5 433.3,703.2 445.6,711.4 457.9,715.5 470.1,724.5 482.4,727.7 494.7,724.5 507.0,712.7 519.3,706.7 531.5,711.4 543.8,718.2 556.1,722.3 568.4,729.0 580.7,732.6 592.9,729.0 605.2,718.2 617.5,712.7 629.8,715.5 642.1,723.0 654.3,726.4 666.6,731.3 678.9,736.0 691.2,732.6 703.5,720.9 715.7,714.0 728.0,715.5 740.3,720.9 752.6,725.0 764.9,730.0 777.1,735.0 789.4,730.5 801.7,720.9 814.0,714.6 826.3,715.5 838.5,723.6 850.8,726.4 863.1,730.5 875.4,735.0 887.7,729.0 899.9,718.2 912.2,712.7 924.5,714.5 936.8,723.6 949.1,727.8 961.3,732.2 973.6,735.0 985.9,728.2 998.2,714.5 1010.5,711.5 1022.7,712.7 1035.0,722.7 1047.3,726.4 1059.6,731.5 1071.9,735.8 1084.1,729.6 1084.1,780.5"/></clipPath>
<g clip-path="url(#ct)">
<rect x="126.3" y="775.1" width="957.8" height="8.0" fill="#96cdfa"/>
<rect x="126.3" y="767.1" width="957.8" height="8.0" fill="#50a0f0"/>
<rect x="126.3" y="759.1" width="957.8" height="8.0" fill="#2a80e8"/>
<rect x="126.3" y="751.1" width="957.8" height="8.0" fill="#2cb82c"/>
<rect x="126.3" y="743.1" width="957.8" height="8.0" fill="#50ea50"/>
<rect x="126.3" y="735.1" width="957.8" height="8.0" fill="#f0f870"/>
<rect x="126.3" y="727.1" width="957.8" height="8.0" fill="#fab040"/>
<rect x="126.3" y="719.1" width="957.8" height="8.0" fill="#ff6c00"/>
<rect x="126.3" y="711.1" width="957.8" height="8.0" fill="#fa3000"/>
<rect x="126.3" y="683.1" width="957.8" height="28.0" fill="#aa0000"/>
</g>
<line x1="120.5" y1="702.5" x2="1090.5" y2="702.5" stroke="#a0a0a0" stroke-width="1" stroke-dasharray="4,2"/>
<line x1="120.5" y1="718.5" x2="1090.5" y2="718.5" stroke="#a0a0a0" stroke-width="1" stroke-dasharray="4,2"/>
<line x1="120.5" y1="734.4" x2="1090.5" y2="734.4" stroke="#a0a0a0" stroke-width="1" stroke-dasharray="4,2"/>
<line x1="120.5" y1="750.5" x2="1090.5" y2="750.5" stroke="#a0a0a0" stroke-width="1" stroke-dasharray="4,2"/>
<line x1="120.5" y1="766.4" x2="1090.5" y2="766.4" stroke="#a0a0a0" stroke-width="1" stroke-dasharray="4,2"/>
<line x1="175.5" y1="695.5" x2="175.5" y2="780.5" stroke="#a0a0a0" stroke-width="1" stroke-dasharray="4,2"/>
<line x1="273.7" y1="695.5" x2="273.7" y2="780.5" stroke="#a0a0a0" stroke-width="1" stroke-dasharray="4,2"/>
<line x1="371.9" y1="695.5" x2="371.9" y2="780.5" stroke="#a0a0a0" stroke-width="1" stroke-dasharray="4,2"/>
<line x1="470.2" y1="695.5" x2="470.2" y2="780.5" stroke="#a0a0a0" stroke-width="1" stroke-dasharray="4,2"/>
<line x1="568.4" y1="695.5" x2="568.4" y2="780.5" stroke="#a0a0a0" stroke-width="1" stroke-dasharray="4,2"/>
<line x1="666.6" y1="695.5" x2="666.6" y2="780.5" stroke="#a0a0a0" stroke-width="1" stroke-dasharray="4,2"/>
<line x1="764.8" y1="695.5" x2="764.8" y2="780.5" stroke="#a0a0a0" stroke-width="1" stroke-dasharray="4,2"/>
<line x1="863.0" y1="695.5" x2="863.0" y2="780.5" stroke="#a0a0a0" stroke-width="1" stroke-dasharray="4,2"/>
<line x1="961.3" y1="695.5" x2="961.3" y2="780.5" stroke="#a0a0a0" stroke-width="1" stroke-dasharray="4,2"/>
<line x1="1059.5" y1="695.5" x2="1059.5" y2="780.5" stroke="#a0a0a0" stroke-width="1" stroke-dasharray="4,2"/>
<path d="M150.9,712.7V720.1M147.9,712.7H153.9M147.9,720.1H153.9" stroke="#704038" stroke-width="1" fill="none"/>
<path d="M175.4,720.9V725.5M172.4,720.9H178.4M172.4,725.5H178.4" stroke="#704038" stroke-width="1" fill="none"/>
<path d="M200.0,722.3V729.1M197.0,722.3H203.0M197.0,729.1H203.0" stroke="#704038" stroke-width="1" fill="none"/>
<path d="M224.5,709.2V722.3M221.5,709.2H227.5M221.5,722.3H227.5" stroke="#704038" stroke-width="1" fill="none"/>
<path d="M249.1,709.2V717.4M246.1,709.2H252.1M246.1,717.4H252.1" stroke="#704038" stroke-width="1" fill="none"/>
<path d="M273.7,721.0V727.0M270.7,721.0H276.7M270.7,727.0H276.7" stroke="#704038" stroke-width="1" fill="none"/>
<path d="M298.2,718.2V728.3M295.2,718.2H301.2M295.2,728.3H301.2" stroke="#704038" stroke-width="1" fill="none"/>
<path d="M322.8,703.2V717.4M319.8,703.2H325.8M319.8,717.4H325.8" stroke="#704038" stroke-width="1" fill="none"/>
<path d="M347.3,704.5V714.1M344.3,704.5H350.3M344.3,714.1H350.3" stroke="#704038" stroke-width="1" fill="none"/>
<path d="M371.9,714.1V718.5M368.9,714.1H374.9M368.9,718.5H374.9" stroke="#704038" stroke-width="1" fill="none"/>
<path d="M396.5,716.3V723.1M393.5,716.3H399.5M393.5,723.1H399.5" stroke="#704038" stroke-width="1" fill="none"/>
<path d="M421.0,701.0V715.5M418.0,701.0H424.0M418.0,715.5H424.0" stroke="#704038" stroke-width="1" fill="none"/>
<path d="M445.6,701.0V711.9M442.6,701.0H448.6M442.6,711.9H448.6" stroke="#704038" stroke-width="1" fill="none"/>
<path d="M470.1,711.9V724.5M467.1,711.9H473.1M467.1,724.5H473.1" stroke="#704038" stroke-width="1" fill="none"/>
<path d="M494.7,725.0V729.1M491.7,725.0H497.7M491.7,729.1H497.7" stroke="#704038" stroke-width="1" fill="none"/>
<path d="M519.3,706.7V724.2M516.3,706.7H522.3M516.3,724.2H522.3" stroke="#704038" stroke-width="1" fill="none"/>
<path d="M543.8,707.3V719.0M540.8,707.3H546.8M540.8,719.0H546.8" stroke="#704038" stroke-width="1" fill="none"/>
<path d="M568.4,719.0V729.0M565.4,719.0H571.4M565.4,729.0H571.4" stroke="#704038" stroke-width="1" fill="none"/>
<path d="M592.9,729.1V733.2M589.9,729.1H595.9M589.9,733.2H595.9" stroke="#704038" stroke-width="1" fill="none"/>
<path d="M617.5,712.7V729.9M614.5,712.7H620.5M614.5,729.9H620.5" stroke="#704038" stroke-width="1" fill="none"/>
<path d="M642.1,713.3V722.3M639.1,713.3H645.1M639.1,722.3H645.1" stroke="#704038" stroke-width="1" fill="none"/>
<path d="M666.6,723.6V730.5M663.6,723.6H669.6M663.6,730.5H669.6" stroke="#704038" stroke-width="1" fill="none"/>
<path d="M691.2,733.2V736.7M688.2,733.2H694.2M688.2,736.7H694.2" stroke="#704038" stroke-width="1" fill="none"/>
<path d="M715.7,714.6V733.2M712.7,714.6H718.7M712.7,733.2H718.7" stroke="#704038" stroke-width="1" fill="none"/>
<path d="M740.3,714.6V721.7M737.3,714.6H743.3M737.3,721.7H743.3" stroke="#704038" stroke-width="1" fill="none"/>
<path d="M764.9,722.3V730.5M761.9,722.3H767.9M761.9,730.5H767.9" stroke="#704038" stroke-width="1" fill="none"/>
<path d="M789.4,731.0V735.9M786.4,731.0H792.4M786.4,735.9H792.4" stroke="#704038" stroke-width="1" fill="none"/>
<path d="M814.0,714.9V731.0M811.0,714.9H817.0M811.0,731.0H817.0" stroke="#704038" stroke-width="1" fill="none"/>
<path d="M838.5,715.5V723.6M835.5,715.5H841.5M835.5,723.6H841.5" stroke="#704038" stroke-width="1" fill="none"/>
<path d="M863.1,724.2V731.8M860.1,724.2H866.1M860.1,731.8H866.1" stroke="#704038" stroke-width="1" fill="none"/>
<path d="M887.7,729.9V735.9M884.7,729.9H890.7M884.7,735.9H890.7" stroke="#704038" stroke-width="1" fill="none"/>
<path d="M912.2,712.7V729.1M909.2,712.7H915.2M909.2,729.1H915.2" stroke="#704038" stroke-width="1" fill="none"/>
<path d="M936.8,713.5V723.0M933.8,713.5H939.8M933.8,723.0H939.8" stroke="#704038" stroke-width="1" fill="none"/>
<path d="M961.3,724.2V732.0M958.3,724.2H964.3M958.3,732.0H964.3" stroke="#704038" stroke-width="1" fill="none"/>
<path d="M985.9,728.0V735.1M982.9,728.0H988.9M982.9,735.1H988.9" stroke="#704038" stroke-width="1" fill="none"/>
<path d="M1010.5,711.5V727.3M1007.5,711.5H1013.5M1007.5,727.3H1013.5" stroke="#704038" stroke-width="1" fill="none"/>
<path d="M1035.0,711.5V723.6M1032.0,711.5H1038.0M1032.0,723.6H1038.0" stroke="#704038" stroke-width="1" fill="none"/>
<path d="M1059.6,724.2V732.2M1056.6,724.2H1062.6M1056.6,732.2H1062.6" stroke="#704038" stroke-width="1" fill="none"/>
<path d="M1084.1,729.6V737.6M1081.1,729.6H1087.1M1081.1,737.6H1087.1" stroke="#704038" stroke-width="1" fill="none"/>
<polyline points="126.3,711.4 138.6,712.7 150.9,719.5 163.1,723.6 175.4,725.5 187.7,729.0 200.0,722.3 212.3,714.0 224.5,708.6 236.8,710.5 249.1,718.2 261.4,721.0 273.7,725.0 285.9,727.2 298.2,717.4 310.5,710.0 322.8,704.0 335.1,707.3 347.3,712.7 359.6,715.5 371.9,718.2 384.2,721.7 396.5,715.5 408.7,707.3 421.0,701.5 433.3,703.2 445.6,711.4 457.9,715.5 470.1,724.5 482.4,727.7 494.7,724.5 507.0,712.7 519.3,706.7 531.5,711.4 543.8,718.2 556.1,722.3 568.4,729.0 580.7,732.6 592.9,729.0 605.2,718.2 617.5,712.7 629.8,715.5 642.1,723.0 654.3,726.4 666.6,731.3 678.9,736.0 691.2,732.6 703.5,720.9 715.7,714.0 728.0,715.5 740.3,720.9 752.6,725.0 764.9,730.0 777.1,735.0 789.4,730.5 801.7,720.9 814.0,714.6 826.3,715.5 838.5,723.6 850.8,726.4 863.1,730.5 875.4,735.0 887.7,729.0 899.9,718.2 912.2,712.7 924.5,714.5 936.8,723.6 949.1,727.8 961.3,732.2 973.6,735.0 985.9,728.2 998.2,714.5 1010.5,711.5 1022.7,712.7 1035.0,722.7 1047.3,726.4 1059.6,731.5 1071.9,735.8 1084.1,729.6" fill="none" stroke="#704038" stroke-width="1.3"/>
<polyline points="126.3,760.4 138.6,766.0 150.9,762.6 163.1,761.3 175.4,761.8 187.7,763.2 200.0,761.3 212.3,764.5 224.5,768.0 236.8,768.6 249.1,768.6 261.4,768.6 273.7,768.6 285.9,767.3 298.2,767.5 310.5,768.0 322.8,766.8 335.1,766.4 347.3,767.0 359.6,767.3 371.9,767.5 384.2,770.0 396.5,769.0 408.7,768.0 421.0,766.4 433.3,768.0 445.6,761.8 457.9,756.4 470.1,744.6 482.4,745.5 494.7,747.5 507.0,751.0 519.3,755.0 531.5,759.5 543.8,764.5 556.1,768.0 568.4,751.0 580.7,747.6 592.9,748.2 605.2,755.0 617.5,761.8 629.8,767.0 642.1,770.0 654.3,763.2 666.6,754.5 678.9,751.0 691.2,749.5 703.5,765.0 715.7,761.5 728.0,757.5 740.3,754.5 752.6,751.5 764.9,748.7 777.1,747.4 789.4,749.5 801.7,755.5 814.0,757.5 826.3,758.3 838.5,758.3 850.8,758.3 863.1,758.3 875.4,757.0 887.7,753.6 899.9,757.6 912.2,761.0 924.5,761.3 936.8,763.6 949.1,763.6 961.3,762.4 973.6,755.5 985.9,763.0 998.2,769.0 1010.5,773.6 1022.7,774.2 1035.0,774.5 1047.3,771.8 1059.6,767.3 1071.9,762.4 1084.1,761.8" fill="none" stroke="#fff" stroke-width="2"/>
<polyline points="126.3,760.4 138.6,766.0 150.9,762.6 163.1,761.3 175.4,761.8 187.7,763.2 200.0,761.3 212.3,764.5 224.5,768.0 236.8,768.6 249.1,768.6 261.4,768.6 273.7,768.6 285.9,767.3 298.2,767.5 310.5,768.0 322.8,766.8 335.1,766.4 347.3,767.0 359.6,767.3 371.9,767.5 384.2,770.0 396.5,769.0 408.7,768.0 421.0,766.4 433.3,768.0 445.6,761.8 457.9,756.4 470.1,744.6 482.4,745.5 494.7,747.5 507.0,751.0 519.3,755.0 531.5,759.5 543.8,764.5 556.1,768.0 568.4,751.0 580.7,747.6 592.9,748.2 605.2,755.0 617.5,761.8 629.8,767.0 642.1,770.0 654.3,763.2 666.6,754.5 678.9,751.0 691.2,749.5 703.5,765.0 715.7,761.5 728.0,757.5 740.3,754.5 752.6,751.5 764.9,748.7 777.1,747.4 789.4,749.5 801.7,755.5 814.0,757.5 826.3,758.3 838.5,758.3 850.8,758.3 863.1,758.3 875.4,757.0 887.7,753.6 899.9,757.6 912.2,761.0 924.5,761.3 936.8,763.6 949.1,763.6 961.3,762.4 973.6,755.5 985.9,763.0 998.2,769.0 1010.5,773.6 1022.7,774.2 1035.0,774.5 1047.3,771.8 1059.6,767.3 1071.9,762.4 1084.1,761.8" fill="none" stroke="#704038" stroke-width="2" stroke-dasharray="3,2"/>
<clipPath id="crh"><polygon points="126.3,865.5 126.3,838.5 138.6,841.8 150.9,832.3 163.1,829.0 175.4,826.3 187.7,825.5 200.0,830.0 212.3,839.6 224.5,846.4 236.8,846.4 249.1,840.4 261.4,838.5 273.7,835.0 285.9,832.3 298.2,840.4 310.5,846.4 322.8,848.0 335.1,847.0 347.3,842.4 359.6,840.4 371.9,839.4 384.2,838.3 396.5,843.2 408.7,846.4 421.0,848.6 433.3,848.0 445.6,838.3 457.9,830.9 470.1,800.4 482.4,794.1 494.7,805.0 507.0,828.7 519.3,836.9 531.5,840.4 543.8,838.5 556.1,837.2 568.4,799.0 580.7,787.3 592.9,795.5 605.2,826.3 617.5,839.6 629.8,843.2 642.1,838.3 654.3,824.9 666.6,802.3 678.9,788.6 691.2,793.3 703.5,836.4 715.7,838.5 728.0,831.7 740.3,819.2 752.6,811.0 764.9,794.1 777.1,784.5 789.4,796.3 801.7,824.0 814.0,831.7 826.3,831.4 838.5,821.9 850.8,816.5 863.1,813.2 875.4,801.7 887.7,807.7 899.9,830.0 912.2,837.7 924.5,835.7 936.8,830.8 949.1,827.6 961.3,819.5 973.6,801.6 985.9,825.0 998.2,842.7 1010.5,848.6 1022.7,847.7 1035.0,841.7 1047.3,836.5 1059.6,827.2 1071.9,812.6 1084.1,821.7 1084.1,865.5"/></clipPath>
<g clip-path="url(#crh)">
<rect x="126.3" y="842.1" width="957.8" height="24.7" fill="#e8f2e8"/>
<rect x="126.3" y="829.7" width="957.8" height="12.4" fill="#c8d8c8"/>
<rect x="126.3" y="817.3" width="957.8" height="12.4" fill="#a0cca0"/>
<rect x="126.3" y="804.9" width="957.8" height="12.4" fill="#78d478"/>
<rect x="126.3" y="792.6" width="957.8" height="12.4" fill="#50e850"/>
<rect x="126.3" y="743.1" width="957.8" height="49.5" fill="#30e830"/>
</g>
<line x1="120.5" y1="792.2" x2="1090.5" y2="792.2" stroke="#a0a0a0" stroke-width="1" stroke-dasharray="4,2"/>
<line x1="120.5" y1="817.3" x2="1090.5" y2="817.3" stroke="#a0a0a0" stroke-width="1" stroke-dasharray="4,2"/>
<line x1="120.5" y1="841.3" x2="1090.5" y2="841.3" stroke="#a0a0a0" stroke-width="1" stroke-dasharray="4,2"/>
<line x1="175.5" y1="780.5" x2="175.5" y2="865.5" stroke="#a0a0a0" stroke-width="1" stroke-dasharray="4,2"/>
<line x1="273.7" y1="780.5" x2="273.7" y2="865.5" stroke="#a0a0a0" stroke-width="1" stroke-dasharray="4,2"/>
<line x1="371.9" y1="780.5" x2="371.9" y2="865.5" stroke="#a0a0a0" stroke-width="1" stroke-dasharray="4,2"/>
<line x1="470.2" y1="780.5" x2="470.2" y2="865.5" stroke="#a0a0a0" stroke-width="1" stroke-dasharray="4,2"/>
<line x1="568.4" y1="780.5" x2="568.4" y2="865.5" stroke="#a0a0a0" stroke-width="1" stroke-dasharray="4,2"/>
<line x1="666.6" y1="780.5" x2="666.6" y2="865.5" stroke="#a0a0a0" stroke-width="1" stroke-dasharray="4,2"/>
<line x1="764.8" y1="780.5" x2="764.8" y2="865.5" stroke="#a0a0a0" stroke-width="1" stroke-dasharray="4,2"/>
<line x1="863.0" y1="780.5" x2="863.0" y2="865.5" stroke="#a0a0a0" stroke-width="1" stroke-dasharray="4,2"/>
<line x1="961.3" y1="780.5" x2="961.3" y2="865.5" stroke="#a0a0a0" stroke-width="1" stroke-dasharray="4,2"/>
<line x1="1059.5" y1="780.5" x2="1059.5" y2="865.5" stroke="#a0a0a0" stroke-width="1" stroke-dasharray="4,2"/>
<polyline points="126.3,838.5 138.6,841.8 150.9,832.3 163.1,829.0 175.4,826.3 187.7,825.5 200.0,830.0 212.3,839.6 224.5,846.4 236.8,846.4 249.1,840.4 261.4,838.5 273.7,835.0 285.9,832.3 298.2,840.4 310.5,846.4 322.8,848.0 335.1,847.0 347.3,842.4 359.6,840.4 371.9,839.4 384.2,838.3 396.5,843.2 408.7,846.4 421.0,848.6 433.3,848.0 445.6,838.3 457.9,830.9 470.1,800.4 482.4,794.1 494.7,805.0 507.0,828.7 519.3,836.9 531.5,840.4 543.8,838.5 556.1,837.2 568.4,799.0 580.7,787.3 592.9,795.5 605.2,826.3 617.5,839.6 629.8,843.2 642.1,838.3 654.3,824.9 666.6,802.3 678.9,788.6 691.2,793.3 703.5,836.4 715.7,838.5 728.0,831.7 740.3,819.2 752.6,811.0 764.9,794.1 777.1,784.5 789.4,796.3 801.7,824.0 814.0,831.7 826.3,831.4 838.5,821.9 850.8,816.5 863.1,813.2 875.4,801.7 887.7,807.7 899.9,830.0 912.2,837.7 924.5,835.7 936.8,830.8 949.1,827.6 961.3,819.5 973.6,801.6 985.9,825.0 998.2,842.7 1010.5,848.6 1022.7,847.7 1035.0,841.7 1047.3,836.5 1059.6,827.2 1071.9,812.6 1084.1,821.7" fill="none" stroke="#008800" stroke-width="1.3"/>
<rect x="123.5" y="835.7" width="5.6" height="5.6" rx="1.6" fill="#fff" stroke="#008800" stroke-width="1.2"/>
<rect x="135.8" y="839.0" width="5.6" height="5.6" rx="1.6" fill="#fff" stroke="#008800" stroke-width="1.2"/>
<rect x="148.1" y="829.5" width="5.6" height="5.6" rx="1.6" fill="#fff" stroke="#008800" stroke-width="1.2"/>
<rect x="160.3" y="826.2" width="5.6" height="5.6" rx="1.6" fill="#fff" stroke="#008800" stroke-width="1.2"/>
<rect x="172.6" y="823.5" width="5.6" height="5.6" rx="1.6" fill="#fff" stroke="#008800" stroke-width="1.2"/>
<rect x="184.9" y="822.7" width="5.6" height="5.6" rx="1.6" fill="#fff" stroke="#008800" stroke-width="1.2"/>
<rect x="197.2" y="827.2" width="5.6" height="5.6" rx="1.6" fill="#fff" stroke="#008800" stroke-width="1.2"/>
<rect x="209.5" y="836.8" width="5.6" height="5.6" rx="1.6" fill="#fff" stroke="#008800" stroke-width="1.2"/>
<rect x="221.7" y="843.6" width="5.6" height="5.6" rx="1.6" fill="#fff" stroke="#008800" stroke-width="1.2"/>
<rect x="234.0" y="843.6" width="5.6" height="5.6" rx="1.6" fill="#fff" stroke="#008800" stroke-width="1.2"/>
<rect x="246.3" y="837.6" width="5.6" height="5.6" rx="1.6" fill="#fff" stroke="#008800" stroke-width="1.2"/>
<rect x="258.6" y="835.7" width="5.6" height="5.6" rx="1.6" fill="#fff" stroke="#008800" stroke-width="1.2"/>
<rect x="270.9" y="832.2" width="5.6" height="5.6" rx="1.6" fill="#fff" stroke="#008800" stroke-width="1.2"/>
<rect x="283.1" y="829.5" width="5.6" height="5.6" rx="1.6" fill="#fff" stroke="#008800" stroke-width="1.2"/>
<rect x="295.4" y="837.6" width="5.6" height="5.6" rx="1.6" fill="#fff" stroke="#008800" stroke-width="1.2"/>
<rect x="307.7" y="843.6" width="5.6" height="5.6" rx="1.6" fill="#fff" stroke="#008800" stroke-width="1.2"/>
<rect x="320.0" y="845.2" width="5.6" height="5.6" rx="1.6" fill="#fff" stroke="#008800" stroke-width="1.2"/>
<rect x="332.3" y="844.2" width="5.6" height="5.6" rx="1.6" fill="#fff" stroke="#008800" stroke-width="1.2"/>
<rect x="344.5" y="839.6" width="5.6" height="5.6" rx="1.6" fill="#fff" stroke="#008800" stroke-width="1.2"/>
<rect x="356.8" y="837.6" width="5.6" height="5.6" rx="1.6" fill="#fff" stroke="#008800" stroke-width="1.2"/>
<rect x="369.1" y="836.6" width="5.6" height="5.6" rx="1.6" fill="#fff" stroke="#008800" stroke-width="1.2"/>
<rect x="381.4" y="835.5" width="5.6" height="5.6" rx="1.6" fill="#fff" stroke="#008800" stroke-width="1.2"/>
<rect x="393.7" y="840.4" width="5.6" height="5.6" rx="1.6" fill="#fff" stroke="#008800" stroke-width="1.2"/>
<rect x="405.9" y="843.6" width="5.6" height="5.6" rx="1.6" fill="#fff" stroke="#008800" stroke-width="1.2"/>
<rect x="418.2" y="845.8" width="5.6" height="5.6" rx="1.6" fill="#fff" stroke="#008800" stroke-width="1.2"/>
<rect x="430.5" y="845.2" width="5.6" height="5.6" rx="1.6" fill="#fff" stroke="#008800" stroke-width="1.2"/>
<rect x="442.8" y="835.5" width="5.6" height="5.6" rx="1.6" fill="#fff" stroke="#008800" stroke-width="1.2"/>
<rect x="455.1" y="828.1" width="5.6" height="5.6" rx="1.6" fill="#fff" stroke="#008800" stroke-width="1.2"/>
<rect x="467.3" y="797.6" width="5.6" height="5.6" rx="1.6" fill="#fff" stroke="#008800" stroke-width="1.2"/>
<rect x="479.6" y="791.3" width="5.6" height="5.6" rx="1.6" fill="#fff" stroke="#008800" stroke-width="1.2"/>
<rect x="491.9" y="802.2" width="5.6" height="5.6" rx="1.6" fill="#fff" stroke="#008800" stroke-width="1.2"/>
<rect x="504.2" y="825.9" width="5.6" height="5.6" rx="1.6" fill="#fff" stroke="#008800" stroke-width="1.2"/>
<rect x="516.5" y="834.1" width="5.6" height="5.6" rx="1.6" fill="#fff" stroke="#008800" stroke-width="1.2"/>
<rect x="528.7" y="837.6" width="5.6" height="5.6" rx="1.6" fill="#fff" stroke="#008800" stroke-width="1.2"/>
<rect x="541.0" y="835.7" width="5.6" height="5.6" rx="1.6" fill="#fff" stroke="#008800" stroke-width="1.2"/>
<rect x="553.3" y="834.4" width="5.6" height="5.6" rx="1.6" fill="#fff" stroke="#008800" stroke-width="1.2"/>
<rect x="565.6" y="796.2" width="5.6" height="5.6" rx="1.6" fill="#fff" stroke="#008800" stroke-width="1.2"/>
<rect x="577.9" y="784.5" width="5.6" height="5.6" rx="1.6" fill="#fff" stroke="#008800" stroke-width="1.2"/>
<rect x="590.1" y="792.7" width="5.6" height="5.6" rx="1.6" fill="#fff" stroke="#008800" stroke-width="1.2"/>
<rect x="602.4" y="823.5" width="5.6" height="5.6" rx="1.6" fill="#fff" stroke="#008800" stroke-width="1.2"/>
<rect x="614.7" y="836.8" width="5.6" height="5.6" rx="1.6" fill="#fff" stroke="#008800" stroke-width="1.2"/>
<rect x="627.0" y="840.4" width="5.6" height="5.6" rx="1.6" fill="#fff" stroke="#008800" stroke-width="1.2"/>
<rect x="639.3" y="835.5" width="5.6" height="5.6" rx="1.6" fill="#fff" stroke="#008800" stroke-width="1.2"/>
<rect x="651.5" y="822.1" width="5.6" height="5.6" rx="1.6" fill="#fff" stroke="#008800" stroke-width="1.2"/>
<rect x="663.8" y="799.5" width="5.6" height="5.6" rx="1.6" fill="#fff" stroke="#008800" stroke-width="1.2"/>
<rect x="676.1" y="785.8" width="5.6" height="5.6" rx="1.6" fill="#fff" stroke="#008800" stroke-width="1.2"/>
<rect x="688.4" y="790.5" width="5.6" height="5.6" rx="1.6" fill="#fff" stroke="#008800" stroke-width="1.2"/>
<rect x="700.7" y="833.6" width="5.6" height="5.6" rx="1.6" fill="#fff" stroke="#008800" stroke-width="1.2"/>
<rect x="712.9" y="835.7" width="5.6" height="5.6" rx="1.6" fill="#fff" stroke="#008800" stroke-width="1.2"/>
<rect x="725.2" y="828.9" width="5.6" height="5.6" rx="1.6" fill="#fff" stroke="#008800" stroke-width="1.2"/>
<rect x="737.5" y="816.4" width="5.6" height="5.6" rx="1.6" fill="#fff" stroke="#008800" stroke-width="1.2"/>
<rect x="749.8" y="808.2" width="5.6" height="5.6" rx="1.6" fill="#fff" stroke="#008800" stroke-width="1.2"/>
<rect x="762.1" y="791.3" width="5.6" height="5.6" rx="1.6" fill="#fff" stroke="#008800" stroke-width="1.2"/>
<rect x="774.3" y="781.7" width="5.6" height="5.6" rx="1.6" fill="#fff" stroke="#008800" stroke-width="1.2"/>
<rect x="786.6" y="793.5" width="5.6" height="5.6" rx="1.6" fill="#fff" stroke="#008800" stroke-width="1.2"/>
<rect x="798.9" y="821.2" width="5.6" height="5.6" rx="1.6" fill="#fff" stroke="#008800" stroke-width="1.2"/>
<rect x="811.2" y="828.9" width="5.6" height="5.6" rx="1.6" fill="#fff" stroke="#008800" stroke-width="1.2"/>
<rect x="823.5" y="828.6" width="5.6" height="5.6" rx="1.6" fill="#fff" stroke="#008800" stroke-width="1.2"/>
<rect x="835.7" y="819.1" width="5.6" height="5.6" rx="1.6" fill="#fff" stroke="#008800" stroke-width="1.2"/>
<rect x="848.0" y="813.7" width="5.6" height="5.6" rx="1.6" fill="#fff" stroke="#008800" stroke-width="1.2"/>
<rect x="860.3" y="810.4" width="5.6" height="5.6" rx="1.6" fill="#fff" stroke="#008800" stroke-width="1.2"/>
<rect x="872.6" y="798.9" width="5.6" height="5.6" rx="1.6" fill="#fff" stroke="#008800" stroke-width="1.2"/>
<rect x="884.9" y="804.9" width="5.6" height="5.6" rx="1.6" fill="#fff" stroke="#008800" stroke-width="1.2"/>
<rect x="897.1" y="827.2" width="5.6" height="5.6" rx="1.6" fill="#fff" stroke="#008800" stroke-width="1.2"/>
<rect x="909.4" y="834.9" width="5.6" height="5.6" rx="1.6" fill="#fff" stroke="#008800" stroke-width="1.2"/>
<rect x="921.7" y="832.9" width="5.6" height="5.6" rx="1.6" fill="#fff" stroke="#008800" stroke-width="1.2"/>
<rect x="934.0" y="828.0" width="5.6" height="5.6" rx="1.6" fill="#fff" stroke="#008800" stroke-width="1.2"/>
<rect x="946.3" y="824.8" width="5.6" height="5.6" rx="1.6" fill="#fff" stroke="#008800" stroke-width="1.2"/>
<rect x="958.5" y="816.7" width="5.6" height="5.6" rx="1.6" fill="#fff" stroke="#008800" stroke-width="1.2"/>
<rect x="970.8" y="798.8" width="5.6" height="5.6" rx="1.6" fill="#fff" stroke="#008800" stroke-width="1.2"/>
<rect x="983.1" y="822.2" width="5.6" height="5.6" rx="1.6" fill="#fff" stroke="#008800" stroke-width="1.2"/>
<rect x="995.4" y="839.9" width="5.6" height="5.6" rx="1.6" fill="#fff" stroke="#008800" stroke-width="1.2"/>
<rect x="1007.7" y="845.8" width="5.6" height="5.6" rx="1.6" fill="#fff" stroke="#008800" stroke-width="1.2"/>
<rect x="1019.9" y="844.9" width="5.6" height="5.6" rx="1.6" fill="#fff" stroke="#008800" stroke-width="1.2"/>
<rect x="1032.2" y="838.9" width="5.6" height="5.6" rx="1.6" fill="#fff" stroke="#008800" stroke-width="1.2"/>
<rect x="1044.5" y="833.7" width="5.6" height="5.6" rx="1.6" fill="#fff" stroke="#008800" stroke-width="1.2"/>
<rect x="1056.8" y="824.4" width="5.6" height="5.6" rx="1.6" fill="#fff" stroke="#008800" stroke-width="1.2"/>
<rect x="1069.1" y="809.8" width="5.6" height="5.6" rx="1.6" fill="#fff" stroke="#008800" stroke-width="1.2"/>
<rect x="1081.3" y="818.9" width="5.6" height="5.6" rx="1.6" fill="#fff" stroke="#008800" stroke-width="1.2"/>
<rect x="132.5" y="865.5" width="958" height="85" fill="#6aadd7"/>
<rect x="353" y="918" width="25" height="3" fill="#f0ecea"/>
<line x1="132.5" y1="972.5" x2="1090.5" y2="972.5" stroke="#a0a0a0" stroke-width="1" stroke-dasharray="4,2"/>
<line x1="132.5" y1="994.5" x2="1090.5" y2="994.5" stroke="#a0a0a0" stroke-width="1" stroke-dasharray="4,2"/>
<line x1="132.5" y1="1016.6" x2="1090.5" y2="1016.6" stroke="#a0a0a0" stroke-width="1" stroke-dasharray="4,2"/>
<line x1="132.5" y1="1038.7" x2="1090.5" y2="1038.7" stroke="#a0a0a0" stroke-width="1" stroke-dasharray="4,2"/>
<line x1="175.5" y1="950.5" x2="175.5" y2="1060.5" stroke="#a0a0a0" stroke-width="1" stroke-dasharray="4,2"/>
<line x1="273.7" y1="950.5" x2="273.7" y2="1060.5" stroke="#a0a0a0" stroke-width="1" stroke-dasharray="4,2"/>
<line x1="371.9" y1="950.5" x2="371.9" y2="1060.5" stroke="#a0a0a0" stroke-width="1" stroke-dasharray="4,2"/>
<line x1="470.2" y1="950.5" x2="470.2" y2="1060.5" stroke="#a0a0a0" stroke-width="1" stroke-dasharray="4,2"/>
<line x1="568.4" y1="950.5" x2="568.4" y2="1060.5" stroke="#a0a0a0" stroke-width="1" stroke-dasharray="4,2"/>
<line x1="666.6" y1="950.5" x2="666.6" y2="1060.5" stroke="#a0a0a0" stroke-width="1" stroke-dasharray="4,2"/>
<line x1="764.8" y1="950.5" x2="764.8" y2="1060.5" stroke="#a0a0a0" stroke-width="1" stroke-dasharray="4,2"/>
<line x1="863.0" y1="950.5" x2="863.0" y2="1060.5" stroke="#a0a0a0" stroke-width="1" stroke-dasharray="4,2"/>
<line x1="961.3" y1="950.5" x2="961.3" y2="1060.5" stroke="#a0a0a0" stroke-width="1" stroke-dasharray="4,2"/>
<line x1="1059.5" y1="950.5" x2="1059.5" y2="1060.5" stroke="#a0a0a0" stroke-width="1" stroke-dasharray="4,2"/>
<text class="t" x="1086.0" y="965.0" font-size="14" fill="#000" text-anchor="end" textLength="104" lengthAdjust="spacingAndGlyphs">Run Total = 0</text>
<path d="M120.5,70.5H1090.5V1060.5H132.5V865.5H120.5Z" stroke="#000" stroke-width="1.15" fill="none"/>
<line x1="120.5" y1="440.5" x2="1090.5" y2="440.5" stroke="#000" stroke-width="1.15"/>
<line x1="120.5" y1="525.5" x2="1090.5" y2="525.5" stroke="#000" stroke-width="1.15"/>
<line x1="120.5" y1="610.5" x2="1090.5" y2="610.5" stroke="#000" stroke-width="1.15"/>
<line x1="120.5" y1="695.5" x2="1090.5" y2="695.5" stroke="#000" stroke-width="1.15"/>
<line x1="120.5" y1="780.5" x2="1090.5" y2="780.5" stroke="#000" stroke-width="1.15"/>
<line x1="132.5" y1="865.5" x2="1090.5" y2="865.5" stroke="#000" stroke-width="1.15"/>
<line x1="132.5" y1="950.5" x2="1090.5" y2="950.5" stroke="#000" stroke-width="1.15"/>
<line x1="175.5" y1="66.0" x2="175.5" y2="70.5" stroke="#000" stroke-width="1.2"/>
<line x1="175.5" y1="1060.5" x2="175.5" y2="1065.5" stroke="#000" stroke-width="1.2"/>
<line x1="273.7" y1="66.0" x2="273.7" y2="70.5" stroke="#000" stroke-width="1.2"/>
<line x1="273.7" y1="1060.5" x2="273.7" y2="1065.5" stroke="#000" stroke-width="1.2"/>
<line x1="371.9" y1="66.0" x2="371.9" y2="70.5" stroke="#000" stroke-width="1.2"/>
<line x1="371.9" y1="1060.5" x2="371.9" y2="1065.5" stroke="#000" stroke-width="1.2"/>
<line x1="470.2" y1="66.0" x2="470.2" y2="70.5" stroke="#000" stroke-width="1.2"/>
<line x1="470.2" y1="1060.5" x2="470.2" y2="1065.5" stroke="#000" stroke-width="1.2"/>
<line x1="568.4" y1="66.0" x2="568.4" y2="70.5" stroke="#000" stroke-width="1.2"/>
<line x1="568.4" y1="1060.5" x2="568.4" y2="1065.5" stroke="#000" stroke-width="1.2"/>
<line x1="666.6" y1="66.0" x2="666.6" y2="70.5" stroke="#000" stroke-width="1.2"/>
<line x1="666.6" y1="1060.5" x2="666.6" y2="1065.5" stroke="#000" stroke-width="1.2"/>
<line x1="764.8" y1="66.0" x2="764.8" y2="70.5" stroke="#000" stroke-width="1.2"/>
<line x1="764.8" y1="1060.5" x2="764.8" y2="1065.5" stroke="#000" stroke-width="1.2"/>
<line x1="863.0" y1="66.0" x2="863.0" y2="70.5" stroke="#000" stroke-width="1.2"/>
<line x1="863.0" y1="1060.5" x2="863.0" y2="1065.5" stroke="#000" stroke-width="1.2"/>
<line x1="961.3" y1="66.0" x2="961.3" y2="70.5" stroke="#000" stroke-width="1.2"/>
<line x1="961.3" y1="1060.5" x2="961.3" y2="1065.5" stroke="#000" stroke-width="1.2"/>
<line x1="1059.5" y1="66.0" x2="1059.5" y2="70.5" stroke="#000" stroke-width="1.2"/>
<line x1="1059.5" y1="1060.5" x2="1059.5" y2="1065.5" stroke="#000" stroke-width="1.2"/>
<line x1="116.0" y1="103.4" x2="120.5" y2="103.4" stroke="#000" stroke-width="1.2"/>
<text class="t" x="112.3" y="108.3" font-size="13.5" fill="#000" text-anchor="end" textLength="21.2" lengthAdjust="spacingAndGlyphs">500</text>
<line x1="116.0" y1="167.5" x2="120.5" y2="167.5" stroke="#000" stroke-width="1.2"/>
<text class="t" x="112.3" y="172.4" font-size="13.5" fill="#000" text-anchor="end" textLength="21.2" lengthAdjust="spacingAndGlyphs">600</text>
<line x1="116.0" y1="231.6" x2="120.5" y2="231.6" stroke="#000" stroke-width="1.2"/>
<text class="t" x="112.3" y="236.5" font-size="13.5" fill="#000" text-anchor="end" textLength="21.2" lengthAdjust="spacingAndGlyphs">700</text>
<line x1="116.0" y1="295.7" x2="120.5" y2="295.7" stroke="#000" stroke-width="1.2"/>
<text class="t" x="112.3" y="300.6" font-size="13.5" fill="#000" text-anchor="end" textLength="21.2" lengthAdjust="spacingAndGlyphs">800</text>
<line x1="116.0" y1="359.8" x2="120.5" y2="359.8" stroke="#000" stroke-width="1.2"/>
<text class="t" x="112.3" y="364.7" font-size="13.5" fill="#000" text-anchor="end" textLength="21.2" lengthAdjust="spacingAndGlyphs">900</text>
<line x1="116.0" y1="424.0" x2="120.5" y2="424.0" stroke="#000" stroke-width="1.2"/>
<text class="t" x="112.3" y="428.9" font-size="13.5" fill="#000" text-anchor="end" textLength="28.2" lengthAdjust="spacingAndGlyphs">1000</text>
<line x1="116.0" y1="446.2" x2="120.5" y2="446.2" stroke="#000" stroke-width="1.2"/>
<text class="t" x="112.3" y="451.1" font-size="13.5" fill="#000" text-anchor="end" textLength="28.2" lengthAdjust="spacingAndGlyphs">1014</text>
<line x1="116.0" y1="466.3" x2="120.5" y2="466.3" stroke="#000" stroke-width="1.2"/>
<text class="t" x="112.3" y="471.2" font-size="13.5" fill="#000" text-anchor="end" textLength="28.2" lengthAdjust="spacingAndGlyphs">1012</text>
<line x1="116.0" y1="486.4" x2="120.5" y2="486.4" stroke="#000" stroke-width="1.2"/>
<text class="t" x="112.3" y="491.3" font-size="13.5" fill="#000" text-anchor="end" textLength="28.2" lengthAdjust="spacingAndGlyphs">1010</text>
<line x1="116.0" y1="506.4" x2="120.5" y2="506.4" stroke="#000" stroke-width="1.2"/>
<text class="t" x="112.3" y="511.3" font-size="13.5" fill="#000" text-anchor="end" textLength="28.2" lengthAdjust="spacingAndGlyphs">1008</text>
<line x1="116.0" y1="526.2" x2="120.5" y2="526.2" stroke="#000" stroke-width="1.2"/>
<text class="t" x="112.3" y="531.1" font-size="13.5" fill="#000" text-anchor="end" textLength="14.1" lengthAdjust="spacingAndGlyphs">28</text>
<line x1="116.0" y1="547.3" x2="120.5" y2="547.3" stroke="#000" stroke-width="1.2"/>
<text class="t" x="112.3" y="552.2" font-size="13.5" fill="#000" text-anchor="end" textLength="14.1" lengthAdjust="spacingAndGlyphs">21</text>
<line x1="116.0" y1="568.3" x2="120.5" y2="568.3" stroke="#000" stroke-width="1.2"/>
<text class="t" x="112.3" y="573.2" font-size="13.5" fill="#000" text-anchor="end" textLength="14.1" lengthAdjust="spacingAndGlyphs">14</text>
<line x1="116.0" y1="589.0" x2="120.5" y2="589.0" stroke="#000" stroke-width="1.2"/>
<text class="t" x="112.3" y="593.9" font-size="13.5" fill="#000" text-anchor="end" textLength="7.1" lengthAdjust="spacingAndGlyphs">7</text>
<line x1="116.0" y1="614.4" x2="120.5" y2="614.4" stroke="#000" stroke-width="1.2"/>
<text class="t" x="112.3" y="619.3" font-size="13.5" fill="#000" text-anchor="end" textLength="14.1" lengthAdjust="spacingAndGlyphs">10</text>
<line x1="116.0" y1="632.2" x2="120.5" y2="632.2" stroke="#000" stroke-width="1.2"/>
<text class="t" x="112.3" y="637.1" font-size="13.5" fill="#000" text-anchor="end" textLength="7.1" lengthAdjust="spacingAndGlyphs">8</text>
<line x1="116.0" y1="649.2" x2="120.5" y2="649.2" stroke="#000" stroke-width="1.2"/>
<text class="t" x="112.3" y="654.1" font-size="13.5" fill="#000" text-anchor="end" textLength="7.1" lengthAdjust="spacingAndGlyphs">6</text>
<line x1="116.0" y1="667.3" x2="120.5" y2="667.3" stroke="#000" stroke-width="1.2"/>
<text class="t" x="112.3" y="672.2" font-size="13.5" fill="#000" text-anchor="end" textLength="7.1" lengthAdjust="spacingAndGlyphs">4</text>
<line x1="116.0" y1="685.2" x2="120.5" y2="685.2" stroke="#000" stroke-width="1.2"/>
<text class="t" x="112.3" y="690.1" font-size="13.5" fill="#000" text-anchor="end" textLength="7.1" lengthAdjust="spacingAndGlyphs">2</text>
<line x1="116.0" y1="702.5" x2="120.5" y2="702.5" stroke="#000" stroke-width="1.2"/>
<text class="t" x="112.3" y="707.4" font-size="13.5" fill="#000" text-anchor="end" textLength="14.1" lengthAdjust="spacingAndGlyphs">40</text>
<line x1="116.0" y1="718.5" x2="120.5" y2="718.5" stroke="#000" stroke-width="1.2"/>
<text class="t" x="112.3" y="723.4" font-size="13.5" fill="#000" text-anchor="end" textLength="14.1" lengthAdjust="spacingAndGlyphs">32</text>
<line x1="116.0" y1="734.4" x2="120.5" y2="734.4" stroke="#000" stroke-width="1.2"/>
<text class="t" x="112.3" y="739.3" font-size="13.5" fill="#000" text-anchor="end" textLength="14.1" lengthAdjust="spacingAndGlyphs">24</text>
<line x1="116.0" y1="750.5" x2="120.5" y2="750.5" stroke="#000" stroke-width="1.2"/>
<text class="t" x="112.3" y="755.4" font-size="13.5" fill="#000" text-anchor="end" textLength="14.1" lengthAdjust="spacingAndGlyphs">16</text>
<line x1="116.0" y1="766.4" x2="120.5" y2="766.4" stroke="#000" stroke-width="1.2"/>
<text class="t" x="112.3" y="771.3" font-size="13.5" fill="#000" text-anchor="end" textLength="7.1" lengthAdjust="spacingAndGlyphs">8</text>
<line x1="116.0" y1="792.2" x2="120.5" y2="792.2" stroke="#000" stroke-width="1.2"/>
<text class="t" x="112.3" y="797.1" font-size="13.5" fill="#000" text-anchor="end" textLength="14.1" lengthAdjust="spacingAndGlyphs">60</text>
<line x1="116.0" y1="817.3" x2="120.5" y2="817.3" stroke="#000" stroke-width="1.2"/>
<text class="t" x="112.3" y="822.2" font-size="13.5" fill="#000" text-anchor="end" textLength="14.1" lengthAdjust="spacingAndGlyphs">40</text>
<line x1="116.0" y1="841.3" x2="120.5" y2="841.3" stroke="#000" stroke-width="1.2"/>
<text class="t" x="112.3" y="846.2" font-size="13.5" fill="#000" text-anchor="end" textLength="14.1" lengthAdjust="spacingAndGlyphs">20</text>
<line x1="128.0" y1="972.5" x2="132.5" y2="972.5" stroke="#000" stroke-width="1.2"/>
<text class="t" x="124.3" y="977.4" font-size="13.5" fill="#000" text-anchor="end" textLength="17.6" lengthAdjust="spacingAndGlyphs">0.8</text>
<line x1="128.0" y1="994.5" x2="132.5" y2="994.5" stroke="#000" stroke-width="1.2"/>
<text class="t" x="124.3" y="999.4" font-size="13.5" fill="#000" text-anchor="end" textLength="17.6" lengthAdjust="spacingAndGlyphs">0.6</text>
<line x1="128.0" y1="1016.6" x2="132.5" y2="1016.6" stroke="#000" stroke-width="1.2"/>
<text class="t" x="124.3" y="1021.5" font-size="13.5" fill="#000" text-anchor="end" textLength="17.6" lengthAdjust="spacingAndGlyphs">0.4</text>
<line x1="128.0" y1="1038.7" x2="132.5" y2="1038.7" stroke="#000" stroke-width="1.2"/>
<text class="t" x="124.3" y="1043.6" font-size="13.5" fill="#000" text-anchor="end" textLength="17.6" lengthAdjust="spacingAndGlyphs">0.2</text>
<line x1="128.0" y1="1060.5" x2="132.5" y2="1060.5" stroke="#000" stroke-width="1.2"/>
<text class="t" x="124.3" y="1065.4" font-size="13.5" fill="#000" text-anchor="end" textLength="7.1" lengthAdjust="spacingAndGlyphs">0</text>
<text class="t" x="121.0" y="885.7" font-size="15" fill="#000" text-anchor="end">high</text>
<text class="t" x="121.0" y="914.0" font-size="15" fill="#000" text-anchor="end">middle</text>
<text class="t" x="121.0" y="942.0" font-size="15" fill="#000" text-anchor="end">low</text>
<line x1="69.6" y1="441.0" x2="69.6" y2="525.0" stroke="#000" stroke-width="1.2"/>
<line x1="65.3" y1="449.3" x2="69.6" y2="449.3" stroke="#000" stroke-width="1.2"/>
<text class="t" x="61.5" y="454.0" font-size="13" fill="#000" text-anchor="end" textLength="20.2" lengthAdjust="spacingAndGlyphs">584</text>
<line x1="65.3" y1="469.4" x2="69.6" y2="469.4" stroke="#000" stroke-width="1.2"/>
<text class="t" x="61.5" y="474.1" font-size="13" fill="#000" text-anchor="end" textLength="20.2" lengthAdjust="spacingAndGlyphs">582</text>
<line x1="65.3" y1="489.2" x2="69.6" y2="489.2" stroke="#000" stroke-width="1.2"/>
<text class="t" x="61.5" y="493.9" font-size="13" fill="#000" text-anchor="end" textLength="20.2" lengthAdjust="spacingAndGlyphs">580</text>
<line x1="65.3" y1="509.4" x2="69.6" y2="509.4" stroke="#000" stroke-width="1.2"/>
<text class="t" x="61.5" y="514.1" font-size="13" fill="#000" text-anchor="end" textLength="20.2" lengthAdjust="spacingAndGlyphs">578</text>
<line x1="50.3" y1="526.0" x2="50.3" y2="610.4" stroke="#000" stroke-width="1.2"/>
<line x1="46.5" y1="526.2" x2="50.3" y2="526.2" stroke="#000" stroke-width="1.2"/>
<text class="t" x="43.0" y="530.9" font-size="13" fill="#000" text-anchor="end" textLength="13.8" lengthAdjust="spacingAndGlyphs">−6</text>
<line x1="46.5" y1="547.5" x2="50.3" y2="547.5" stroke="#000" stroke-width="1.2"/>
<text class="t" x="43.0" y="552.2" font-size="13" fill="#000" text-anchor="end" textLength="13.8" lengthAdjust="spacingAndGlyphs">−3</text>
<line x1="46.5" y1="568.3" x2="50.3" y2="568.3" stroke="#000" stroke-width="1.2"/>
<text class="t" x="43.0" y="573.0" font-size="13" fill="#000" text-anchor="end" textLength="6.7" lengthAdjust="spacingAndGlyphs">0</text>
<line x1="46.5" y1="589.0" x2="50.3" y2="589.0" stroke="#000" stroke-width="1.2"/>
<text class="t" x="43.0" y="593.7" font-size="13" fill="#000" text-anchor="end" textLength="6.7" lengthAdjust="spacingAndGlyphs">3</text>
<line x1="46.5" y1="610.4" x2="50.3" y2="610.4" stroke="#000" stroke-width="1.2"/>
<text class="t" x="43.0" y="615.1" font-size="13" fill="#000" text-anchor="end" textLength="6.7" lengthAdjust="spacingAndGlyphs">6</text>
<text class="t thin" transform="translate(56.0,264.0) rotate(-90)" font-size="16.5" fill="#000" textLength="196" lengthAdjust="spacingAndGlyphs"><tspan fill="#ff3030">T</tspan><tspan fill="#f07828">e</tspan><tspan fill="#e8a000">m</tspan><tspan fill="#c8c800">p</tspan><tspan fill="#a0d800">e</tspan><tspan fill="#00d040">r</tspan><tspan fill="#00c8a0">a</tspan><tspan fill="#00c0e0">t</tspan><tspan fill="#1080f0">u</tspan><tspan fill="#2040f0">r</tspan><tspan fill="#8020e0">e</tspan><tspan fill="#ff3030"> (°C)</tspan>Wind (m/s)</text>
<text class="t thin" transform="translate(85.0,322.0) rotate(-90)" font-size="16.5" fill="#000" textLength="134" lengthAdjust="spacingAndGlyphs">(m i l l i b a r s)</text>
<rect x="40" y="282" width="5" height="54" fill="#00c000"/><rect x="45" y="282" width="5" height="54" fill="#00f000"/><rect x="50" y="282" width="4" height="54" fill="#78d878"/><rect x="54" y="282" width="5" height="54" fill="#a0cca0"/><rect x="59" y="282" width="4" height="54" fill="#c8d8c8"/>
<text class="t" transform="translate(56.0,332.0) rotate(-90)" font-size="16.5" fill="#000" textLength="48" lengthAdjust="spacingAndGlyphs">RH (%)</text>
<text class="t thin" transform="translate(21.0,532.0) rotate(-90)" font-size="16.5" fill="#00c0c0" textLength="97" lengthAdjust="spacingAndGlyphs">1000-500mb</text>
<text class="t thin" transform="translate(37.0,532.0) rotate(-90)" font-size="16.5" fill="#00c0c0" textLength="97" lengthAdjust="spacingAndGlyphs">Thcknss (dm)</text>
<text class="t thin" transform="translate(86.0,516.0) rotate(-90)" font-size="16.5" fill="#2040f0" textLength="69" lengthAdjust="spacingAndGlyphs">SLP (mb)</text>
<text class="t thin" transform="translate(21.0,609.0) rotate(-90)" font-size="16.5" fill="#f04040" textLength="82" lengthAdjust="spacingAndGlyphs">Lifted Index</text>
<text class="t thin" transform="translate(86.0,611.0) rotate(-90)" font-size="16.5" fill="#c080f0" textLength="87" lengthAdjust="spacingAndGlyphs">CAPE (J/kg)</text>
<text class="t thin" transform="translate(21.0,687.0) rotate(-90)" font-size="16.5" fill="#f89020" textLength="68.5" lengthAdjust="spacingAndGlyphs">10m Wind</text>
<text class="t thin" transform="translate(40.5,673.6) rotate(-90)" font-size="16.5" fill="#f89020" textLength="40.6" lengthAdjust="spacingAndGlyphs">Speed</text>
<text class="t thin" transform="translate(60.5,682.0) rotate(-90)" font-size="16.5" fill="#7a5a40" textLength="58" lengthAdjust="spacingAndGlyphs">&amp; Barbs</text>
<text class="t thin" transform="translate(81.0,672.0) rotate(-90)" font-size="16.5" fill="#000" textLength="40" lengthAdjust="spacingAndGlyphs">(m/s)</text>
<text class="t thin" transform="translate(21.0,771.0) rotate(-90)" font-size="16.5" fill="#7a3a2c" textLength="65" lengthAdjust="spacingAndGlyphs">2m Temp</text>
<text class="t thin" transform="translate(41.0,774.0) rotate(-90)" font-size="16.5" fill="#7a3a2c" textLength="80" lengthAdjust="spacingAndGlyphs">2m DewPt</text>
<text class="t thin" transform="translate(60.5,789.0) rotate(-90)" font-size="16.5" fill="#7a3a2c" textLength="98" lengthAdjust="spacingAndGlyphs">(6hr Min/Max)</text>
<text class="t thin" transform="translate(81.0,750.0) rotate(-90)" font-size="16.5" fill="#000" textLength="25" lengthAdjust="spacingAndGlyphs">(°C)</text>
<text class="t thin" transform="translate(40.5,846.5) rotate(-90)" font-size="16.5" fill="#20c020" textLength="46.5" lengthAdjust="spacingAndGlyphs">2m RH</text>
<text class="t thin" transform="translate(81.0,832.0) rotate(-90)" font-size="16.5" fill="#000" textLength="20" lengthAdjust="spacingAndGlyphs">(%)</text>
<text class="t thin" transform="translate(31.5,949.4) rotate(-90)" font-size="16.5" fill="#5aa0d8" textLength="84" lengthAdjust="spacingAndGlyphs">Cloud Cover</text>
<text class="t thin" transform="translate(53.0,918.0) rotate(-90)" font-size="16.5" fill="#000" textLength="20" lengthAdjust="spacingAndGlyphs">(%)</text>
<text class="t thin" transform="translate(91.0,1050.0) rotate(-90)" font-size="16.5" fill="#000" textLength="121" lengthAdjust="spacingAndGlyphs">3hr Precip (mm)</text>
<text class="t" x="69.4" y="977.0" font-size="16.5" fill="#20d020" text-anchor="end" textLength="88" lengthAdjust="spacingAndGlyphs">Total / Rain</text>
<text class="t" x="69.4" y="997.0" font-size="16.5" fill="#f03030" text-anchor="end" textLength="76" lengthAdjust="spacingAndGlyphs">Convective</text>
</svg></body></html>
